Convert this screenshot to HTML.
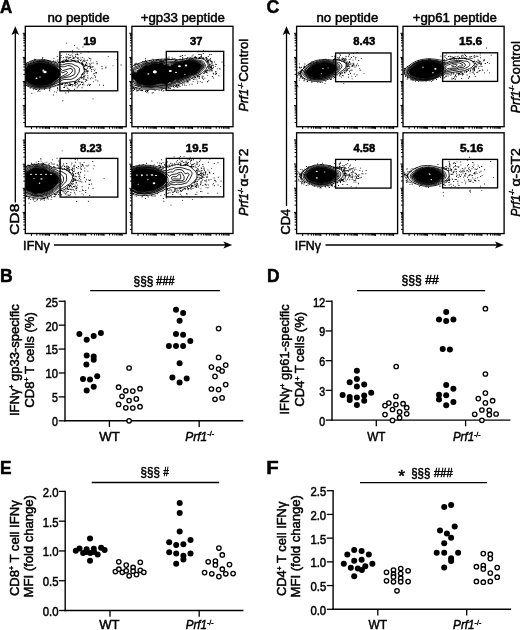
<!DOCTYPE html>
<html><head><meta charset="utf-8"><style>
html,body{margin:0;padding:0;background:#fff;}
svg{display:block;font-family:"Liberation Sans", sans-serif;will-change:transform;}
text{stroke:#000;stroke-width:0.5px;}
</style></head><body>
<svg width="520" height="630" viewBox="0 0 520 630">
<rect width="520" height="630" fill="#fff"/>
<path d="M25.3 33.3h-2.6M25.3 57.4h-2.6M25.3 81.5h-2.6M25.3 105.6h-2.6M25.3 50.2h-2.0M25.3 45.9h-2.0M25.3 42.9h-2.0M25.3 40.6h-2.0M25.3 38.7h-2.0M25.3 37.1h-2.0M25.3 35.7h-2.0M25.3 34.4h-2.0M25.3 74.3h-2.0M25.3 70.0h-2.0M25.3 67.0h-2.0M25.3 64.7h-2.0M25.3 62.8h-2.0M25.3 61.2h-2.0M25.3 59.8h-2.0M25.3 58.5h-2.0M25.3 98.4h-2.0M25.3 94.1h-2.0M25.3 91.1h-2.0M25.3 88.8h-2.0M25.3 86.9h-2.0M25.3 85.3h-2.0M25.3 83.9h-2.0M25.3 82.6h-2.0M25.3 122.5h-2.0M25.3 118.2h-2.0M25.3 115.2h-2.0M25.3 112.9h-2.0M25.3 111.0h-2.0M25.3 109.3h-2.0M25.3 108.0h-2.0M25.3 106.7h-2.0M31.4 126.7v2.4M49.5 126.7v2.4M67.7 126.7v2.4M85.8 126.7v2.4M104.0 126.7v2.4M122.2 126.7v2.4M36.8 126.7v2.0M40.0 126.7v2.0M42.3 126.7v2.0M44.0 126.7v2.0M45.5 126.7v2.0M46.7 126.7v2.0M47.8 126.7v2.0M48.7 126.7v2.0M55.0 126.7v2.0M58.2 126.7v2.0M60.5 126.7v2.0M62.2 126.7v2.0M63.6 126.7v2.0M64.9 126.7v2.0M65.9 126.7v2.0M66.8 126.7v2.0M73.1 126.7v2.0M76.3 126.7v2.0M78.6 126.7v2.0M80.4 126.7v2.0M81.8 126.7v2.0M83.0 126.7v2.0M84.1 126.7v2.0M85.0 126.7v2.0M91.3 126.7v2.0M94.5 126.7v2.0M96.8 126.7v2.0M98.5 126.7v2.0M100.0 126.7v2.0M101.2 126.7v2.0M102.2 126.7v2.0M103.2 126.7v2.0M109.5 126.7v2.0M112.7 126.7v2.0M114.9 126.7v2.0M116.7 126.7v2.0M118.1 126.7v2.0M119.4 126.7v2.0M120.4 126.7v2.0M121.3 126.7v2.0" stroke="#000" stroke-width="1.0" fill="none"/>
<path d="M131.9 33.3h-2.6M131.9 57.4h-2.6M131.9 81.5h-2.6M131.9 105.6h-2.6M131.9 50.2h-2.0M131.9 45.9h-2.0M131.9 42.9h-2.0M131.9 40.6h-2.0M131.9 38.7h-2.0M131.9 37.1h-2.0M131.9 35.7h-2.0M131.9 34.4h-2.0M131.9 74.3h-2.0M131.9 70.0h-2.0M131.9 67.0h-2.0M131.9 64.7h-2.0M131.9 62.8h-2.0M131.9 61.2h-2.0M131.9 59.8h-2.0M131.9 58.5h-2.0M131.9 98.4h-2.0M131.9 94.1h-2.0M131.9 91.1h-2.0M131.9 88.8h-2.0M131.9 86.9h-2.0M131.9 85.3h-2.0M131.9 83.9h-2.0M131.9 82.6h-2.0M131.9 122.5h-2.0M131.9 118.2h-2.0M131.9 115.2h-2.0M131.9 112.9h-2.0M131.9 111.0h-2.0M131.9 109.3h-2.0M131.9 108.0h-2.0M131.9 106.7h-2.0M138.0 126.7v2.4M156.2 126.7v2.4M174.4 126.7v2.4M192.6 126.7v2.4M210.8 126.7v2.4M229.0 126.7v2.4M143.4 126.7v2.0M146.6 126.7v2.0M148.9 126.7v2.0M150.7 126.7v2.0M152.1 126.7v2.0M153.3 126.7v2.0M154.4 126.7v2.0M155.3 126.7v2.0M161.6 126.7v2.0M164.8 126.7v2.0M167.1 126.7v2.0M168.9 126.7v2.0M170.3 126.7v2.0M171.5 126.7v2.0M172.6 126.7v2.0M173.5 126.7v2.0M179.8 126.7v2.0M183.0 126.7v2.0M185.3 126.7v2.0M187.1 126.7v2.0M188.5 126.7v2.0M189.7 126.7v2.0M190.8 126.7v2.0M191.7 126.7v2.0M198.0 126.7v2.0M201.2 126.7v2.0M203.5 126.7v2.0M205.3 126.7v2.0M206.7 126.7v2.0M207.9 126.7v2.0M209.0 126.7v2.0M209.9 126.7v2.0M216.2 126.7v2.0M219.4 126.7v2.0M221.7 126.7v2.0M223.5 126.7v2.0M224.9 126.7v2.0M226.1 126.7v2.0M227.2 126.7v2.0M228.1 126.7v2.0" stroke="#000" stroke-width="1.0" fill="none"/>
<path d="M25.3 140.1h-2.6M25.3 164.2h-2.6M25.3 188.3h-2.6M25.3 212.4h-2.6M25.3 157.0h-2.0M25.3 152.7h-2.0M25.3 149.7h-2.0M25.3 147.4h-2.0M25.3 145.5h-2.0M25.3 143.9h-2.0M25.3 142.5h-2.0M25.3 141.2h-2.0M25.3 181.1h-2.0M25.3 176.8h-2.0M25.3 173.8h-2.0M25.3 171.5h-2.0M25.3 169.6h-2.0M25.3 168.0h-2.0M25.3 166.6h-2.0M25.3 165.3h-2.0M25.3 205.2h-2.0M25.3 200.9h-2.0M25.3 197.9h-2.0M25.3 195.6h-2.0M25.3 193.7h-2.0M25.3 192.1h-2.0M25.3 190.7h-2.0M25.3 189.4h-2.0M25.3 229.3h-2.0M25.3 225.0h-2.0M25.3 222.0h-2.0M25.3 219.7h-2.0M25.3 217.8h-2.0M25.3 216.1h-2.0M25.3 214.8h-2.0M25.3 213.5h-2.0M31.4 233.5v2.4M49.5 233.5v2.4M67.7 233.5v2.4M85.8 233.5v2.4M104.0 233.5v2.4M122.2 233.5v2.4M36.8 233.5v2.0M40.0 233.5v2.0M42.3 233.5v2.0M44.0 233.5v2.0M45.5 233.5v2.0M46.7 233.5v2.0M47.8 233.5v2.0M48.7 233.5v2.0M55.0 233.5v2.0M58.2 233.5v2.0M60.5 233.5v2.0M62.2 233.5v2.0M63.6 233.5v2.0M64.9 233.5v2.0M65.9 233.5v2.0M66.8 233.5v2.0M73.1 233.5v2.0M76.3 233.5v2.0M78.6 233.5v2.0M80.4 233.5v2.0M81.8 233.5v2.0M83.0 233.5v2.0M84.1 233.5v2.0M85.0 233.5v2.0M91.3 233.5v2.0M94.5 233.5v2.0M96.8 233.5v2.0M98.5 233.5v2.0M100.0 233.5v2.0M101.2 233.5v2.0M102.2 233.5v2.0M103.2 233.5v2.0M109.5 233.5v2.0M112.7 233.5v2.0M114.9 233.5v2.0M116.7 233.5v2.0M118.1 233.5v2.0M119.4 233.5v2.0M120.4 233.5v2.0M121.3 233.5v2.0" stroke="#000" stroke-width="1.0" fill="none"/>
<path d="M131.9 140.1h-2.6M131.9 164.2h-2.6M131.9 188.3h-2.6M131.9 212.4h-2.6M131.9 157.0h-2.0M131.9 152.7h-2.0M131.9 149.7h-2.0M131.9 147.4h-2.0M131.9 145.5h-2.0M131.9 143.9h-2.0M131.9 142.5h-2.0M131.9 141.2h-2.0M131.9 181.1h-2.0M131.9 176.8h-2.0M131.9 173.8h-2.0M131.9 171.5h-2.0M131.9 169.6h-2.0M131.9 168.0h-2.0M131.9 166.6h-2.0M131.9 165.3h-2.0M131.9 205.2h-2.0M131.9 200.9h-2.0M131.9 197.9h-2.0M131.9 195.6h-2.0M131.9 193.7h-2.0M131.9 192.1h-2.0M131.9 190.7h-2.0M131.9 189.4h-2.0M131.9 229.3h-2.0M131.9 225.0h-2.0M131.9 222.0h-2.0M131.9 219.7h-2.0M131.9 217.8h-2.0M131.9 216.1h-2.0M131.9 214.8h-2.0M131.9 213.5h-2.0M138.0 233.5v2.4M156.2 233.5v2.4M174.4 233.5v2.4M192.6 233.5v2.4M210.8 233.5v2.4M229.0 233.5v2.4M143.4 233.5v2.0M146.6 233.5v2.0M148.9 233.5v2.0M150.7 233.5v2.0M152.1 233.5v2.0M153.3 233.5v2.0M154.4 233.5v2.0M155.3 233.5v2.0M161.6 233.5v2.0M164.8 233.5v2.0M167.1 233.5v2.0M168.9 233.5v2.0M170.3 233.5v2.0M171.5 233.5v2.0M172.6 233.5v2.0M173.5 233.5v2.0M179.8 233.5v2.0M183.0 233.5v2.0M185.3 233.5v2.0M187.1 233.5v2.0M188.5 233.5v2.0M189.7 233.5v2.0M190.8 233.5v2.0M191.7 233.5v2.0M198.0 233.5v2.0M201.2 233.5v2.0M203.5 233.5v2.0M205.3 233.5v2.0M206.7 233.5v2.0M207.9 233.5v2.0M209.0 233.5v2.0M209.9 233.5v2.0M216.2 233.5v2.0M219.4 233.5v2.0M221.7 233.5v2.0M223.5 233.5v2.0M224.9 233.5v2.0M226.1 233.5v2.0M227.2 233.5v2.0M228.1 233.5v2.0" stroke="#000" stroke-width="1.0" fill="none"/>
<path d="M296.6 33.3h-2.6M296.6 57.4h-2.6M296.6 81.5h-2.6M296.6 105.6h-2.6M296.6 50.2h-2.0M296.6 45.9h-2.0M296.6 42.9h-2.0M296.6 40.6h-2.0M296.6 38.7h-2.0M296.6 37.1h-2.0M296.6 35.7h-2.0M296.6 34.4h-2.0M296.6 74.3h-2.0M296.6 70.0h-2.0M296.6 67.0h-2.0M296.6 64.7h-2.0M296.6 62.8h-2.0M296.6 61.2h-2.0M296.6 59.8h-2.0M296.6 58.5h-2.0M296.6 98.4h-2.0M296.6 94.1h-2.0M296.6 91.1h-2.0M296.6 88.8h-2.0M296.6 86.9h-2.0M296.6 85.3h-2.0M296.6 83.9h-2.0M296.6 82.6h-2.0M296.6 122.5h-2.0M296.6 118.2h-2.0M296.6 115.2h-2.0M296.6 112.9h-2.0M296.6 111.0h-2.0M296.6 109.3h-2.0M296.6 108.0h-2.0M296.6 106.7h-2.0M302.7 126.7v2.4M320.8 126.7v2.4M339.0 126.7v2.4M357.2 126.7v2.4M375.4 126.7v2.4M393.6 126.7v2.4M308.1 126.7v2.0M311.3 126.7v2.0M313.6 126.7v2.0M315.4 126.7v2.0M316.8 126.7v2.0M318.0 126.7v2.0M319.1 126.7v2.0M320.0 126.7v2.0M326.3 126.7v2.0M329.5 126.7v2.0M331.8 126.7v2.0M333.5 126.7v2.0M335.0 126.7v2.0M336.2 126.7v2.0M337.3 126.7v2.0M338.2 126.7v2.0M344.5 126.7v2.0M347.7 126.7v2.0M350.0 126.7v2.0M351.7 126.7v2.0M353.2 126.7v2.0M354.4 126.7v2.0M355.4 126.7v2.0M356.4 126.7v2.0M362.7 126.7v2.0M365.9 126.7v2.0M368.1 126.7v2.0M369.9 126.7v2.0M371.3 126.7v2.0M372.6 126.7v2.0M373.6 126.7v2.0M374.5 126.7v2.0M380.9 126.7v2.0M384.1 126.7v2.0M386.3 126.7v2.0M388.1 126.7v2.0M389.5 126.7v2.0M390.7 126.7v2.0M391.8 126.7v2.0M392.7 126.7v2.0" stroke="#000" stroke-width="1.0" fill="none"/>
<path d="M403.0 33.3h-2.6M403.0 57.4h-2.6M403.0 81.5h-2.6M403.0 105.6h-2.6M403.0 50.2h-2.0M403.0 45.9h-2.0M403.0 42.9h-2.0M403.0 40.6h-2.0M403.0 38.7h-2.0M403.0 37.1h-2.0M403.0 35.7h-2.0M403.0 34.4h-2.0M403.0 74.3h-2.0M403.0 70.0h-2.0M403.0 67.0h-2.0M403.0 64.7h-2.0M403.0 62.8h-2.0M403.0 61.2h-2.0M403.0 59.8h-2.0M403.0 58.5h-2.0M403.0 98.4h-2.0M403.0 94.1h-2.0M403.0 91.1h-2.0M403.0 88.8h-2.0M403.0 86.9h-2.0M403.0 85.3h-2.0M403.0 83.9h-2.0M403.0 82.6h-2.0M403.0 122.5h-2.0M403.0 118.2h-2.0M403.0 115.2h-2.0M403.0 112.9h-2.0M403.0 111.0h-2.0M403.0 109.3h-2.0M403.0 108.0h-2.0M403.0 106.7h-2.0M409.1 126.7v2.4M427.3 126.7v2.4M445.5 126.7v2.4M463.7 126.7v2.4M481.9 126.7v2.4M500.1 126.7v2.4M414.5 126.7v2.0M417.7 126.7v2.0M420.0 126.7v2.0M421.8 126.7v2.0M423.2 126.7v2.0M424.4 126.7v2.0M425.5 126.7v2.0M426.4 126.7v2.0M432.7 126.7v2.0M435.9 126.7v2.0M438.2 126.7v2.0M440.0 126.7v2.0M441.4 126.7v2.0M442.6 126.7v2.0M443.7 126.7v2.0M444.6 126.7v2.0M450.9 126.7v2.0M454.1 126.7v2.0M456.4 126.7v2.0M458.2 126.7v2.0M459.6 126.7v2.0M460.8 126.7v2.0M461.9 126.7v2.0M462.8 126.7v2.0M469.1 126.7v2.0M472.3 126.7v2.0M474.6 126.7v2.0M476.4 126.7v2.0M477.8 126.7v2.0M479.0 126.7v2.0M480.1 126.7v2.0M481.0 126.7v2.0M487.3 126.7v2.0M490.5 126.7v2.0M492.8 126.7v2.0M494.6 126.7v2.0M496.0 126.7v2.0M497.2 126.7v2.0M498.3 126.7v2.0M499.2 126.7v2.0" stroke="#000" stroke-width="1.0" fill="none"/>
<path d="M296.6 139.9h-2.6M296.6 164.0h-2.6M296.6 188.2h-2.6M296.6 212.4h-2.6M296.6 156.8h-2.0M296.6 152.5h-2.0M296.6 149.5h-2.0M296.6 147.1h-2.0M296.6 145.2h-2.0M296.6 143.6h-2.0M296.6 142.2h-2.0M296.6 141.0h-2.0M296.6 181.0h-2.0M296.6 176.7h-2.0M296.6 173.7h-2.0M296.6 171.3h-2.0M296.6 169.4h-2.0M296.6 167.8h-2.0M296.6 166.4h-2.0M296.6 165.2h-2.0M296.6 205.1h-2.0M296.6 200.9h-2.0M296.6 197.9h-2.0M296.6 195.5h-2.0M296.6 193.6h-2.0M296.6 192.0h-2.0M296.6 190.6h-2.0M296.6 189.3h-2.0M296.6 229.3h-2.0M296.6 225.1h-2.0M296.6 222.1h-2.0M296.6 219.7h-2.0M296.6 217.8h-2.0M296.6 216.2h-2.0M296.6 214.8h-2.0M296.6 213.5h-2.0M302.7 233.6v2.4M320.8 233.6v2.4M339.0 233.6v2.4M357.2 233.6v2.4M375.4 233.6v2.4M393.6 233.6v2.4M308.1 233.6v2.0M311.3 233.6v2.0M313.6 233.6v2.0M315.4 233.6v2.0M316.8 233.6v2.0M318.0 233.6v2.0M319.1 233.6v2.0M320.0 233.6v2.0M326.3 233.6v2.0M329.5 233.6v2.0M331.8 233.6v2.0M333.5 233.6v2.0M335.0 233.6v2.0M336.2 233.6v2.0M337.3 233.6v2.0M338.2 233.6v2.0M344.5 233.6v2.0M347.7 233.6v2.0M350.0 233.6v2.0M351.7 233.6v2.0M353.2 233.6v2.0M354.4 233.6v2.0M355.4 233.6v2.0M356.4 233.6v2.0M362.7 233.6v2.0M365.9 233.6v2.0M368.1 233.6v2.0M369.9 233.6v2.0M371.3 233.6v2.0M372.6 233.6v2.0M373.6 233.6v2.0M374.5 233.6v2.0M380.9 233.6v2.0M384.1 233.6v2.0M386.3 233.6v2.0M388.1 233.6v2.0M389.5 233.6v2.0M390.7 233.6v2.0M391.8 233.6v2.0M392.7 233.6v2.0" stroke="#000" stroke-width="1.0" fill="none"/>
<path d="M403.0 139.9h-2.6M403.0 164.0h-2.6M403.0 188.2h-2.6M403.0 212.4h-2.6M403.0 156.8h-2.0M403.0 152.5h-2.0M403.0 149.5h-2.0M403.0 147.1h-2.0M403.0 145.2h-2.0M403.0 143.6h-2.0M403.0 142.2h-2.0M403.0 141.0h-2.0M403.0 181.0h-2.0M403.0 176.7h-2.0M403.0 173.7h-2.0M403.0 171.3h-2.0M403.0 169.4h-2.0M403.0 167.8h-2.0M403.0 166.4h-2.0M403.0 165.2h-2.0M403.0 205.1h-2.0M403.0 200.9h-2.0M403.0 197.9h-2.0M403.0 195.5h-2.0M403.0 193.6h-2.0M403.0 192.0h-2.0M403.0 190.6h-2.0M403.0 189.3h-2.0M403.0 229.3h-2.0M403.0 225.1h-2.0M403.0 222.1h-2.0M403.0 219.7h-2.0M403.0 217.8h-2.0M403.0 216.2h-2.0M403.0 214.8h-2.0M403.0 213.5h-2.0M409.1 233.6v2.4M427.3 233.6v2.4M445.5 233.6v2.4M463.7 233.6v2.4M481.9 233.6v2.4M500.1 233.6v2.4M414.5 233.6v2.0M417.7 233.6v2.0M420.0 233.6v2.0M421.8 233.6v2.0M423.2 233.6v2.0M424.4 233.6v2.0M425.5 233.6v2.0M426.4 233.6v2.0M432.7 233.6v2.0M435.9 233.6v2.0M438.2 233.6v2.0M440.0 233.6v2.0M441.4 233.6v2.0M442.6 233.6v2.0M443.7 233.6v2.0M444.6 233.6v2.0M450.9 233.6v2.0M454.1 233.6v2.0M456.4 233.6v2.0M458.2 233.6v2.0M459.6 233.6v2.0M460.8 233.6v2.0M461.9 233.6v2.0M462.8 233.6v2.0M469.1 233.6v2.0M472.3 233.6v2.0M474.6 233.6v2.0M476.4 233.6v2.0M477.8 233.6v2.0M479.0 233.6v2.0M480.1 233.6v2.0M481.0 233.6v2.0M487.3 233.6v2.0M490.5 233.6v2.0M492.8 233.6v2.0M494.6 233.6v2.0M496.0 233.6v2.0M497.2 233.6v2.0M498.3 233.6v2.0M499.2 233.6v2.0" stroke="#000" stroke-width="1.0" fill="none"/>
<clipPath id="c1"><rect x="25.3" y="26.3" width="100.9" height="100.4"/></clipPath>
<g clip-path="url(#c1)">
<path d="M38.9 59.7h0.9v0.9h-0.9zM57.2 84.9h0.9v0.9h-0.9zM36.1 88.9h0.9v0.9h-0.9zM34.3 59.7h0.9v0.9h-0.9zM58.4 84.4h0.9v0.9h-0.9zM47.9 60.2h0.9v0.9h-0.9zM44.1 59.5h0.9v0.9h-0.9zM37.9 90.0h0.9v0.9h-0.9zM33.8 58.7h0.9v0.9h-0.9zM43.4 59.7h0.9v0.9h-0.9zM35.2 89.2h0.9v0.9h-0.9zM39.0 89.1h0.9v0.9h-0.9zM49.7 88.4h0.9v0.9h-0.9zM55.3 85.7h0.9v0.9h-0.9zM26.7 62.0h0.9v0.9h-0.9zM34.1 59.9h0.9v0.9h-0.9zM30.5 61.0h0.9v0.9h-0.9zM47.0 60.0h0.9v0.9h-0.9zM53.6 86.4h0.9v0.9h-0.9zM33.2 88.9h0.9v0.9h-0.9zM41.9 57.9h0.9v0.9h-0.9zM53.1 60.5h0.9v0.9h-0.9zM35.2 59.3h0.9v0.9h-0.9zM26.7 85.4h0.9v0.9h-0.9zM49.2 88.0h0.9v0.9h-0.9zM44.1 88.8h0.9v0.9h-0.9zM29.7 87.9h0.9v0.9h-0.9zM50.1 60.9h0.9v0.9h-0.9zM31.4 92.8h0.9v0.9h-0.9zM39.5 90.8h0.9v0.9h-0.9zM42.4 57.1h0.9v0.9h-0.9zM37.4 91.2h0.9v0.9h-0.9zM83.3 82.5h0.9v0.9h-0.9zM80.4 57.4h0.9v0.9h-0.9zM79.0 78.9h0.9v0.9h-0.9zM83.6 66.7h0.9v0.9h-0.9zM81.5 62.0h0.9v0.9h-0.9zM83.2 63.7h0.9v0.9h-0.9zM82.2 57.2h0.9v0.9h-0.9zM57.5 59.6h0.9v0.9h-0.9zM53.4 57.9h0.9v0.9h-0.9zM80.5 52.8h0.9v0.9h-0.9zM73.2 57.2h0.9v0.9h-0.9zM48.9 90.3h0.9v0.9h-0.9zM85.8 90.1h0.9v0.9h-0.9zM87.7 70.8h0.9v0.9h-0.9zM66.9 87.5h0.9v0.9h-0.9zM84.1 72.7h0.9v0.9h-0.9zM54.2 91.4h0.9v0.9h-0.9zM89.6 66.6h0.9v0.9h-0.9zM72.3 60.5h0.9v0.9h-0.9zM68.2 57.5h0.9v0.9h-0.9zM69.5 60.5h0.9v0.9h-0.9zM84.0 65.6h0.9v0.9h-0.9zM78.9 62.3h0.9v0.9h-0.9zM64.4 61.2h0.9v0.9h-0.9zM65.7 57.0h0.9v0.9h-0.9zM56.7 60.8h0.9v0.9h-0.9zM89.1 65.8h0.9v0.9h-0.9zM67.0 56.6h0.9v0.9h-0.9zM52.9 94.6h0.9v0.9h-0.9zM78.0 79.9h0.9v0.9h-0.9zM62.4 100.3h0.9v0.9h-0.9zM75.4 82.2h0.9v0.9h-0.9zM60.7 83.8h0.9v0.9h-0.9zM63.3 87.0h0.9v0.9h-0.9zM56.8 56.1h0.9v0.9h-0.9zM89.3 58.0h0.9v0.9h-0.9zM94.3 75.3h0.9v0.9h-0.9zM88.4 57.4h0.9v0.9h-0.9zM81.2 77.6h0.9v0.9h-0.9zM85.3 79.3h0.9v0.9h-0.9zM75.0 61.1h0.9v0.9h-0.9zM58.1 62.2h0.9v0.9h-0.9zM65.5 55.9h0.9v0.9h-0.9zM82.5 61.0h0.9v0.9h-0.9zM83.5 77.6h0.9v0.9h-0.9zM77.8 57.8h0.9v0.9h-0.9zM66.0 59.6h0.9v0.9h-0.9zM86.9 72.6h0.9v0.9h-0.9zM81.7 87.3h0.9v0.9h-0.9zM66.5 60.8h0.9v0.9h-0.9zM83.4 74.4h0.9v0.9h-0.9zM59.5 58.3h0.9v0.9h-0.9zM75.4 54.1h0.9v0.9h-0.9zM70.1 84.6h0.9v0.9h-0.9zM72.7 58.0h0.9v0.9h-0.9zM83.8 75.9h0.9v0.9h-0.9zM63.7 61.7h0.9v0.9h-0.9zM86.4 80.1h0.9v0.9h-0.9zM68.8 88.9h0.9v0.9h-0.9zM81.7 62.3h0.9v0.9h-0.9zM76.9 57.9h0.9v0.9h-0.9zM83.5 76.8h0.9v0.9h-0.9zM64.9 82.9h0.9v0.9h-0.9zM85.4 79.1h0.9v0.9h-0.9zM74.2 57.6h0.9v0.9h-0.9zM62.2 60.6h0.9v0.9h-0.9zM68.1 59.9h0.9v0.9h-0.9zM81.8 63.4h0.9v0.9h-0.9zM75.0 55.8h0.9v0.9h-0.9zM82.0 63.3h0.9v0.9h-0.9zM75.2 82.1h0.9v0.9h-0.9zM75.3 81.3h0.9v0.9h-0.9zM80.9 62.4h0.9v0.9h-0.9zM68.7 85.0h0.9v0.9h-0.9zM70.6 58.9h0.9v0.9h-0.9zM75.5 60.5h0.9v0.9h-0.9zM70.8 84.0h0.9v0.9h-0.9zM57.2 88.2h0.9v0.9h-0.9zM63.0 56.9h0.9v0.9h-0.9zM73.7 60.6h0.9v0.9h-0.9zM69.3 82.3h0.9v0.9h-0.9zM89.6 64.0h0.9v0.9h-0.9zM67.2 61.0h0.9v0.9h-0.9zM62.9 61.8h0.9v0.9h-0.9zM62.1 83.1h0.9v0.9h-0.9zM65.3 60.1h0.9v0.9h-0.9zM83.1 76.3h0.9v0.9h-0.9zM65.4 85.5h0.9v0.9h-0.9zM95.8 72.1h0.9v0.9h-0.9zM75.6 56.8h0.9v0.9h-0.9zM58.1 84.3h0.9v0.9h-0.9zM83.9 65.9h0.9v0.9h-0.9zM72.7 84.3h0.9v0.9h-0.9zM70.8 61.2h0.9v0.9h-0.9zM97.1 63.4h0.9v0.9h-0.9zM61.4 83.5h0.9v0.9h-0.9zM79.9 84.1h0.9v0.9h-0.9zM65.4 92.6h0.9v0.9h-0.9zM68.4 84.6h0.9v0.9h-0.9zM71.9 85.7h0.9v0.9h-0.9zM81.4 76.9h0.9v0.9h-0.9zM75.4 83.8h0.9v0.9h-0.9zM86.8 67.9h0.9v0.9h-0.9zM41.5 59.1h0.9v0.9h-0.9zM67.7 84.5h0.9v0.9h-0.9zM67.1 59.9h0.9v0.9h-0.9zM86.7 60.0h0.9v0.9h-0.9zM81.3 81.4h0.9v0.9h-0.9zM84.3 70.8h0.9v0.9h-0.9zM81.1 62.5h0.9v0.9h-0.9zM60.5 57.1h0.9v0.9h-0.9zM67.7 88.6h0.9v0.9h-0.9zM87.7 77.7h0.9v0.9h-0.9zM78.0 61.3h0.9v0.9h-0.9zM73.6 57.5h0.9v0.9h-0.9zM63.6 59.5h0.9v0.9h-0.9zM96.4 63.3h0.9v0.9h-0.9zM56.4 62.8h0.9v0.9h-0.9zM80.8 59.5h0.9v0.9h-0.9zM64.8 59.5h0.9v0.9h-0.9zM82.1 84.0h0.9v0.9h-0.9zM78.6 84.6h0.9v0.9h-0.9zM53.7 61.7h0.9v0.9h-0.9zM62.0 61.9h0.9v0.9h-0.9zM67.6 84.5h0.9v0.9h-0.9zM60.3 62.1h0.9v0.9h-0.9zM69.4 55.2h0.9v0.9h-0.9zM85.4 71.7h0.9v0.9h-0.9zM87.4 75.3h0.9v0.9h-0.9zM66.4 83.2h0.9v0.9h-0.9zM64.1 87.1h0.9v0.9h-0.9zM74.4 82.7h0.9v0.9h-0.9zM76.8 54.0h0.9v0.9h-0.9zM90.7 66.9h0.9v0.9h-0.9zM74.9 85.4h0.9v0.9h-0.9zM79.4 81.0h0.9v0.9h-0.9zM90.2 67.1h0.9v0.9h-0.9zM75.4 81.7h0.9v0.9h-0.9zM66.8 60.5h0.9v0.9h-0.9zM77.5 57.1h0.9v0.9h-0.9zM69.1 83.4h0.9v0.9h-0.9zM83.4 79.2h0.9v0.9h-0.9zM74.3 85.2h0.9v0.9h-0.9zM61.3 84.2h0.9v0.9h-0.9zM48.9 60.8h0.9v0.9h-0.9zM83.4 65.1h0.9v0.9h-0.9zM84.6 75.3h0.9v0.9h-0.9zM83.3 73.3h0.9v0.9h-0.9zM49.1 88.6h0.9v0.9h-0.9zM58.2 61.6h0.9v0.9h-0.9zM70.1 84.9h0.9v0.9h-0.9zM77.9 60.4h0.9v0.9h-0.9zM61.5 83.4h0.9v0.9h-0.9zM75.5 84.1h0.9v0.9h-0.9zM87.0 77.4h0.9v0.9h-0.9zM88.4 65.9h0.9v0.9h-0.9zM82.0 64.2h0.9v0.9h-0.9zM74.2 82.6h0.9v0.9h-0.9zM88.8 63.2h0.9v0.9h-0.9zM90.7 66.4h0.9v0.9h-0.9zM57.3 89.6h0.9v0.9h-0.9zM83.0 59.9h0.9v0.9h-0.9zM69.2 84.7h0.9v0.9h-0.9zM84.9 68.7h0.9v0.9h-0.9zM62.8 61.0h0.9v0.9h-0.9zM76.6 60.4h0.9v0.9h-0.9zM68.0 91.5h0.9v0.9h-0.9zM71.7 84.3h0.9v0.9h-0.9zM61.9 61.3h0.9v0.9h-0.9zM84.1 68.1h0.9v0.9h-0.9zM84.9 81.0h0.9v0.9h-0.9zM71.4 59.6h0.9v0.9h-0.9zM71.9 84.2h0.9v0.9h-0.9zM59.5 62.3h0.9v0.9h-0.9zM86.7 71.0h0.9v0.9h-0.9zM87.4 69.9h0.9v0.9h-0.9zM74.0 88.8h0.9v0.9h-0.9zM72.5 58.0h0.9v0.9h-0.9zM75.6 81.5h0.9v0.9h-0.9zM59.0 58.9h0.9v0.9h-0.9zM86.1 69.5h0.9v0.9h-0.9zM62.1 84.1h0.9v0.9h-0.9zM70.4 58.9h0.9v0.9h-0.9zM77.6 81.0h0.9v0.9h-0.9zM59.0 57.3h0.9v0.9h-0.9zM65.8 85.1h0.9v0.9h-0.9zM66.0 53.7h0.9v0.9h-0.9zM81.5 63.4h0.9v0.9h-0.9zM78.7 59.2h0.9v0.9h-0.9zM61.3 61.1h0.9v0.9h-0.9zM80.6 77.3h0.9v0.9h-0.9zM92.5 66.1h0.9v0.9h-0.9zM75.3 85.4h0.9v0.9h-0.9zM74.8 81.8h0.9v0.9h-0.9zM74.7 81.6h0.9v0.9h-0.9zM95.4 79.6h0.9v0.9h-0.9zM89.8 60.4h0.9v0.9h-0.9zM68.5 57.4h0.9v0.9h-0.9zM56.0 91.7h0.9v0.9h-0.9zM82.1 63.1h0.9v0.9h-0.9zM80.1 60.0h0.9v0.9h-0.9zM76.8 87.3h0.9v0.9h-0.9zM80.4 77.6h0.9v0.9h-0.9zM68.2 53.9h0.9v0.9h-0.9zM83.4 78.5h0.9v0.9h-0.9zM66.9 82.8h0.9v0.9h-0.9zM74.2 60.1h0.9v0.9h-0.9zM60.7 55.0h0.9v0.9h-0.9zM86.3 65.2h0.9v0.9h-0.9zM69.9 83.5h0.9v0.9h-0.9zM62.6 61.9h0.9v0.9h-0.9zM82.8 64.2h0.9v0.9h-0.9zM57.0 87.3h0.9v0.9h-0.9zM77.5 54.3h0.9v0.9h-0.9zM68.4 58.6h0.9v0.9h-0.9zM64.1 85.5h0.9v0.9h-0.9zM72.0 55.7h0.9v0.9h-0.9zM75.1 60.6h0.9v0.9h-0.9zM89.8 65.5h0.9v0.9h-0.9zM77.5 79.5h0.9v0.9h-0.9zM59.1 60.5h0.9v0.9h-0.9zM70.1 85.0h0.9v0.9h-0.9zM74.3 82.1h0.9v0.9h-0.9zM58.8 61.8h0.9v0.9h-0.9zM54.8 60.8h0.9v0.9h-0.9zM62.7 83.2h0.9v0.9h-0.9zM83.5 65.9h0.9v0.9h-0.9zM74.6 83.2h0.9v0.9h-0.9zM64.3 83.5h0.9v0.9h-0.9zM85.8 65.3h0.9v0.9h-0.9zM94.6 68.7h0.9v0.9h-0.9zM77.7 60.3h0.9v0.9h-0.9zM62.9 60.6h0.9v0.9h-0.9zM66.3 58.6h0.9v0.9h-0.9zM65.3 83.3h0.9v0.9h-0.9zM85.2 64.6h0.9v0.9h-0.9zM68.8 57.0h0.9v0.9h-0.9zM66.3 59.5h0.9v0.9h-0.9zM87.6 66.1h0.9v0.9h-0.9zM64.9 60.0h0.9v0.9h-0.9zM101.6 68.3h0.9v0.9h-0.9zM76.8 52.7h0.9v0.9h-0.9zM84.1 72.6h0.9v0.9h-0.9zM85.8 62.4h0.9v0.9h-0.9zM103.0 84.8h0.9v0.9h-0.9zM84.5 59.9h0.9v0.9h-0.9zM74.0 83.3h0.9v0.9h-0.9zM112.6 65.4h0.9v0.9h-0.9zM65.9 61.1h0.9v0.9h-0.9zM87.7 51.7h0.9v0.9h-0.9zM85.5 69.0h0.9v0.9h-0.9zM58.1 84.7h0.9v0.9h-0.9zM88.5 83.8h0.9v0.9h-0.9zM72.8 59.9h0.9v0.9h-0.9zM101.5 66.0h0.9v0.9h-0.9zM72.7 57.4h0.9v0.9h-0.9zM86.7 72.9h0.9v0.9h-0.9zM92.6 98.4h0.9v0.9h-0.9zM85.0 64.6h0.9v0.9h-0.9zM81.9 81.8h0.9v0.9h-0.9zM86.5 65.0h0.9v0.9h-0.9zM97.4 80.6h0.9v0.9h-0.9zM78.2 84.9h0.9v0.9h-0.9zM90.9 69.1h0.9v0.9h-0.9zM87.2 67.4h0.9v0.9h-0.9zM93.9 72.9h0.9v0.9h-0.9zM79.4 81.3h0.9v0.9h-0.9zM82.5 46.6h0.9v0.9h-0.9zM90.7 62.8h0.9v0.9h-0.9zM120.6 64.5h0.9v0.9h-0.9zM96.4 61.3h0.9v0.9h-0.9zM76.7 47.6h0.9v0.9h-0.9zM86.0 79.6h0.9v0.9h-0.9zM89.0 85.1h0.9v0.9h-0.9zM95.1 76.5h0.9v0.9h-0.9zM92.6 62.6h0.9v0.9h-0.9zM91.1 77.4h0.9v0.9h-0.9zM84.9 65.3h0.9v0.9h-0.9zM85.8 70.7h0.9v0.9h-0.9zM93.1 73.4h0.9v0.9h-0.9zM82.1 74.0h0.9v0.9h-0.9zM86.1 62.0h0.9v0.9h-0.9zM86.9 59.7h0.9v0.9h-0.9zM92.3 66.9h0.9v0.9h-0.9zM99.1 84.5h0.9v0.9h-0.9zM91.2 70.8h0.9v0.9h-0.9zM84.1 69.1h0.9v0.9h-0.9zM95.1 72.4h0.9v0.9h-0.9zM74.0 45.2h0.9v0.9h-0.9zM83.4 75.8h0.9v0.9h-0.9zM78.5 81.4h0.9v0.9h-0.9zM86.5 63.6h0.9v0.9h-0.9zM92.7 69.2h0.9v0.9h-0.9zM105.4 67.6h0.9v0.9h-0.9zM69.7 55.4h0.9v0.9h-0.9zM96.2 72.4h0.9v0.9h-0.9zM107.8 56.2h0.9v0.9h-0.9zM82.0 76.9h0.9v0.9h-0.9zM84.4 60.4h0.9v0.9h-0.9zM82.1 84.3h0.9v0.9h-0.9zM95.9 72.5h0.9v0.9h-0.9zM85.3 69.3h0.9v0.9h-0.9zM78.4 48.7h0.9v0.9h-0.9zM74.0 82.5h0.9v0.9h-0.9zM89.7 68.0h0.9v0.9h-0.9zM72.2 49.9h0.9v0.9h-0.9zM89.9 78.3h0.9v0.9h-0.9zM77.7 85.9h0.9v0.9h-0.9zM94.2 70.3h0.9v0.9h-0.9zM83.4 84.3h0.9v0.9h-0.9zM83.7 58.6h0.9v0.9h-0.9zM82.4 60.8h0.9v0.9h-0.9zM77.0 83.3h0.9v0.9h-0.9zM95.1 76.8h0.9v0.9h-0.9zM93.0 81.4h0.9v0.9h-0.9zM116.6 59.2h0.9v0.9h-0.9zM88.9 44.0h0.9v0.9h-0.9zM87.3 70.8h0.9v0.9h-0.9zM87.0 84.8h0.9v0.9h-0.9zM90.4 58.5h0.9v0.9h-0.9zM84.4 61.1h0.9v0.9h-0.9zM89.8 84.1h0.9v0.9h-0.9zM72.3 55.5h0.9v0.9h-0.9zM77.0 60.5h0.9v0.9h-0.9zM70.7 54.4h0.9v0.9h-0.9zM66.0 42.7h0.9v0.9h-0.9zM70.3 57.1h0.9v0.9h-0.9zM81.4 76.9h0.9v0.9h-0.9zM92.5 77.7h0.9v0.9h-0.9zM81.6 77.5h0.9v0.9h-0.9zM72.3 52.5h0.9v0.9h-0.9zM81.0 82.0h0.9v0.9h-0.9zM84.9 63.8h0.9v0.9h-0.9zM71.6 60.1h0.9v0.9h-0.9zM105.4 66.7h0.9v0.9h-0.9zM76.5 82.2h0.9v0.9h-0.9zM81.7 63.6h0.9v0.9h-0.9zM84.8 75.4h0.9v0.9h-0.9z" fill="#000"/>
<path d="M34.3 60.0l10.7 -0.3l8.5 2.1l4.0 1.4l4.0 -1.0l2.0 -0.0l3.0 -0.9l3.0 0.1l3.5 -0.8l3.0 1.4l2.5 0.2l2.1 0.9l2.6 3.0l1.2 5.0l-0.4 1.2l-2.1 1.8l-0.5 2.5l-6.4 4.8l-9.0 1.2l-4.5 0.6l-11.5 4.5l-8.0 1.3l-5.5 -0.1l-2.5 -0.4l-5.0 -1.6l-3.5 -2.1l-3.0 -2.8l-2.5 -3.7l-0.9 -3.8l0.5 -3.5l3.4 -5.0l1.6 -1.5l5.9 -3.3l3.8 -1.2M34.9 61.0l3.7 -0.4l6.5 0.0l8.0 2.4l3.5 1.4l2.0 0.4l4.0 0.1l4.5 -1.3l4.5 0.2l1.5 0.5l2.0 1.3l2.5 0.7l1.9 2.2l-0.3 3.5l-3.3 5.0l-4.3 2.3l-7.5 0.2l-1.5 0.4l-2.4 1.6l-10.1 5.1l-8.5 1.5l-5.5 -0.3l-2.5 -0.5l-4.5 -1.5l-3.4 -2.2l-2.4 -2.5l-2.4 -4.5l-0.6 -2.5l0.4 -2.5l3.1 -4.5l2.2 -2.2l4.5 -2.4l4.3 -1.4M36.5 61.5l8.6 -0.1l11.5 4.0l5.5 1.5l2.5 -0.2l3.0 -1.1l1.5 -0.1l3.0 1.1l1.7 1.4l0.9 1.0l0.3 1.0l-0.1 3.5l-0.8 1.4l-4.0 1.7l-8.0 1.8l-2.5 2.0l-3.0 1.8l-3.5 2.3l-3.5 1.6l-9.0 1.4l-5.5 -0.5l-4.5 -1.3l-2.5 -1.2l-3.0 -2.4l-1.1 -1.4l-2.3 -5.0l-0.3 -2.5l0.6 -2.0l3.0 -4.0l2.1 -2.1l5.5 -2.5l3.9 -0.9M36.7 62.0l7.8 -0.2l5.0 1.5l9.5 3.8l1.3 0.9l1.4 2.0l0.8 0.6l7.5 -2.0l1.0 -0.1l1.0 0.5l0.5 1.5l-0.4 1.5l-2.8 2.5l-1.9 1.1l-6.0 2.0l-5.9 4.4l-2.9 2.0l-3.6 1.6l-6.5 1.2l-2.5 0.1l-5.0 -0.6l-4.5 -1.4l-2.5 -1.3l-2.6 -2.2l-1.0 -1.5l-2.1 -5.0l-0.2 -2.0l0.6 -2.0l3.0 -4.0l1.8 -1.8l5.5 -2.3l3.7 -0.9M36.8 62.5l7.2 -0.3l2.5 0.6l11.6 4.7l1.1 1.0l1.8 3.2l1.0 0.9l1.0 0.2l2.5 -1.4l1.0 0.1l0.8 0.5l0.2 0.5l-0.5 1.0l-5.9 3.3l-2.9 2.7l-5.6 4.0l-4.4 1.8l-6.0 1.1l-4.0 -0.0l-4.0 -0.8l-4.5 -1.6l-2.0 -1.3l-2.2 -2.1l-2.5 -6.5l0.1 -2.0l1.0 -2.0l4.0 -4.5l5.0 -2.0l3.8 -1.0M38.0 63.0l6.5 -0.1l4.0 1.1l8.0 3.5l1.7 1.5l1.1 2.0l0.9 4.0l-2.3 3.5l-5.5 4.2l-3.5 1.7l-2.5 0.6l-6.0 0.9l-5.5 -0.7l-6.0 -2.3l-2.8 -2.3l-0.9 -1.5l-1.6 -5.5l0.3 -2.0l1.1 -2.0l2.5 -3.0l1.3 -0.9l6.2 -2.1l2.8 -0.5" fill="none" stroke="#000" stroke-width="0.85"/>
<path d="M38.0 63.0l6.5 -0.1l4.0 1.1l8.0 3.5l1.7 1.5l1.1 2.0l0.9 4.0l-2.3 3.5l-5.5 4.2l-3.5 1.7l-2.5 0.6l-6.0 0.9l-5.5 -0.7l-6.0 -2.3l-2.8 -2.3l-0.9 -1.5l-1.6 -5.5l0.3 -2.0l1.1 -2.0l2.5 -3.0l1.3 -0.9l6.2 -2.1l2.8 -0.5Z" fill="#000" fill-rule="evenodd"/>
<ellipse cx="43.3" cy="70.2" rx="1.06" ry="0.75" fill="#fff"/><ellipse cx="36.5" cy="78.3" rx="0.97" ry="0.82" fill="#fff"/><ellipse cx="43.1" cy="71.8" rx="0.71" ry="0.47" fill="#fff"/>
<ellipse cx="45" cy="72" rx="1.7" ry="1.2" transform="rotate(0 45 72)" fill="#fff"/>
<ellipse cx="40" cy="77" rx="0.8" ry="0.6" transform="rotate(0 40 77)" fill="#fff"/>
</g>
<rect x="25.30" y="26.30" width="100.90" height="100.40" fill="none" stroke="#000" stroke-width="1.35"/>
<rect x="59.90" y="51.80" width="57.80" height="39.00" fill="none" stroke="#000" stroke-width="1.35"/>
<clipPath id="c2"><rect x="131.9" y="26.3" width="101.1" height="100.4"/></clipPath>
<g clip-path="url(#c2)">
<path d="M134.9 87.3h0.9v0.9h-0.9zM164.7 58.6h0.9v0.9h-0.9zM155.5 59.7h0.9v0.9h-0.9zM133.2 87.6h0.9v0.9h-0.9zM137.6 63.7h0.9v0.9h-0.9zM169.0 59.2h0.9v0.9h-0.9zM194.2 77.2h0.9v0.9h-0.9zM168.7 57.9h0.9v0.9h-0.9zM150.7 60.3h0.9v0.9h-0.9zM144.9 91.1h0.9v0.9h-0.9zM178.7 85.4h0.9v0.9h-0.9zM187.8 80.8h0.9v0.9h-0.9zM143.6 61.4h0.9v0.9h-0.9zM151.7 92.6h0.9v0.9h-0.9zM181.6 83.4h0.9v0.9h-0.9zM193.4 77.3h0.9v0.9h-0.9zM173.5 88.9h0.9v0.9h-0.9zM171.0 59.2h0.9v0.9h-0.9zM173.2 58.9h0.9v0.9h-0.9zM136.3 90.6h0.9v0.9h-0.9zM165.3 89.6h0.9v0.9h-0.9zM176.2 59.1h0.9v0.9h-0.9zM175.9 60.2h0.9v0.9h-0.9zM173.6 86.9h0.9v0.9h-0.9zM134.5 63.5h0.9v0.9h-0.9zM135.5 63.7h0.9v0.9h-0.9zM179.4 59.4h0.9v0.9h-0.9zM152.4 58.8h0.9v0.9h-0.9zM137.2 90.3h0.9v0.9h-0.9zM184.4 82.4h0.9v0.9h-0.9zM194.4 79.2h0.9v0.9h-0.9zM174.4 58.1h0.9v0.9h-0.9zM146.0 61.1h0.9v0.9h-0.9zM175.7 84.8h0.9v0.9h-0.9zM177.2 86.7h0.9v0.9h-0.9zM187.0 80.9h0.9v0.9h-0.9zM169.5 88.1h0.9v0.9h-0.9zM174.6 59.7h0.9v0.9h-0.9zM173.0 86.1h0.9v0.9h-0.9zM138.6 63.8h0.9v0.9h-0.9zM176.6 85.0h0.9v0.9h-0.9zM140.0 89.8h0.9v0.9h-0.9zM169.8 90.0h0.9v0.9h-0.9zM168.3 88.2h0.9v0.9h-0.9zM136.5 88.9h0.9v0.9h-0.9zM160.8 90.1h0.9v0.9h-0.9zM164.4 58.5h0.9v0.9h-0.9zM136.4 88.0h0.9v0.9h-0.9zM147.1 91.0h0.9v0.9h-0.9zM133.9 88.7h0.9v0.9h-0.9zM157.7 58.9h0.9v0.9h-0.9zM168.5 56.6h0.9v0.9h-0.9zM185.8 85.2h0.9v0.9h-0.9zM147.1 90.3h0.9v0.9h-0.9zM141.0 89.9h0.9v0.9h-0.9zM175.0 85.9h0.9v0.9h-0.9zM132.6 88.3h0.9v0.9h-0.9zM182.1 84.6h0.9v0.9h-0.9zM135.4 88.7h0.9v0.9h-0.9zM189.5 80.2h0.9v0.9h-0.9zM132.7 87.2h0.9v0.9h-0.9zM136.3 90.2h0.9v0.9h-0.9zM166.5 88.4h0.9v0.9h-0.9zM183.4 82.6h0.9v0.9h-0.9zM167.5 59.2h0.9v0.9h-0.9zM145.9 60.9h0.9v0.9h-0.9zM145.4 89.8h0.9v0.9h-0.9zM171.8 59.1h0.9v0.9h-0.9zM134.7 64.8h0.9v0.9h-0.9zM133.9 64.7h0.9v0.9h-0.9zM158.7 89.8h0.9v0.9h-0.9zM163.4 89.9h0.9v0.9h-0.9zM167.8 58.6h0.9v0.9h-0.9zM178.6 84.8h0.9v0.9h-0.9zM189.2 84.4h0.9v0.9h-0.9zM164.8 59.0h0.9v0.9h-0.9zM146.6 90.1h0.9v0.9h-0.9zM135.7 62.7h0.9v0.9h-0.9zM156.4 59.7h0.9v0.9h-0.9zM145.2 60.1h0.9v0.9h-0.9zM198.9 75.7h0.9v0.9h-0.9zM142.0 89.9h0.9v0.9h-0.9zM132.9 90.0h0.9v0.9h-0.9zM175.9 86.3h0.9v0.9h-0.9zM185.9 81.6h0.9v0.9h-0.9zM172.6 57.9h0.9v0.9h-0.9zM162.7 90.7h0.9v0.9h-0.9zM136.9 90.3h0.9v0.9h-0.9zM161.3 89.2h0.9v0.9h-0.9zM147.6 92.4h0.9v0.9h-0.9zM157.3 58.9h0.9v0.9h-0.9zM191.6 83.8h0.9v0.9h-0.9zM175.7 85.2h0.9v0.9h-0.9zM141.9 90.0h0.9v0.9h-0.9zM149.1 60.3h0.9v0.9h-0.9zM170.5 59.0h0.9v0.9h-0.9zM174.6 59.1h0.9v0.9h-0.9zM132.0 87.5h0.9v0.9h-0.9zM179.6 86.2h0.9v0.9h-0.9zM177.4 87.2h0.9v0.9h-0.9zM176.5 86.2h0.9v0.9h-0.9zM187.2 81.0h0.9v0.9h-0.9zM167.0 57.7h0.9v0.9h-0.9zM153.0 60.2h0.9v0.9h-0.9zM138.4 90.0h0.9v0.9h-0.9zM152.8 92.2h0.9v0.9h-0.9zM134.1 89.0h0.9v0.9h-0.9zM146.4 89.9h0.9v0.9h-0.9zM145.9 91.8h0.9v0.9h-0.9zM156.0 59.8h0.9v0.9h-0.9zM137.0 63.9h0.9v0.9h-0.9zM138.7 88.9h0.9v0.9h-0.9zM171.6 57.6h0.9v0.9h-0.9zM147.8 90.2h0.9v0.9h-0.9zM160.7 59.1h0.9v0.9h-0.9zM132.8 86.9h0.9v0.9h-0.9zM192.0 77.9h0.9v0.9h-0.9zM169.9 87.8h0.9v0.9h-0.9zM134.2 87.9h0.9v0.9h-0.9zM178.1 84.7h0.9v0.9h-0.9zM154.6 90.0h0.9v0.9h-0.9zM182.3 58.4h0.9v0.9h-0.9zM184.0 84.5h0.9v0.9h-0.9zM141.5 90.3h0.9v0.9h-0.9zM157.7 59.2h0.9v0.9h-0.9zM138.5 89.3h0.9v0.9h-0.9zM187.0 81.3h0.9v0.9h-0.9zM141.3 89.6h0.9v0.9h-0.9zM135.5 63.4h0.9v0.9h-0.9zM147.7 90.1h0.9v0.9h-0.9zM178.3 84.6h0.9v0.9h-0.9zM183.7 82.5h0.9v0.9h-0.9zM158.1 59.0h0.9v0.9h-0.9zM177.8 85.4h0.9v0.9h-0.9zM187.7 80.5h0.9v0.9h-0.9zM139.1 88.4h0.9v0.9h-0.9zM144.9 58.3h0.9v0.9h-0.9zM161.6 89.0h0.9v0.9h-0.9zM142.5 61.1h0.9v0.9h-0.9zM206.9 81.4h0.9v0.9h-0.9zM208.7 64.5h0.9v0.9h-0.9zM189.2 58.2h0.9v0.9h-0.9zM194.3 57.0h0.9v0.9h-0.9zM208.8 67.5h0.9v0.9h-0.9zM204.4 77.7h0.9v0.9h-0.9zM200.8 55.9h0.9v0.9h-0.9zM198.9 76.1h0.9v0.9h-0.9zM201.1 56.5h0.9v0.9h-0.9zM179.4 59.1h0.9v0.9h-0.9zM210.5 61.0h0.9v0.9h-0.9zM203.9 72.8h0.9v0.9h-0.9zM195.0 56.6h0.9v0.9h-0.9zM198.4 76.3h0.9v0.9h-0.9zM208.1 65.9h0.9v0.9h-0.9zM201.2 56.9h0.9v0.9h-0.9zM186.2 58.6h0.9v0.9h-0.9zM205.8 70.3h0.9v0.9h-0.9zM214.0 61.5h0.9v0.9h-0.9zM212.9 65.3h0.9v0.9h-0.9zM199.3 58.0h0.9v0.9h-0.9zM211.4 60.7h0.9v0.9h-0.9zM208.5 68.5h0.9v0.9h-0.9zM203.2 50.1h0.9v0.9h-0.9zM187.3 56.9h0.9v0.9h-0.9zM194.9 57.4h0.9v0.9h-0.9zM205.1 70.5h0.9v0.9h-0.9zM196.9 75.8h0.9v0.9h-0.9zM207.4 70.2h0.9v0.9h-0.9zM209.8 66.0h0.9v0.9h-0.9zM211.5 64.9h0.9v0.9h-0.9zM207.6 67.0h0.9v0.9h-0.9zM209.5 65.7h0.9v0.9h-0.9zM202.3 58.0h0.9v0.9h-0.9zM206.4 61.1h0.9v0.9h-0.9zM195.7 57.1h0.9v0.9h-0.9zM199.7 57.5h0.9v0.9h-0.9zM203.5 58.0h0.9v0.9h-0.9zM198.0 57.7h0.9v0.9h-0.9zM197.7 75.5h0.9v0.9h-0.9zM208.6 70.6h0.9v0.9h-0.9zM211.1 66.8h0.9v0.9h-0.9zM207.8 56.1h0.9v0.9h-0.9zM207.3 59.8h0.9v0.9h-0.9zM191.6 55.7h0.9v0.9h-0.9zM208.4 60.3h0.9v0.9h-0.9zM199.5 74.3h0.9v0.9h-0.9zM202.8 57.4h0.9v0.9h-0.9zM221.6 61.5h0.9v0.9h-0.9zM179.6 56.0h0.9v0.9h-0.9zM210.4 60.7h0.9v0.9h-0.9zM189.8 57.3h0.9v0.9h-0.9zM206.6 60.5h0.9v0.9h-0.9zM182.0 55.0h0.9v0.9h-0.9zM207.3 61.7h0.9v0.9h-0.9zM209.8 59.9h0.9v0.9h-0.9zM192.6 54.6h0.9v0.9h-0.9zM195.1 77.1h0.9v0.9h-0.9zM197.4 51.3h0.9v0.9h-0.9zM182.1 57.3h0.9v0.9h-0.9zM198.7 78.0h0.9v0.9h-0.9zM209.3 69.5h0.9v0.9h-0.9zM206.5 60.2h0.9v0.9h-0.9zM199.6 54.1h0.9v0.9h-0.9zM198.4 54.0h0.9v0.9h-0.9zM204.9 71.5h0.9v0.9h-0.9zM203.1 78.8h0.9v0.9h-0.9zM210.7 54.1h0.9v0.9h-0.9zM205.7 58.1h0.9v0.9h-0.9zM208.6 65.1h0.9v0.9h-0.9zM205.0 70.8h0.9v0.9h-0.9zM199.3 58.2h0.9v0.9h-0.9zM176.9 59.7h0.9v0.9h-0.9zM184.6 54.9h0.9v0.9h-0.9zM210.0 67.4h0.9v0.9h-0.9zM198.6 58.2h0.9v0.9h-0.9zM206.8 72.4h0.9v0.9h-0.9zM212.4 67.9h0.9v0.9h-0.9zM199.1 57.1h0.9v0.9h-0.9zM209.2 63.8h0.9v0.9h-0.9zM199.0 57.1h0.9v0.9h-0.9zM180.6 55.5h0.9v0.9h-0.9zM205.8 59.0h0.9v0.9h-0.9zM182.0 59.6h0.9v0.9h-0.9zM211.2 65.8h0.9v0.9h-0.9zM206.3 69.8h0.9v0.9h-0.9zM193.7 77.7h0.9v0.9h-0.9zM199.9 56.4h0.9v0.9h-0.9zM207.6 61.0h0.9v0.9h-0.9zM196.0 57.8h0.9v0.9h-0.9zM202.8 53.1h0.9v0.9h-0.9zM211.1 69.7h0.9v0.9h-0.9zM204.0 71.5h0.9v0.9h-0.9zM197.9 50.8h0.9v0.9h-0.9zM208.3 62.3h0.9v0.9h-0.9zM200.1 57.7h0.9v0.9h-0.9zM210.9 68.6h0.9v0.9h-0.9zM210.4 66.9h0.9v0.9h-0.9zM192.4 58.2h0.9v0.9h-0.9zM192.9 79.0h0.9v0.9h-0.9zM184.4 58.4h0.9v0.9h-0.9zM206.1 57.1h0.9v0.9h-0.9zM174.9 60.1h0.9v0.9h-0.9zM210.9 68.6h0.9v0.9h-0.9zM210.5 64.4h0.9v0.9h-0.9zM194.8 56.3h0.9v0.9h-0.9zM208.2 67.9h0.9v0.9h-0.9zM207.1 69.5h0.9v0.9h-0.9zM200.9 53.9h0.9v0.9h-0.9zM192.6 80.9h0.9v0.9h-0.9zM199.0 76.7h0.9v0.9h-0.9zM186.2 58.8h0.9v0.9h-0.9zM215.4 74.2h0.9v0.9h-0.9zM208.5 63.7h0.9v0.9h-0.9zM206.9 58.4h0.9v0.9h-0.9zM211.3 61.7h0.9v0.9h-0.9zM207.3 62.1h0.9v0.9h-0.9zM209.4 66.6h0.9v0.9h-0.9zM211.8 67.7h0.9v0.9h-0.9zM211.9 70.3h0.9v0.9h-0.9zM201.0 55.2h0.9v0.9h-0.9zM212.1 62.6h0.9v0.9h-0.9zM192.3 58.0h0.9v0.9h-0.9zM209.8 58.2h0.9v0.9h-0.9zM202.2 57.5h0.9v0.9h-0.9zM209.4 59.0h0.9v0.9h-0.9zM209.8 59.4h0.9v0.9h-0.9zM201.7 75.7h0.9v0.9h-0.9zM209.1 65.9h0.9v0.9h-0.9zM208.2 62.6h0.9v0.9h-0.9zM195.2 56.4h0.9v0.9h-0.9zM204.5 71.5h0.9v0.9h-0.9zM209.9 58.2h0.9v0.9h-0.9zM179.6 58.8h0.9v0.9h-0.9zM210.2 60.7h0.9v0.9h-0.9zM193.7 56.7h0.9v0.9h-0.9zM182.8 57.7h0.9v0.9h-0.9zM181.7 59.2h0.9v0.9h-0.9zM208.9 54.3h0.9v0.9h-0.9zM191.2 57.8h0.9v0.9h-0.9zM213.1 77.5h0.9v0.9h-0.9zM208.1 65.9h0.9v0.9h-0.9zM201.6 82.0h0.9v0.9h-0.9zM215.0 73.4h0.9v0.9h-0.9zM210.1 58.2h0.9v0.9h-0.9zM208.1 60.5h0.9v0.9h-0.9zM216.8 68.4h0.9v0.9h-0.9zM209.6 63.9h0.9v0.9h-0.9zM212.8 72.8h0.9v0.9h-0.9zM219.0 68.4h0.9v0.9h-0.9zM196.5 79.4h0.9v0.9h-0.9zM202.9 57.2h0.9v0.9h-0.9zM206.7 58.6h0.9v0.9h-0.9zM206.4 71.2h0.9v0.9h-0.9zM205.3 57.1h0.9v0.9h-0.9zM212.3 64.5h0.9v0.9h-0.9zM210.8 67.6h0.9v0.9h-0.9zM215.1 66.2h0.9v0.9h-0.9zM213.0 66.9h0.9v0.9h-0.9zM209.8 59.4h0.9v0.9h-0.9zM202.1 77.9h0.9v0.9h-0.9zM201.7 77.1h0.9v0.9h-0.9zM206.1 72.3h0.9v0.9h-0.9zM207.9 59.6h0.9v0.9h-0.9zM219.5 68.5h0.9v0.9h-0.9zM206.2 71.8h0.9v0.9h-0.9zM205.9 57.1h0.9v0.9h-0.9zM197.3 76.6h0.9v0.9h-0.9zM205.4 71.7h0.9v0.9h-0.9zM203.3 73.0h0.9v0.9h-0.9zM211.5 61.0h0.9v0.9h-0.9zM187.6 82.4h0.9v0.9h-0.9zM223.5 65.0h0.9v0.9h-0.9zM199.8 81.2h0.9v0.9h-0.9zM202.9 58.8h0.9v0.9h-0.9zM208.3 80.3h0.9v0.9h-0.9zM215.5 71.6h0.9v0.9h-0.9zM210.5 70.5h0.9v0.9h-0.9zM199.8 74.4h0.9v0.9h-0.9zM210.8 62.8h0.9v0.9h-0.9zM209.6 65.8h0.9v0.9h-0.9zM216.1 63.9h0.9v0.9h-0.9zM207.2 74.9h0.9v0.9h-0.9zM197.4 81.3h0.9v0.9h-0.9zM219.4 68.2h0.9v0.9h-0.9zM210.1 66.5h0.9v0.9h-0.9zM209.4 69.5h0.9v0.9h-0.9zM218.4 75.3h0.9v0.9h-0.9zM195.6 77.7h0.9v0.9h-0.9zM207.0 80.9h0.9v0.9h-0.9zM197.2 82.8h0.9v0.9h-0.9zM202.7 75.8h0.9v0.9h-0.9zM211.6 68.7h0.9v0.9h-0.9zM210.2 68.9h0.9v0.9h-0.9zM211.9 76.0h0.9v0.9h-0.9zM216.1 73.0h0.9v0.9h-0.9zM215.4 71.0h0.9v0.9h-0.9zM213.2 73.6h0.9v0.9h-0.9zM215.2 71.5h0.9v0.9h-0.9zM214.9 63.8h0.9v0.9h-0.9zM204.8 71.4h0.9v0.9h-0.9z" fill="#000"/>
<path d="M186.5 58.5l2.1 -0.3l10.5 0.0l4.0 0.7l1.9 1.1l2.6 3.5l0.6 2.0l-2.6 4.2l-3.0 3.0l-4.5 2.5l-4.8 1.8l-3.2 2.4l-5.5 2.0l-3.5 2.1l-4.0 0.9l-10.5 3.8l-11.0 1.2l-10.5 -0.3l-3.5 -0.1l-8.5 -2.3l-4.0 -2.1l-3.0 -0.8l-1.4 -2.9l-0.3 -3.0l0.7 -5.0l1.0 -2.0l1.0 -1.0l2.0 -1.0l4.5 -3.4l1.5 -0.8l9.0 -3.0l8.5 -1.7l9.5 -0.9l14.5 0.9l3.5 -0.7l3.5 0.2l2.9 -1.1M188.1 59.5l4.1 -0.1l8.0 0.9l2.5 0.8l1.3 1.4l1.4 2.5l-0.0 1.5l-0.4 1.0l-3.6 4.0l-3.7 2.5l-5.0 1.8l-3.0 2.5l-4.5 1.5l-5.0 2.6l-3.5 0.4l-4.0 1.9l-6.5 2.4l-14.0 1.1l-10.0 -0.5l-10.0 -3.3l-3.0 -1.8l-2.5 -0.5l-1.1 -1.6l-0.2 -2.5l0.9 -4.4l0.5 -0.6l2.0 -0.9l6.0 -5.2l4.5 -1.6l5.0 -2.4l6.0 -0.9l3.5 -0.9l8.5 -0.7l11.0 1.1l3.0 -0.0l4.0 -0.7l4.0 -0.1l3.9 -1.1M186.7 60.5l4.9 -0.4l6.8 0.9l2.7 0.7l2.0 1.6l1.1 2.2l-0.3 1.5l-3.3 3.8l-3.5 2.5l-5.5 2.1l-2.5 2.1l-4.0 1.1l-5.5 2.8l-3.0 0.3l-4.0 2.0l-6.5 2.3l-7.0 0.4l-7.5 1.0l-9.0 -0.7l-5.5 -1.5l-3.5 -2.4l-2.0 -0.5l-2.5 -1.4l-2.0 0.2l-1.0 -0.9l-0.2 -2.2l0.7 -3.2l2.5 -1.2l1.8 -2.1l3.7 -3.2l5.5 -2.0l4.5 -2.7l5.5 -0.7l3.5 -1.0l4.5 -0.0l4.0 -0.7l3.5 0.8l7.5 0.6l10.5 -1.2l3.1 -0.8M186.6 61.0l4.6 -0.4l2.5 0.2l6.0 1.3l2.0 0.9l1.0 0.9l0.9 1.7l-0.4 1.3l-3.0 3.7l-3.4 2.5l-5.1 2.0l-3.0 2.1l-3.5 0.9l-6.0 2.9l-3.0 0.3l-3.0 1.6l-6.5 2.4l-7.5 0.3l-7.5 1.4l-9.5 -1.0l-5.0 -1.3l-3.0 -2.8l-5.0 -3.0l-1.0 0.0l-1.0 0.8l-0.5 -0.5l0.0 -1.3l0.6 -1.9l2.3 -1.5l2.1 -2.6l3.0 -2.3l5.6 -2.1l2.9 -2.4l1.5 -0.8l5.5 -0.8l3.5 -1.0l4.5 0.1l2.5 -0.9l1.5 -0.1l3.5 1.4l6.5 0.4l14.4 -2.4M190.9 61.0l3.7 0.4l6.0 1.8l1.8 1.3l0.4 1.5l-2.6 3.7l-2.5 2.1l-2.0 1.2l-4.9 1.9l-2.1 1.5l-4.0 1.2l-5.5 2.6l-3.5 0.4l-2.5 1.6l-3.0 0.6l-2.0 1.3l-1.5 0.5l-8.0 0.2l-7.0 1.7l-5.7 -0.5l-5.8 -1.4l-2.0 -0.2l-1.0 -0.4l-2.5 -3.0l-4.6 -3.0l-0.8 -1.5l2.3 -3.5l1.1 -1.1l1.5 -0.7l2.5 -0.2l4.5 -2.9l2.0 -2.1l1.5 -1.0l5.0 -0.8l4.5 -1.3l4.0 0.3l3.5 -1.2l1.7 0.4l1.8 1.7l5.0 0.8l4.0 -1.3l6.5 -1.4l7.0 -1.2l3.3 -0.2M188.1 61.5l4.0 -0.2l2.5 0.4l6.0 2.3l1.2 1.0l0.1 1.0l-2.2 3.5l-2.3 2.0l-2.4 1.5l-4.4 1.7l-2.5 1.4l-4.0 1.2l-5.0 2.2l-4.0 0.2l-2.5 2.1l-3.5 0.1l-1.4 1.6l-1.1 0.4l-5.0 -0.5l-5.0 0.9l-5.5 1.7l-4.5 -0.4l-4.2 -1.1l-4.8 -0.9l-2.4 -3.6l-3.6 -2.0l-1.0 -1.5l1.0 -2.5l1.0 -1.2l1.0 -0.5l2.0 0.3l1.0 -0.2l2.6 -2.4l2.4 -1.4l3.0 -2.8l4.0 -0.6l5.0 -1.7l5.0 0.3l3.0 -1.2l1.2 0.3l1.6 2.0l2.7 0.4l3.0 0.9l4.5 -2.2l6.5 -1.5l7.0 -1.1" fill="none" stroke="#000" stroke-width="0.85"/>
<path d="M188.1 61.5l4.0 -0.2l2.5 0.4l6.0 2.3l1.2 1.0l0.1 1.0l-2.2 3.5l-2.3 2.0l-2.4 1.5l-4.4 1.7l-2.5 1.4l-4.0 1.2l-5.0 2.2l-4.0 0.2l-2.5 2.1l-3.5 0.1l-1.4 1.6l-1.1 0.4l-5.0 -0.5l-5.0 0.9l-5.5 1.7l-4.5 -0.4l-4.2 -1.1l-4.8 -0.9l-2.4 -3.6l-3.6 -2.0l-1.0 -1.5l1.0 -2.5l1.0 -1.2l1.0 -0.5l2.0 0.3l1.0 -0.2l2.6 -2.4l2.4 -1.4l3.0 -2.8l4.0 -0.6l5.0 -1.7l5.0 0.3l3.0 -1.2l1.2 0.3l1.6 2.0l2.7 0.4l3.0 0.9l4.5 -2.2l6.5 -1.5l7.0 -1.1Z" fill="#000" fill-rule="evenodd"/>
<ellipse cx="184.8" cy="74.6" rx="1.00" ry="0.47" fill="#fff"/><ellipse cx="176.0" cy="72.3" rx="1.08" ry="0.64" fill="#fff"/><ellipse cx="148.3" cy="73.9" rx="1.09" ry="0.64" fill="#fff"/>
<ellipse cx="154.8" cy="71.8" rx="2.0" ry="1.6" transform="rotate(0 154.8 71.8)" fill="#fff"/>
<ellipse cx="179.4" cy="66.3" rx="1.4" ry="1.0" transform="rotate(0 179.4 66.3)" fill="#fff"/>
<ellipse cx="186" cy="65.5" rx="1.2" ry="0.9" transform="rotate(0 186 65.5)" fill="#fff"/>
<ellipse cx="170.3" cy="70.9" rx="1.6" ry="1.0" transform="rotate(0 170.3 70.9)" fill="#fff"/>
</g>
<rect x="131.90" y="26.30" width="101.10" height="100.40" fill="none" stroke="#000" stroke-width="1.35"/>
<rect x="166.30" y="51.40" width="57.40" height="39.00" fill="none" stroke="#000" stroke-width="1.35"/>
<clipPath id="c3"><rect x="25.3" y="133.1" width="100.9" height="100.4"/></clipPath>
<g clip-path="url(#c3)">
<path d="M25.5 195.2h0.9v0.9h-0.9zM40.6 158.7h0.9v0.9h-0.9zM40.2 199.7h0.9v0.9h-0.9zM49.4 165.4h0.9v0.9h-0.9zM35.8 199.7h0.9v0.9h-0.9zM54.7 194.0h0.9v0.9h-0.9zM31.2 162.8h0.9v0.9h-0.9zM33.7 163.7h0.9v0.9h-0.9zM28.7 202.7h0.9v0.9h-0.9zM53.5 163.8h0.9v0.9h-0.9zM37.1 163.7h0.9v0.9h-0.9zM44.0 197.7h0.9v0.9h-0.9zM32.8 197.7h0.9v0.9h-0.9zM46.6 198.3h0.9v0.9h-0.9zM34.4 198.3h0.9v0.9h-0.9zM40.6 160.7h0.9v0.9h-0.9zM42.3 198.6h0.9v0.9h-0.9zM54.1 193.8h0.9v0.9h-0.9zM29.0 197.5h0.9v0.9h-0.9zM33.2 199.4h0.9v0.9h-0.9zM31.6 164.0h0.9v0.9h-0.9zM26.9 195.9h0.9v0.9h-0.9zM44.5 162.6h0.9v0.9h-0.9zM43.1 163.1h0.9v0.9h-0.9zM45.8 164.8h0.9v0.9h-0.9zM42.0 163.6h0.9v0.9h-0.9zM56.9 192.3h0.9v0.9h-0.9zM28.7 196.8h0.9v0.9h-0.9zM51.3 196.9h0.9v0.9h-0.9zM32.5 198.5h0.9v0.9h-0.9zM53.9 196.0h0.9v0.9h-0.9zM60.6 189.9h0.9v0.9h-0.9zM34.2 163.7h0.9v0.9h-0.9zM25.3 166.9h0.9v0.9h-0.9zM56.6 164.6h0.9v0.9h-0.9zM25.5 166.0h0.9v0.9h-0.9zM37.3 198.4h0.9v0.9h-0.9zM30.3 199.1h0.9v0.9h-0.9zM43.0 198.0h0.9v0.9h-0.9zM26.2 166.3h0.9v0.9h-0.9zM28.6 165.0h0.9v0.9h-0.9zM31.2 163.7h0.9v0.9h-0.9zM54.6 167.3h0.9v0.9h-0.9zM36.9 199.3h0.9v0.9h-0.9zM38.3 161.0h0.9v0.9h-0.9zM40.3 158.3h0.9v0.9h-0.9zM28.0 165.4h0.9v0.9h-0.9zM34.5 200.9h0.9v0.9h-0.9zM28.5 197.8h0.9v0.9h-0.9zM42.2 164.0h0.9v0.9h-0.9zM29.3 165.5h0.9v0.9h-0.9zM45.7 164.9h0.9v0.9h-0.9zM55.5 194.0h0.9v0.9h-0.9zM53.4 195.9h0.9v0.9h-0.9zM26.9 164.9h0.9v0.9h-0.9zM49.3 196.2h0.9v0.9h-0.9zM26.7 196.1h0.9v0.9h-0.9zM38.2 163.0h0.9v0.9h-0.9zM35.8 164.0h0.9v0.9h-0.9zM50.7 199.2h0.9v0.9h-0.9zM49.7 166.0h0.9v0.9h-0.9zM27.7 164.4h0.9v0.9h-0.9zM42.4 162.4h0.9v0.9h-0.9zM53.8 166.6h0.9v0.9h-0.9zM40.7 163.6h0.9v0.9h-0.9zM47.9 163.8h0.9v0.9h-0.9zM56.2 193.6h0.9v0.9h-0.9zM28.1 165.0h0.9v0.9h-0.9zM46.4 161.7h0.9v0.9h-0.9zM26.1 196.1h0.9v0.9h-0.9zM47.5 197.3h0.9v0.9h-0.9zM35.7 161.7h0.9v0.9h-0.9zM42.2 198.3h0.9v0.9h-0.9zM42.8 163.6h0.9v0.9h-0.9zM47.9 198.7h0.9v0.9h-0.9zM40.8 198.3h0.9v0.9h-0.9zM48.8 165.5h0.9v0.9h-0.9zM44.6 197.9h0.9v0.9h-0.9zM53.3 165.9h0.9v0.9h-0.9zM44.6 164.4h0.9v0.9h-0.9zM58.9 192.4h0.9v0.9h-0.9zM43.8 198.5h0.9v0.9h-0.9zM43.8 199.9h0.9v0.9h-0.9zM40.7 198.9h0.9v0.9h-0.9zM40.6 199.1h0.9v0.9h-0.9zM51.4 166.9h0.9v0.9h-0.9zM57.8 191.3h0.9v0.9h-0.9zM49.0 163.3h0.9v0.9h-0.9zM46.9 197.0h0.9v0.9h-0.9zM27.9 198.4h0.9v0.9h-0.9zM71.2 164.4h0.9v0.9h-0.9zM59.3 192.5h0.9v0.9h-0.9zM71.1 183.1h0.9v0.9h-0.9zM59.9 165.7h0.9v0.9h-0.9zM66.1 192.3h0.9v0.9h-0.9zM71.4 162.6h0.9v0.9h-0.9zM65.0 168.9h0.9v0.9h-0.9zM73.1 180.2h0.9v0.9h-0.9zM70.0 188.9h0.9v0.9h-0.9zM74.2 192.3h0.9v0.9h-0.9zM72.2 174.7h0.9v0.9h-0.9zM67.2 191.3h0.9v0.9h-0.9zM78.0 172.5h0.9v0.9h-0.9zM63.8 192.6h0.9v0.9h-0.9zM61.2 190.0h0.9v0.9h-0.9zM74.6 178.4h0.9v0.9h-0.9zM64.2 166.0h0.9v0.9h-0.9zM60.0 192.2h0.9v0.9h-0.9zM66.5 166.2h0.9v0.9h-0.9zM67.8 166.9h0.9v0.9h-0.9zM59.2 164.3h0.9v0.9h-0.9zM70.2 184.5h0.9v0.9h-0.9zM70.2 194.3h0.9v0.9h-0.9zM71.3 173.2h0.9v0.9h-0.9zM55.0 195.6h0.9v0.9h-0.9zM65.3 187.7h0.9v0.9h-0.9zM58.5 160.6h0.9v0.9h-0.9zM58.9 190.2h0.9v0.9h-0.9zM67.7 191.1h0.9v0.9h-0.9zM63.9 165.9h0.9v0.9h-0.9zM67.5 167.4h0.9v0.9h-0.9zM73.5 180.0h0.9v0.9h-0.9zM74.2 170.4h0.9v0.9h-0.9zM57.8 166.5h0.9v0.9h-0.9zM59.5 167.9h0.9v0.9h-0.9zM68.2 168.6h0.9v0.9h-0.9zM73.3 175.3h0.9v0.9h-0.9zM70.8 184.4h0.9v0.9h-0.9zM72.1 168.3h0.9v0.9h-0.9zM60.0 167.9h0.9v0.9h-0.9zM67.1 185.8h0.9v0.9h-0.9zM65.4 190.7h0.9v0.9h-0.9zM63.9 168.0h0.9v0.9h-0.9zM68.8 186.7h0.9v0.9h-0.9zM68.9 194.8h0.9v0.9h-0.9zM66.2 188.7h0.9v0.9h-0.9zM72.8 183.3h0.9v0.9h-0.9zM60.4 166.9h0.9v0.9h-0.9zM78.4 176.3h0.9v0.9h-0.9zM67.4 188.6h0.9v0.9h-0.9zM61.6 166.1h0.9v0.9h-0.9zM65.4 193.6h0.9v0.9h-0.9zM60.8 167.7h0.9v0.9h-0.9zM61.1 194.5h0.9v0.9h-0.9zM62.7 190.5h0.9v0.9h-0.9zM76.7 172.7h0.9v0.9h-0.9zM66.4 168.2h0.9v0.9h-0.9zM69.6 158.0h0.9v0.9h-0.9zM67.6 194.6h0.9v0.9h-0.9zM66.2 163.1h0.9v0.9h-0.9zM73.4 179.5h0.9v0.9h-0.9zM62.5 191.0h0.9v0.9h-0.9zM62.3 168.7h0.9v0.9h-0.9zM57.4 164.9h0.9v0.9h-0.9zM61.2 194.2h0.9v0.9h-0.9zM58.3 160.7h0.9v0.9h-0.9zM72.3 174.9h0.9v0.9h-0.9zM71.6 181.6h0.9v0.9h-0.9zM76.1 189.8h0.9v0.9h-0.9zM69.1 166.9h0.9v0.9h-0.9zM72.4 183.4h0.9v0.9h-0.9zM70.4 192.0h0.9v0.9h-0.9zM71.7 187.0h0.9v0.9h-0.9zM68.4 171.0h0.9v0.9h-0.9zM59.4 166.7h0.9v0.9h-0.9zM72.4 180.3h0.9v0.9h-0.9zM75.9 182.1h0.9v0.9h-0.9zM73.6 190.3h0.9v0.9h-0.9zM50.8 162.3h0.9v0.9h-0.9zM66.8 167.9h0.9v0.9h-0.9zM66.7 188.2h0.9v0.9h-0.9zM72.0 172.4h0.9v0.9h-0.9zM62.0 168.8h0.9v0.9h-0.9zM67.2 168.7h0.9v0.9h-0.9zM65.7 195.8h0.9v0.9h-0.9zM53.8 163.4h0.9v0.9h-0.9zM57.1 164.5h0.9v0.9h-0.9zM72.4 180.6h0.9v0.9h-0.9zM66.5 165.5h0.9v0.9h-0.9zM74.7 184.8h0.9v0.9h-0.9zM73.0 174.0h0.9v0.9h-0.9zM73.0 178.1h0.9v0.9h-0.9zM68.9 171.2h0.9v0.9h-0.9zM74.2 179.7h0.9v0.9h-0.9zM64.6 169.1h0.9v0.9h-0.9zM59.5 162.5h0.9v0.9h-0.9zM66.7 187.0h0.9v0.9h-0.9zM69.5 185.3h0.9v0.9h-0.9zM68.3 171.2h0.9v0.9h-0.9zM60.0 190.1h0.9v0.9h-0.9zM70.1 172.0h0.9v0.9h-0.9zM72.1 170.3h0.9v0.9h-0.9zM72.7 189.1h0.9v0.9h-0.9zM69.5 169.3h0.9v0.9h-0.9zM64.7 188.4h0.9v0.9h-0.9zM72.1 169.5h0.9v0.9h-0.9zM62.8 189.2h0.9v0.9h-0.9zM68.3 189.1h0.9v0.9h-0.9zM53.5 166.0h0.9v0.9h-0.9zM68.6 185.2h0.9v0.9h-0.9zM62.5 165.2h0.9v0.9h-0.9zM73.7 168.7h0.9v0.9h-0.9zM66.3 169.1h0.9v0.9h-0.9zM69.1 185.8h0.9v0.9h-0.9zM60.6 189.5h0.9v0.9h-0.9zM74.3 179.4h0.9v0.9h-0.9zM69.3 188.4h0.9v0.9h-0.9zM59.9 193.8h0.9v0.9h-0.9zM58.8 167.6h0.9v0.9h-0.9zM64.5 190.5h0.9v0.9h-0.9zM60.4 189.8h0.9v0.9h-0.9zM57.7 164.7h0.9v0.9h-0.9zM60.0 163.1h0.9v0.9h-0.9zM80.2 179.3h0.9v0.9h-0.9zM62.3 190.2h0.9v0.9h-0.9zM74.2 185.9h0.9v0.9h-0.9zM57.6 164.8h0.9v0.9h-0.9zM59.6 161.8h0.9v0.9h-0.9zM68.8 168.8h0.9v0.9h-0.9zM73.0 185.9h0.9v0.9h-0.9zM65.6 166.8h0.9v0.9h-0.9zM64.9 193.6h0.9v0.9h-0.9zM68.9 170.1h0.9v0.9h-0.9zM72.2 181.3h0.9v0.9h-0.9zM66.4 170.1h0.9v0.9h-0.9zM79.5 176.3h0.9v0.9h-0.9zM79.2 174.5h0.9v0.9h-0.9zM68.9 171.6h0.9v0.9h-0.9zM72.8 172.9h0.9v0.9h-0.9zM72.8 170.9h0.9v0.9h-0.9zM73.6 175.9h0.9v0.9h-0.9zM60.5 167.5h0.9v0.9h-0.9zM68.3 185.0h0.9v0.9h-0.9zM72.0 172.3h0.9v0.9h-0.9zM51.7 163.6h0.9v0.9h-0.9zM64.2 165.8h0.9v0.9h-0.9zM58.3 194.0h0.9v0.9h-0.9zM74.9 161.8h0.9v0.9h-0.9zM72.6 175.7h0.9v0.9h-0.9zM67.6 170.1h0.9v0.9h-0.9zM79.9 167.6h0.9v0.9h-0.9zM81.6 193.4h0.9v0.9h-0.9zM66.7 165.8h0.9v0.9h-0.9zM71.8 167.4h0.9v0.9h-0.9zM74.8 193.7h0.9v0.9h-0.9zM73.7 167.8h0.9v0.9h-0.9zM83.1 165.6h0.9v0.9h-0.9zM73.9 166.2h0.9v0.9h-0.9zM93.6 165.3h0.9v0.9h-0.9zM73.1 165.5h0.9v0.9h-0.9zM76.9 180.2h0.9v0.9h-0.9zM72.7 178.5h0.9v0.9h-0.9zM84.3 174.7h0.9v0.9h-0.9zM77.6 167.8h0.9v0.9h-0.9zM79.8 171.7h0.9v0.9h-0.9zM66.2 166.4h0.9v0.9h-0.9zM75.8 182.5h0.9v0.9h-0.9zM75.5 197.2h0.9v0.9h-0.9zM76.1 179.7h0.9v0.9h-0.9zM89.3 195.1h0.9v0.9h-0.9zM79.5 162.7h0.9v0.9h-0.9zM87.4 170.7h0.9v0.9h-0.9zM70.2 185.4h0.9v0.9h-0.9zM85.7 165.3h0.9v0.9h-0.9zM79.5 190.9h0.9v0.9h-0.9zM82.6 190.0h0.9v0.9h-0.9zM90.0 179.6h0.9v0.9h-0.9zM82.0 189.6h0.9v0.9h-0.9zM88.4 179.5h0.9v0.9h-0.9zM82.1 164.9h0.9v0.9h-0.9zM89.1 184.2h0.9v0.9h-0.9zM83.2 194.4h0.9v0.9h-0.9zM68.0 184.8h0.9v0.9h-0.9zM75.1 188.4h0.9v0.9h-0.9zM74.5 186.5h0.9v0.9h-0.9zM70.8 189.4h0.9v0.9h-0.9zM81.3 181.6h0.9v0.9h-0.9zM84.3 170.5h0.9v0.9h-0.9zM62.6 191.3h0.9v0.9h-0.9zM75.6 176.4h0.9v0.9h-0.9zM73.0 174.6h0.9v0.9h-0.9zM75.3 175.8h0.9v0.9h-0.9zM68.1 166.3h0.9v0.9h-0.9zM76.1 167.0h0.9v0.9h-0.9zM87.3 165.5h0.9v0.9h-0.9zM80.3 172.3h0.9v0.9h-0.9zM79.8 180.9h0.9v0.9h-0.9zM79.1 178.1h0.9v0.9h-0.9zM71.0 185.9h0.9v0.9h-0.9zM88.5 183.7h0.9v0.9h-0.9zM76.1 188.1h0.9v0.9h-0.9zM52.0 159.4h0.9v0.9h-0.9zM77.8 179.7h0.9v0.9h-0.9zM83.6 161.9h0.9v0.9h-0.9zM85.1 181.3h0.9v0.9h-0.9zM73.4 171.2h0.9v0.9h-0.9zM64.0 166.0h0.9v0.9h-0.9zM71.0 169.3h0.9v0.9h-0.9zM68.8 185.8h0.9v0.9h-0.9zM81.1 168.7h0.9v0.9h-0.9zM56.6 157.8h0.9v0.9h-0.9zM76.2 201.1h0.9v0.9h-0.9zM77.3 172.7h0.9v0.9h-0.9zM92.6 188.1h0.9v0.9h-0.9zM74.3 164.8h0.9v0.9h-0.9zM89.2 180.1h0.9v0.9h-0.9zM103.6 178.2h0.9v0.9h-0.9zM73.3 178.7h0.9v0.9h-0.9zM75.9 176.2h0.9v0.9h-0.9zM81.8 164.3h0.9v0.9h-0.9zM63.0 163.6h0.9v0.9h-0.9zM88.3 164.7h0.9v0.9h-0.9zM73.6 177.7h0.9v0.9h-0.9zM92.3 161.1h0.9v0.9h-0.9zM91.2 183.5h0.9v0.9h-0.9zM67.0 187.7h0.9v0.9h-0.9zM73.1 180.8h0.9v0.9h-0.9zM87.9 200.8h0.9v0.9h-0.9zM74.8 159.1h0.9v0.9h-0.9zM67.6 168.3h0.9v0.9h-0.9zM75.0 179.3h0.9v0.9h-0.9zM81.7 186.3h0.9v0.9h-0.9zM50.8 195.8h0.9v0.9h-0.9zM77.2 184.7h0.9v0.9h-0.9zM82.3 163.9h0.9v0.9h-0.9zM61.7 150.4h0.9v0.9h-0.9zM88.0 187.5h0.9v0.9h-0.9zM78.7 180.7h0.9v0.9h-0.9zM74.9 173.0h0.9v0.9h-0.9zM79.8 162.6h0.9v0.9h-0.9zM60.8 167.4h0.9v0.9h-0.9zM84.1 177.0h0.9v0.9h-0.9zM75.9 186.3h0.9v0.9h-0.9zM77.0 187.4h0.9v0.9h-0.9zM58.5 191.7h0.9v0.9h-0.9zM75.1 180.2h0.9v0.9h-0.9zM80.6 168.8h0.9v0.9h-0.9zM70.4 158.4h0.9v0.9h-0.9zM92.8 168.4h0.9v0.9h-0.9zM78.2 166.0h0.9v0.9h-0.9zM76.0 186.7h0.9v0.9h-0.9zM72.5 172.9h0.9v0.9h-0.9zM80.7 166.1h0.9v0.9h-0.9zM73.1 186.2h0.9v0.9h-0.9zM64.3 189.0h0.9v0.9h-0.9zM68.3 194.8h0.9v0.9h-0.9zM77.1 159.4h0.9v0.9h-0.9zM72.5 173.4h0.9v0.9h-0.9zM80.4 164.6h0.9v0.9h-0.9zM71.5 188.7h0.9v0.9h-0.9zM75.5 181.7h0.9v0.9h-0.9zM72.1 183.8h0.9v0.9h-0.9zM74.5 179.6h0.9v0.9h-0.9zM78.0 174.2h0.9v0.9h-0.9zM85.3 192.0h0.9v0.9h-0.9zM84.3 167.7h0.9v0.9h-0.9zM78.0 171.9h0.9v0.9h-0.9zM86.0 179.3h0.9v0.9h-0.9zM66.6 188.7h0.9v0.9h-0.9zM85.3 190.1h0.9v0.9h-0.9z" fill="#000"/>
<path d="M33.6 164.3l8.4 -0.2l6.5 1.4l4.0 2.0l12.5 1.8l2.7 1.6l4.3 4.2l0.5 1.3l-0.0 2.0l-2.5 5.3l-3.3 1.7l-2.7 2.2l-4.0 1.9l-4.5 3.5l-3.0 1.4l-2.5 1.3l-5.5 2.0l-4.5 0.5l-5.0 -0.3l-6.0 -1.3l-2.5 -1.1l-6.5 -4.3l-1.2 -1.4l-1.1 -3.5l-0.4 -5.0l0.6 -7.0l1.1 -3.5l1.1 -1.1l6.5 -3.3l7.1 -2.1M34.5 165.3l6.1 -0.2l7.0 1.5l4.5 2.2l3.5 0.7l3.0 1.8l3.5 0.5l4.1 2.5l0.3 1.0l0.1 4.5l-0.6 2.0l-2.3 2.0l-1.6 2.2l-3.0 1.8l-4.5 3.8l-5.8 3.2l-5.7 1.6l-3.5 0.2l-6.0 -0.4l-5.0 -1.5l-2.5 -1.1l-6.0 -4.3l-1.0 -1.4l-0.9 -3.2l-0.2 -4.0l0.6 -5.5l1.0 -3.3l1.0 -0.9l7.0 -3.6l6.9 -2.2M33.3 166.3l3.2 -0.4l3.5 0.1l4.0 0.7l4.0 1.1l3.5 2.0l3.0 0.8l2.5 1.7l3.5 1.7l2.9 2.8l0.1 4.0l-2.5 4.0l-7.4 6.0l-4.1 2.7l-2.0 0.7l-5.0 1.3l-8.5 0.1l-8.0 -3.1l-5.5 -4.0l-1.0 -1.2l-0.9 -2.5l-0.2 -4.0l0.5 -4.5l1.1 -3.2l8.0 -4.8l5.3 -2.0M33.9 166.8l3.2 -0.3l5.0 0.5l5.5 1.4l3.5 2.1l3.5 1.2l4.0 2.6l1.6 2.0l1.2 4.5l-0.3 1.5l-1.1 1.9l-5.0 4.4l-5.0 3.7l-1.5 0.8l-3.1 0.8l-3.4 1.0l-3.5 -0.1l-3.0 0.5l-1.9 -0.3l-7.6 -3.2l-3.0 -2.5l-2.5 -1.6l-1.0 -1.3l-0.6 -2.3l-0.1 -4.0l0.6 -3.5l1.0 -2.0l4.6 -3.4l3.9 -2.1l4.9 -2.0M34.5 167.3l2.1 -0.2l6.1 0.7l4.9 1.5l3.0 2.0l3.0 0.9l3.5 2.1l1.2 1.0l0.8 1.5l0.5 5.0l-0.7 2.0l-4.1 4.0l-4.6 3.5l-1.5 0.8l-5.4 1.7l-4.6 0.0l-3.0 0.7l-2.0 -0.3l-3.0 -1.6l-4.3 -1.7l-2.7 -2.4l-3.0 -2.0l-1.0 -1.5l-0.4 -2.5l0.1 -2.5l0.4 -2.0l0.9 -1.7l4.5 -4.3l9.4 -4.5M34.7 167.8l1.8 -0.1l3.0 0.6l3.5 0.2l3.9 1.3l3.1 2.2l3.5 0.9l3.0 1.8l1.2 1.1l0.7 1.5l0.3 2.5l-0.4 3.0l-3.2 3.7l-5.5 4.3l-7.5 2.5l-3.5 -0.2l-3.0 0.9l-2.0 -0.4l-2.5 -1.5l-4.5 -1.8l-2.5 -2.4l-3.5 -2.5l-0.8 -1.6l-0.2 -3.0l0.6 -2.6l0.5 -0.7l2.0 -0.9l2.0 -3.5l10.2 -5.3" fill="none" stroke="#000" stroke-width="0.85"/>
<path d="M34.7 167.8l1.8 -0.1l3.0 0.6l3.5 0.2l3.9 1.3l3.1 2.2l3.5 0.9l3.0 1.8l1.2 1.1l0.7 1.5l0.3 2.5l-0.4 3.0l-3.2 3.7l-5.5 4.3l-7.5 2.5l-3.5 -0.2l-3.0 0.9l-2.0 -0.4l-2.5 -1.5l-4.5 -1.8l-2.5 -2.4l-3.5 -2.5l-0.8 -1.6l-0.2 -3.0l0.6 -2.6l0.5 -0.7l2.0 -0.9l2.0 -3.5l10.2 -5.3Z" fill="#000" fill-rule="evenodd"/>
<ellipse cx="34.0" cy="178.5" rx="0.73" ry="0.41" fill="#fff"/><ellipse cx="39.5" cy="183.2" rx="0.77" ry="0.60" fill="#fff"/><ellipse cx="41.4" cy="178.9" rx="1.14" ry="0.53" fill="#fff"/>
<ellipse cx="31" cy="174.3" rx="1.2" ry="0.5" transform="rotate(0 31 174.3)" fill="#fff"/>
<ellipse cx="36" cy="174.3" rx="1.2" ry="0.5" transform="rotate(0 36 174.3)" fill="#fff"/>
<ellipse cx="41" cy="174.3" rx="1.2" ry="0.5" transform="rotate(0 41 174.3)" fill="#fff"/>
<ellipse cx="46" cy="174.3" rx="1.2" ry="0.5" transform="rotate(0 46 174.3)" fill="#fff"/>
<ellipse cx="51" cy="174.3" rx="1.0" ry="0.5" transform="rotate(0 51 174.3)" fill="#fff"/>
</g>
<rect x="25.30" y="133.10" width="100.90" height="100.40" fill="none" stroke="#000" stroke-width="1.35"/>
<rect x="60.10" y="158.40" width="57.70" height="38.70" fill="none" stroke="#000" stroke-width="1.35"/>
<clipPath id="c4"><rect x="131.9" y="133.1" width="101.1" height="100.4"/></clipPath>
<g clip-path="url(#c4)">
<path d="M137.6 195.2h0.9v0.9h-0.9zM157.1 193.3h0.9v0.9h-0.9zM154.8 195.5h0.9v0.9h-0.9zM147.2 195.4h0.9v0.9h-0.9zM146.1 162.8h0.9v0.9h-0.9zM160.1 166.3h0.9v0.9h-0.9zM141.5 196.6h0.9v0.9h-0.9zM142.4 164.5h0.9v0.9h-0.9zM147.8 196.5h0.9v0.9h-0.9zM145.4 165.0h0.9v0.9h-0.9zM133.5 166.1h0.9v0.9h-0.9zM167.0 188.7h0.9v0.9h-0.9zM143.0 164.2h0.9v0.9h-0.9zM132.2 194.0h0.9v0.9h-0.9zM138.9 164.5h0.9v0.9h-0.9zM150.9 194.9h0.9v0.9h-0.9zM152.9 165.5h0.9v0.9h-0.9zM153.7 163.9h0.9v0.9h-0.9zM135.9 195.6h0.9v0.9h-0.9zM160.4 194.9h0.9v0.9h-0.9zM144.9 198.1h0.9v0.9h-0.9zM134.6 195.4h0.9v0.9h-0.9zM153.5 195.5h0.9v0.9h-0.9zM133.2 194.2h0.9v0.9h-0.9zM162.4 190.6h0.9v0.9h-0.9zM132.8 193.1h0.9v0.9h-0.9zM142.1 195.6h0.9v0.9h-0.9zM149.7 164.7h0.9v0.9h-0.9zM151.6 195.5h0.9v0.9h-0.9zM177.7 162.8h0.9v0.9h-0.9zM179.7 187.8h0.9v0.9h-0.9zM182.1 199.9h0.9v0.9h-0.9zM204.7 183.8h0.9v0.9h-0.9zM202.5 175.8h0.9v0.9h-0.9zM192.6 182.7h0.9v0.9h-0.9zM162.4 165.7h0.9v0.9h-0.9zM174.5 195.9h0.9v0.9h-0.9zM190.5 185.4h0.9v0.9h-0.9zM182.1 189.9h0.9v0.9h-0.9zM197.8 169.8h0.9v0.9h-0.9zM185.2 188.0h0.9v0.9h-0.9zM198.7 176.7h0.9v0.9h-0.9zM188.8 186.1h0.9v0.9h-0.9zM188.7 188.2h0.9v0.9h-0.9zM190.3 158.0h0.9v0.9h-0.9zM194.7 186.5h0.9v0.9h-0.9zM164.6 164.3h0.9v0.9h-0.9zM192.4 165.8h0.9v0.9h-0.9zM206.6 176.7h0.9v0.9h-0.9zM168.6 165.1h0.9v0.9h-0.9zM197.1 173.7h0.9v0.9h-0.9zM187.4 189.3h0.9v0.9h-0.9zM170.6 189.5h0.9v0.9h-0.9zM196.0 179.4h0.9v0.9h-0.9zM170.5 204.7h0.9v0.9h-0.9zM171.7 163.6h0.9v0.9h-0.9zM176.1 192.2h0.9v0.9h-0.9zM159.5 165.7h0.9v0.9h-0.9zM166.1 197.5h0.9v0.9h-0.9zM199.9 173.0h0.9v0.9h-0.9zM187.1 163.0h0.9v0.9h-0.9zM164.1 194.3h0.9v0.9h-0.9zM184.9 188.9h0.9v0.9h-0.9zM181.2 187.7h0.9v0.9h-0.9zM163.4 200.8h0.9v0.9h-0.9zM192.8 166.1h0.9v0.9h-0.9zM190.1 160.8h0.9v0.9h-0.9zM192.3 164.1h0.9v0.9h-0.9zM200.5 170.6h0.9v0.9h-0.9zM165.5 166.6h0.9v0.9h-0.9zM179.3 158.6h0.9v0.9h-0.9zM174.3 191.2h0.9v0.9h-0.9zM182.5 196.7h0.9v0.9h-0.9zM166.8 189.0h0.9v0.9h-0.9zM168.8 164.6h0.9v0.9h-0.9zM174.8 190.4h0.9v0.9h-0.9zM187.3 187.8h0.9v0.9h-0.9zM191.3 185.2h0.9v0.9h-0.9zM173.7 156.4h0.9v0.9h-0.9zM193.2 185.5h0.9v0.9h-0.9zM191.4 185.7h0.9v0.9h-0.9zM195.0 181.0h0.9v0.9h-0.9zM183.6 156.2h0.9v0.9h-0.9zM190.3 187.3h0.9v0.9h-0.9zM190.5 159.5h0.9v0.9h-0.9zM166.7 164.7h0.9v0.9h-0.9zM196.1 184.9h0.9v0.9h-0.9zM182.1 160.5h0.9v0.9h-0.9zM159.4 167.5h0.9v0.9h-0.9zM186.0 193.3h0.9v0.9h-0.9zM159.2 164.8h0.9v0.9h-0.9zM200.9 173.0h0.9v0.9h-0.9zM173.5 190.9h0.9v0.9h-0.9zM174.0 189.7h0.9v0.9h-0.9zM180.1 155.9h0.9v0.9h-0.9zM187.4 159.4h0.9v0.9h-0.9zM196.9 172.3h0.9v0.9h-0.9zM185.1 164.9h0.9v0.9h-0.9zM160.3 165.6h0.9v0.9h-0.9zM201.2 168.2h0.9v0.9h-0.9zM188.8 185.9h0.9v0.9h-0.9zM183.9 163.9h0.9v0.9h-0.9zM188.1 188.7h0.9v0.9h-0.9zM196.3 161.5h0.9v0.9h-0.9zM186.9 165.0h0.9v0.9h-0.9zM187.4 164.5h0.9v0.9h-0.9zM205.9 179.6h0.9v0.9h-0.9zM196.9 168.3h0.9v0.9h-0.9zM181.4 161.2h0.9v0.9h-0.9zM196.2 185.3h0.9v0.9h-0.9zM180.1 190.1h0.9v0.9h-0.9zM198.6 158.0h0.9v0.9h-0.9zM171.6 163.8h0.9v0.9h-0.9zM213.7 177.5h0.9v0.9h-0.9zM196.8 178.7h0.9v0.9h-0.9zM165.2 164.8h0.9v0.9h-0.9zM167.2 165.9h0.9v0.9h-0.9zM185.0 163.7h0.9v0.9h-0.9zM180.4 163.0h0.9v0.9h-0.9zM181.3 195.5h0.9v0.9h-0.9zM196.2 187.0h0.9v0.9h-0.9zM156.9 162.4h0.9v0.9h-0.9zM203.5 177.0h0.9v0.9h-0.9zM191.0 186.7h0.9v0.9h-0.9zM200.5 181.8h0.9v0.9h-0.9zM194.7 180.9h0.9v0.9h-0.9zM196.2 183.3h0.9v0.9h-0.9zM180.6 189.9h0.9v0.9h-0.9zM195.6 167.1h0.9v0.9h-0.9zM207.4 169.4h0.9v0.9h-0.9zM180.1 164.8h0.9v0.9h-0.9zM203.5 168.1h0.9v0.9h-0.9zM179.4 162.1h0.9v0.9h-0.9zM183.9 188.0h0.9v0.9h-0.9zM186.7 193.6h0.9v0.9h-0.9zM205.0 173.5h0.9v0.9h-0.9zM165.1 166.2h0.9v0.9h-0.9zM198.1 174.3h0.9v0.9h-0.9zM188.0 188.0h0.9v0.9h-0.9zM201.7 179.9h0.9v0.9h-0.9zM193.5 166.4h0.9v0.9h-0.9zM190.9 160.0h0.9v0.9h-0.9zM179.7 187.9h0.9v0.9h-0.9zM166.3 165.1h0.9v0.9h-0.9zM164.2 164.6h0.9v0.9h-0.9zM180.6 164.5h0.9v0.9h-0.9zM175.9 161.5h0.9v0.9h-0.9zM169.3 166.2h0.9v0.9h-0.9zM200.0 177.8h0.9v0.9h-0.9zM172.4 191.9h0.9v0.9h-0.9zM177.6 192.3h0.9v0.9h-0.9zM182.9 162.1h0.9v0.9h-0.9zM167.9 192.4h0.9v0.9h-0.9zM208.7 170.7h0.9v0.9h-0.9zM191.2 184.6h0.9v0.9h-0.9zM180.9 191.0h0.9v0.9h-0.9zM192.5 188.1h0.9v0.9h-0.9zM185.7 160.8h0.9v0.9h-0.9zM196.2 170.2h0.9v0.9h-0.9zM170.2 162.8h0.9v0.9h-0.9zM161.1 159.3h0.9v0.9h-0.9zM182.3 189.3h0.9v0.9h-0.9zM208.5 180.2h0.9v0.9h-0.9zM167.5 190.2h0.9v0.9h-0.9zM200.9 174.2h0.9v0.9h-0.9zM205.9 184.6h0.9v0.9h-0.9zM179.7 190.9h0.9v0.9h-0.9zM205.3 171.3h0.9v0.9h-0.9zM194.8 181.4h0.9v0.9h-0.9zM172.7 192.0h0.9v0.9h-0.9zM186.2 163.8h0.9v0.9h-0.9zM151.4 160.5h0.9v0.9h-0.9zM191.1 166.1h0.9v0.9h-0.9zM191.3 159.6h0.9v0.9h-0.9zM179.3 188.3h0.9v0.9h-0.9zM172.3 194.0h0.9v0.9h-0.9zM193.7 163.0h0.9v0.9h-0.9zM179.8 193.8h0.9v0.9h-0.9zM199.4 174.6h0.9v0.9h-0.9zM174.3 162.9h0.9v0.9h-0.9zM177.5 190.4h0.9v0.9h-0.9zM187.2 162.9h0.9v0.9h-0.9zM185.1 164.2h0.9v0.9h-0.9zM177.9 190.2h0.9v0.9h-0.9zM169.5 189.4h0.9v0.9h-0.9zM190.8 188.6h0.9v0.9h-0.9zM166.0 188.9h0.9v0.9h-0.9zM204.4 174.5h0.9v0.9h-0.9zM209.3 172.1h0.9v0.9h-0.9zM176.7 189.4h0.9v0.9h-0.9zM165.2 162.4h0.9v0.9h-0.9zM213.0 182.9h0.9v0.9h-0.9zM169.5 192.3h0.9v0.9h-0.9zM174.9 188.8h0.9v0.9h-0.9zM186.3 164.1h0.9v0.9h-0.9zM162.9 198.0h0.9v0.9h-0.9zM161.8 166.7h0.9v0.9h-0.9zM160.9 163.1h0.9v0.9h-0.9zM174.4 189.6h0.9v0.9h-0.9zM199.8 159.5h0.9v0.9h-0.9zM198.0 174.5h0.9v0.9h-0.9zM187.0 187.1h0.9v0.9h-0.9zM197.9 174.1h0.9v0.9h-0.9zM179.9 187.9h0.9v0.9h-0.9zM174.4 164.6h0.9v0.9h-0.9zM171.2 189.7h0.9v0.9h-0.9zM192.0 185.0h0.9v0.9h-0.9zM198.2 179.4h0.9v0.9h-0.9zM201.9 175.8h0.9v0.9h-0.9zM190.1 188.4h0.9v0.9h-0.9zM201.6 176.2h0.9v0.9h-0.9zM190.0 162.7h0.9v0.9h-0.9zM168.9 166.0h0.9v0.9h-0.9zM197.1 173.9h0.9v0.9h-0.9zM196.6 163.6h0.9v0.9h-0.9zM205.0 172.3h0.9v0.9h-0.9zM200.3 175.1h0.9v0.9h-0.9zM196.4 193.9h0.9v0.9h-0.9zM188.0 162.1h0.9v0.9h-0.9zM204.8 184.1h0.9v0.9h-0.9zM191.9 199.2h0.9v0.9h-0.9zM162.6 168.0h0.9v0.9h-0.9zM189.7 156.7h0.9v0.9h-0.9zM191.0 164.9h0.9v0.9h-0.9zM180.2 162.9h0.9v0.9h-0.9zM189.7 165.9h0.9v0.9h-0.9zM204.8 180.5h0.9v0.9h-0.9zM195.8 170.5h0.9v0.9h-0.9zM200.5 188.4h0.9v0.9h-0.9zM193.9 182.0h0.9v0.9h-0.9zM180.0 163.9h0.9v0.9h-0.9zM160.9 163.5h0.9v0.9h-0.9zM198.8 178.8h0.9v0.9h-0.9zM194.4 183.5h0.9v0.9h-0.9zM195.9 181.4h0.9v0.9h-0.9zM191.2 185.9h0.9v0.9h-0.9zM190.4 166.0h0.9v0.9h-0.9zM201.5 191.2h0.9v0.9h-0.9zM196.7 184.2h0.9v0.9h-0.9zM162.7 166.0h0.9v0.9h-0.9zM194.5 184.4h0.9v0.9h-0.9zM164.4 163.9h0.9v0.9h-0.9zM200.7 167.7h0.9v0.9h-0.9zM171.8 165.5h0.9v0.9h-0.9zM201.2 176.6h0.9v0.9h-0.9zM188.8 159.0h0.9v0.9h-0.9zM186.0 162.4h0.9v0.9h-0.9zM180.6 160.5h0.9v0.9h-0.9zM165.3 162.9h0.9v0.9h-0.9zM159.4 162.6h0.9v0.9h-0.9zM197.1 180.8h0.9v0.9h-0.9zM195.2 180.6h0.9v0.9h-0.9zM208.4 178.9h0.9v0.9h-0.9zM197.2 184.6h0.9v0.9h-0.9zM191.7 185.1h0.9v0.9h-0.9zM186.4 163.9h0.9v0.9h-0.9zM197.2 177.1h0.9v0.9h-0.9zM191.5 166.7h0.9v0.9h-0.9zM197.4 169.9h0.9v0.9h-0.9zM191.5 167.3h0.9v0.9h-0.9zM178.7 157.2h0.9v0.9h-0.9zM171.6 191.4h0.9v0.9h-0.9zM200.0 184.4h0.9v0.9h-0.9zM167.4 193.0h0.9v0.9h-0.9zM174.4 188.4h0.9v0.9h-0.9zM162.6 162.3h0.9v0.9h-0.9zM199.0 174.0h0.9v0.9h-0.9zM197.5 171.1h0.9v0.9h-0.9zM194.6 183.9h0.9v0.9h-0.9zM196.8 163.8h0.9v0.9h-0.9zM207.9 161.8h0.9v0.9h-0.9zM196.3 185.9h0.9v0.9h-0.9zM168.6 189.9h0.9v0.9h-0.9zM179.9 188.2h0.9v0.9h-0.9zM209.2 172.5h0.9v0.9h-0.9zM217.8 176.8h0.9v0.9h-0.9zM202.3 164.1h0.9v0.9h-0.9zM207.5 192.8h0.9v0.9h-0.9zM213.8 163.0h0.9v0.9h-0.9zM215.5 181.3h0.9v0.9h-0.9zM201.8 177.1h0.9v0.9h-0.9zM202.4 185.1h0.9v0.9h-0.9zM200.2 191.1h0.9v0.9h-0.9zM197.2 183.2h0.9v0.9h-0.9zM191.7 186.1h0.9v0.9h-0.9zM200.2 183.8h0.9v0.9h-0.9zM207.5 187.3h0.9v0.9h-0.9zM204.6 171.5h0.9v0.9h-0.9zM214.2 179.8h0.9v0.9h-0.9zM199.3 177.7h0.9v0.9h-0.9zM213.9 185.3h0.9v0.9h-0.9zM200.7 167.4h0.9v0.9h-0.9zM209.4 158.5h0.9v0.9h-0.9zM201.7 196.7h0.9v0.9h-0.9zM197.0 168.5h0.9v0.9h-0.9zM193.1 166.4h0.9v0.9h-0.9zM196.4 144.3h0.9v0.9h-0.9zM203.0 174.1h0.9v0.9h-0.9zM197.4 162.3h0.9v0.9h-0.9zM212.9 173.0h0.9v0.9h-0.9zM198.3 185.4h0.9v0.9h-0.9zM210.6 179.2h0.9v0.9h-0.9zM194.8 165.5h0.9v0.9h-0.9zM217.0 192.7h0.9v0.9h-0.9zM217.6 162.3h0.9v0.9h-0.9zM197.1 168.7h0.9v0.9h-0.9zM196.5 191.7h0.9v0.9h-0.9zM202.1 173.3h0.9v0.9h-0.9zM196.0 169.7h0.9v0.9h-0.9zM208.9 172.3h0.9v0.9h-0.9zM200.9 196.3h0.9v0.9h-0.9zM205.9 176.6h0.9v0.9h-0.9zM202.7 165.8h0.9v0.9h-0.9zM197.9 168.7h0.9v0.9h-0.9zM186.6 162.3h0.9v0.9h-0.9zM207.8 184.5h0.9v0.9h-0.9zM200.9 174.9h0.9v0.9h-0.9zM197.3 176.7h0.9v0.9h-0.9zM204.4 179.9h0.9v0.9h-0.9zM195.8 163.7h0.9v0.9h-0.9zM199.9 172.5h0.9v0.9h-0.9zM202.2 178.7h0.9v0.9h-0.9zM185.4 160.9h0.9v0.9h-0.9zM195.2 186.0h0.9v0.9h-0.9zM205.9 181.4h0.9v0.9h-0.9zM204.9 184.3h0.9v0.9h-0.9zM183.5 165.1h0.9v0.9h-0.9zM203.5 168.7h0.9v0.9h-0.9zM177.0 159.9h0.9v0.9h-0.9zM206.8 174.0h0.9v0.9h-0.9zM203.6 167.5h0.9v0.9h-0.9zM191.3 164.3h0.9v0.9h-0.9zM203.0 172.6h0.9v0.9h-0.9zM158.4 165.1h0.9v0.9h-0.9zM192.7 164.0h0.9v0.9h-0.9zM212.4 184.4h0.9v0.9h-0.9zM167.1 161.5h0.9v0.9h-0.9zM217.6 184.6h0.9v0.9h-0.9zM194.8 194.0h0.9v0.9h-0.9zM211.0 167.9h0.9v0.9h-0.9zM202.9 174.6h0.9v0.9h-0.9zM220.3 186.2h0.9v0.9h-0.9zM199.1 164.8h0.9v0.9h-0.9zM199.2 170.8h0.9v0.9h-0.9zM207.2 175.7h0.9v0.9h-0.9zM194.6 184.6h0.9v0.9h-0.9zM205.3 171.6h0.9v0.9h-0.9zM197.7 165.8h0.9v0.9h-0.9zM196.2 169.8h0.9v0.9h-0.9zM206.8 176.9h0.9v0.9h-0.9zM200.6 182.7h0.9v0.9h-0.9zM197.9 186.7h0.9v0.9h-0.9zM183.3 188.8h0.9v0.9h-0.9zM201.5 170.0h0.9v0.9h-0.9zM214.8 180.1h0.9v0.9h-0.9zM204.1 169.8h0.9v0.9h-0.9zM193.0 159.3h0.9v0.9h-0.9zM205.6 186.9h0.9v0.9h-0.9zM201.0 178.0h0.9v0.9h-0.9zM201.4 171.8h0.9v0.9h-0.9zM176.2 190.7h0.9v0.9h-0.9zM194.5 181.7h0.9v0.9h-0.9zM184.6 162.3h0.9v0.9h-0.9zM198.9 161.1h0.9v0.9h-0.9zM188.8 196.5h0.9v0.9h-0.9zM200.6 180.9h0.9v0.9h-0.9zM177.6 164.1h0.9v0.9h-0.9zM220.6 180.6h0.9v0.9h-0.9zM199.8 177.3h0.9v0.9h-0.9z" fill="#000"/>
<path d="M176.8 164.4l1.4 -0.0l3.5 1.2l4.0 -0.6l2.0 0.3l3.5 2.1l2.5 2.4l1.7 1.1l1.5 3.0l0.2 2.0l-0.7 2.5l-2.4 3.5l-2.3 1.5l-1.6 1.7l-3.5 1.5l-10.5 1.9l-3.0 -1.1l-1.5 -0.0l-3.0 1.1l-3.0 0.4l-3.0 1.8l-9.0 3.8l-8.0 1.1l-3.0 -0.1l-4.5 -0.4l-6.5 -2.1l-5.0 -2.2l-1.3 -1.3l-1.0 -2.0l-0.8 -3.0l-0.3 -6.0l0.7 -5.0l0.9 -2.0l1.3 -1.6l5.0 -2.6l6.5 -1.8l5.0 -0.5l6.5 0.3l6.0 0.9l7.5 1.9l3.0 -1.1l3.0 0.1l3.5 -1.8l4.6 -0.8M138.4 166.3l4.3 -0.3l10.0 0.8l3.5 0.8l8.0 2.9l3.5 0.0l2.5 -1.2l2.5 -0.2l2.5 -1.4l4.0 -0.3l3.0 0.4l7.8 2.4l1.1 1.0l0.9 1.5l-0.1 2.0l-2.2 4.5l-2.6 3.5l-6.2 1.8l-3.0 -0.3l-3.0 0.6l-3.5 -0.2l-1.0 0.2l-2.5 1.5l-2.5 0.8l-3.0 2.2l-7.0 3.1l-2.0 0.6l-8.0 1.2l-7.5 -0.6l-10.5 -4.3l-2.0 -2.1l-1.2 -3.5l-0.2 -6.5l1.1 -4.5l0.8 -1.3l1.5 -1.1l5.0 -2.4l6.2 -1.7M140.4 166.8l2.2 -0.1l11.5 1.1l5.5 2.0l4.0 2.0l4.0 1.1l3.0 -1.0l2.5 0.2l2.5 -2.2l4.5 -0.5l2.7 1.1l2.3 3.2l1.0 0.0l1.5 -0.6l1.0 0.3l0.5 0.6l-0.0 1.0l-1.2 1.5l-1.8 3.8l-1.3 1.2l-3.2 0.8l-6.0 -0.3l-5.0 1.3l-2.1 1.2l-1.3 1.0l-2.6 1.2l-3.0 2.3l-6.0 2.7l-3.0 1.0l-7.5 1.2l-7.5 -0.6l-10.5 -4.5l-2.0 -2.2l-0.9 -3.1l-0.1 -6.0l0.4 -2.5l0.8 -2.0l1.3 -1.3l3.1 -1.2l2.9 -1.6l4.5 -1.6l3.3 -0.3M140.5 167.3l2.2 -0.1l8.5 0.6l4.0 0.8l4.4 1.8l5.9 3.0l4.2 2.8l2.0 -1.5l4.5 -0.8l4.0 -1.7l1.3 0.2l2.6 4.0l-0.0 2.5l-0.8 1.5l-1.6 0.4l-6.5 -0.4l-2.5 0.4l-2.5 0.9l-3.0 2.6l-2.5 1.5l-3.5 2.6l-7.5 3.3l-9.0 1.5l-7.0 -0.5l-11.0 -5.0l-1.7 -2.3l-0.7 -4.0l0.2 -5.0l1.2 -3.3l1.5 -1.2l2.9 -1.0l3.1 -1.7l4.0 -1.5l3.3 -0.4M139.8 167.8l2.8 -0.2l8.0 0.6l4.5 0.9l4.0 1.6l5.7 3.2l1.2 1.0l1.4 2.0l0.5 1.5l0.3 3.0l-1.2 2.0l-5.9 4.5l-9.0 3.8l-7.5 1.1l-6.5 -0.3l-11.0 -4.9l-1.6 -1.7l-0.8 -2.5l-0.3 -4.5l0.5 -3.5l0.9 -2.0l1.3 -1.1l3.0 -0.9l3.0 -1.6l4.0 -1.5l2.7 -0.3M179.1 174.3l1.0 -0.0l0.5 0.5l0.2 4.0l-1.7 0.4l-4.0 -0.4l-1.5 0.2l-1.5 0.3l-0.8 -0.5l0.1 -1.0l0.7 -0.8l1.0 -0.4l3.0 0.2l3.0 -2.4M141.6 168.3l9.6 0.6l5.5 1.4l2.5 1.2l5.3 3.3l0.8 1.0l1.1 2.5l0.1 2.0l-0.7 2.0l-2.1 2.5l-2.0 1.7l-8.5 4.1l-4.3 0.7l-4.2 0.7l-6.5 -0.3l-6.0 -3.2l-5.0 -1.8l-1.0 -0.8l-0.9 -1.7l-0.5 -6.0l0.5 -2.7l1.0 -2.0l1.0 -0.7l3.0 -0.9l6.5 -3.1l4.9 -0.7" fill="none" stroke="#000" stroke-width="0.85"/>
<path d="M141.6 168.3l9.6 0.6l5.5 1.4l2.5 1.2l5.3 3.3l0.8 1.0l1.1 2.5l0.1 2.0l-0.7 2.0l-2.1 2.5l-2.0 1.7l-8.5 4.1l-4.3 0.7l-4.2 0.7l-6.5 -0.3l-6.0 -3.2l-5.0 -1.8l-1.0 -0.8l-0.9 -1.7l-0.5 -6.0l0.5 -2.7l1.0 -2.0l1.0 -0.7l3.0 -0.9l6.5 -3.1l4.9 -0.7Z" fill="#000" fill-rule="evenodd"/>
<ellipse cx="147.9" cy="179.8" rx="0.98" ry="0.48" fill="#fff"/><ellipse cx="138.2" cy="184.2" rx="0.86" ry="0.41" fill="#fff"/><ellipse cx="141.8" cy="175.3" rx="0.73" ry="0.89" fill="#fff"/>
<ellipse cx="137" cy="175" rx="1.1" ry="0.5" transform="rotate(0 137 175)" fill="#fff"/>
<ellipse cx="142" cy="175" rx="1.1" ry="0.5" transform="rotate(0 142 175)" fill="#fff"/>
<ellipse cx="147" cy="175" rx="1.1" ry="0.5" transform="rotate(0 147 175)" fill="#fff"/>
<ellipse cx="152" cy="175" rx="1.4" ry="0.7" transform="rotate(0 152 175)" fill="#fff"/>
<ellipse cx="156" cy="175.5" rx="1.2" ry="0.6" transform="rotate(0 156 175.5)" fill="#fff"/>
<ellipse cx="154" cy="183.3" rx="1.3" ry="1.0" transform="rotate(0 154 183.3)" fill="#fff"/>
</g>
<rect x="131.90" y="133.10" width="101.10" height="100.40" fill="none" stroke="#000" stroke-width="1.35"/>
<rect x="166.30" y="158.40" width="57.40" height="38.50" fill="none" stroke="#000" stroke-width="1.35"/>
<clipPath id="c5"><rect x="296.6" y="26.3" width="101.0" height="100.4"/></clipPath>
<g clip-path="url(#c5)">
<path d="M335.3 59.0h0.9v0.9h-0.9zM333.1 77.7h0.9v0.9h-0.9zM301.8 69.3h0.9v0.9h-0.9zM334.2 77.0h0.9v0.9h-0.9zM333.1 59.8h0.9v0.9h-0.9zM307.1 80.6h0.9v0.9h-0.9zM316.3 60.7h0.9v0.9h-0.9zM334.7 60.0h0.9v0.9h-0.9zM325.3 80.6h0.9v0.9h-0.9zM304.2 66.6h0.9v0.9h-0.9zM319.7 82.1h0.9v0.9h-0.9zM324.6 82.9h0.9v0.9h-0.9zM329.7 78.9h0.9v0.9h-0.9zM324.6 59.2h0.9v0.9h-0.9zM334.1 76.8h0.9v0.9h-0.9zM325.3 80.4h0.9v0.9h-0.9zM331.0 78.5h0.9v0.9h-0.9zM302.4 70.2h0.9v0.9h-0.9zM331.1 78.4h0.9v0.9h-0.9zM340.6 73.3h0.9v0.9h-0.9zM302.4 77.2h0.9v0.9h-0.9zM312.6 61.7h0.9v0.9h-0.9zM317.4 81.8h0.9v0.9h-0.9zM333.9 76.8h0.9v0.9h-0.9zM320.5 81.4h0.9v0.9h-0.9zM311.4 61.6h0.9v0.9h-0.9zM321.8 82.2h0.9v0.9h-0.9zM334.2 58.3h0.9v0.9h-0.9zM310.5 63.2h0.9v0.9h-0.9zM307.0 81.2h0.9v0.9h-0.9zM319.3 59.5h0.9v0.9h-0.9zM325.4 58.7h0.9v0.9h-0.9zM306.7 81.4h0.9v0.9h-0.9zM311.6 81.6h0.9v0.9h-0.9zM311.0 81.6h0.9v0.9h-0.9zM335.3 76.7h0.9v0.9h-0.9zM336.6 75.2h0.9v0.9h-0.9zM328.2 59.6h0.9v0.9h-0.9zM346.8 69.9h0.9v0.9h-0.9zM334.3 55.8h0.9v0.9h-0.9zM342.2 59.5h0.9v0.9h-0.9zM346.5 64.0h0.9v0.9h-0.9zM343.0 75.4h0.9v0.9h-0.9zM343.9 61.6h0.9v0.9h-0.9zM343.2 60.9h0.9v0.9h-0.9zM343.8 58.8h0.9v0.9h-0.9zM339.7 60.1h0.9v0.9h-0.9zM338.5 57.6h0.9v0.9h-0.9zM334.7 56.8h0.9v0.9h-0.9zM340.3 72.5h0.9v0.9h-0.9zM338.7 59.4h0.9v0.9h-0.9zM338.5 59.6h0.9v0.9h-0.9zM341.4 58.5h0.9v0.9h-0.9zM339.5 72.9h0.9v0.9h-0.9zM346.7 62.2h0.9v0.9h-0.9zM343.5 70.8h0.9v0.9h-0.9zM335.0 56.0h0.9v0.9h-0.9zM344.5 61.9h0.9v0.9h-0.9zM346.8 69.1h0.9v0.9h-0.9zM344.2 72.7h0.9v0.9h-0.9zM347.5 65.6h0.9v0.9h-0.9zM337.3 57.3h0.9v0.9h-0.9zM346.6 61.2h0.9v0.9h-0.9zM350.1 72.7h0.9v0.9h-0.9zM345.5 70.0h0.9v0.9h-0.9zM345.1 58.4h0.9v0.9h-0.9zM346.2 63.5h0.9v0.9h-0.9zM341.0 60.7h0.9v0.9h-0.9zM355.2 58.6h0.9v0.9h-0.9zM345.7 62.0h0.9v0.9h-0.9zM346.4 65.2h0.9v0.9h-0.9zM339.4 60.2h0.9v0.9h-0.9zM348.5 62.2h0.9v0.9h-0.9zM341.8 58.9h0.9v0.9h-0.9zM349.4 66.4h0.9v0.9h-0.9zM348.9 61.1h0.9v0.9h-0.9zM346.3 68.5h0.9v0.9h-0.9zM345.8 67.4h0.9v0.9h-0.9zM343.9 58.4h0.9v0.9h-0.9zM345.4 57.7h0.9v0.9h-0.9zM334.1 59.3h0.9v0.9h-0.9zM346.9 63.8h0.9v0.9h-0.9zM343.9 70.0h0.9v0.9h-0.9zM348.7 65.5h0.9v0.9h-0.9zM345.3 68.5h0.9v0.9h-0.9zM344.9 59.6h0.9v0.9h-0.9zM346.6 69.8h0.9v0.9h-0.9zM351.4 65.9h0.9v0.9h-0.9zM347.8 66.2h0.9v0.9h-0.9zM348.2 63.5h0.9v0.9h-0.9zM350.0 63.5h0.9v0.9h-0.9zM345.6 56.1h0.9v0.9h-0.9zM340.1 73.8h0.9v0.9h-0.9zM332.9 59.0h0.9v0.9h-0.9zM354.6 66.8h0.9v0.9h-0.9zM351.0 69.7h0.9v0.9h-0.9zM339.5 75.6h0.9v0.9h-0.9zM331.6 56.0h0.9v0.9h-0.9zM346.5 63.4h0.9v0.9h-0.9zM346.3 66.1h0.9v0.9h-0.9zM344.0 72.0h0.9v0.9h-0.9zM349.4 62.0h0.9v0.9h-0.9zM343.1 58.0h0.9v0.9h-0.9zM346.0 62.9h0.9v0.9h-0.9zM341.6 59.0h0.9v0.9h-0.9zM341.9 57.5h0.9v0.9h-0.9zM332.6 60.0h0.9v0.9h-0.9zM351.9 65.8h0.9v0.9h-0.9zM342.4 60.9h0.9v0.9h-0.9zM336.3 59.6h0.9v0.9h-0.9zM346.9 66.1h0.9v0.9h-0.9zM347.1 66.4h0.9v0.9h-0.9zM338.9 74.6h0.9v0.9h-0.9zM347.9 64.7h0.9v0.9h-0.9zM346.1 59.4h0.9v0.9h-0.9zM352.8 65.4h0.9v0.9h-0.9zM349.0 61.4h0.9v0.9h-0.9zM343.9 58.8h0.9v0.9h-0.9zM344.0 58.8h0.9v0.9h-0.9zM330.4 79.0h0.9v0.9h-0.9zM344.2 71.9h0.9v0.9h-0.9zM346.7 69.9h0.9v0.9h-0.9zM337.3 59.1h0.9v0.9h-0.9zM343.3 60.2h0.9v0.9h-0.9zM334.2 58.5h0.9v0.9h-0.9zM352.5 64.7h0.9v0.9h-0.9zM300.7 71.3h0.9v0.9h-0.9zM299.5 78.2h0.9v0.9h-0.9zM304.0 78.3h0.9v0.9h-0.9zM299.1 72.7h0.9v0.9h-0.9zM301.2 76.3h0.9v0.9h-0.9zM299.0 67.3h0.9v0.9h-0.9zM300.0 76.6h0.9v0.9h-0.9zM309.9 63.1h0.9v0.9h-0.9zM298.4 74.2h0.9v0.9h-0.9zM297.4 86.3h0.9v0.9h-0.9zM300.5 70.7h0.9v0.9h-0.9zM303.6 80.3h0.9v0.9h-0.9zM300.4 76.8h0.9v0.9h-0.9zM299.5 70.8h0.9v0.9h-0.9zM297.2 75.3h0.9v0.9h-0.9zM303.8 79.5h0.9v0.9h-0.9zM298.9 74.6h0.9v0.9h-0.9zM301.1 66.8h0.9v0.9h-0.9zM304.0 65.8h0.9v0.9h-0.9zM303.6 79.8h0.9v0.9h-0.9zM303.0 67.7h0.9v0.9h-0.9zM301.6 70.4h0.9v0.9h-0.9zM301.9 78.2h0.9v0.9h-0.9zM308.0 64.0h0.9v0.9h-0.9zM298.4 74.3h0.9v0.9h-0.9zM304.6 67.3h0.9v0.9h-0.9zM297.1 85.0h0.9v0.9h-0.9zM300.3 67.5h0.9v0.9h-0.9zM300.9 69.6h0.9v0.9h-0.9zM298.9 63.4h0.9v0.9h-0.9zM297.2 75.2h0.9v0.9h-0.9zM298.8 73.1h0.9v0.9h-0.9zM300.3 73.0h0.9v0.9h-0.9zM299.8 71.5h0.9v0.9h-0.9zM300.5 75.2h0.9v0.9h-0.9zM300.4 74.9h0.9v0.9h-0.9zM298.9 79.7h0.9v0.9h-0.9zM298.4 71.7h0.9v0.9h-0.9zM299.8 73.4h0.9v0.9h-0.9zM300.7 70.4h0.9v0.9h-0.9zM303.3 66.6h0.9v0.9h-0.9zM300.9 72.3h0.9v0.9h-0.9zM298.4 73.5h0.9v0.9h-0.9zM297.5 72.7h0.9v0.9h-0.9zM302.6 77.9h0.9v0.9h-0.9zM304.4 63.6h0.9v0.9h-0.9zM296.6 76.9h0.9v0.9h-0.9zM299.2 66.5h0.9v0.9h-0.9zM297.9 71.9h0.9v0.9h-0.9zM296.6 66.8h0.9v0.9h-0.9zM300.4 75.9h0.9v0.9h-0.9zM300.6 74.6h0.9v0.9h-0.9zM346.6 64.4h0.9v0.9h-0.9zM341.2 76.7h0.9v0.9h-0.9zM352.6 62.8h0.9v0.9h-0.9zM341.5 71.8h0.9v0.9h-0.9zM351.0 57.0h0.9v0.9h-0.9zM347.6 68.1h0.9v0.9h-0.9zM345.4 71.6h0.9v0.9h-0.9zM348.7 58.9h0.9v0.9h-0.9zM359.2 68.2h0.9v0.9h-0.9zM355.9 65.3h0.9v0.9h-0.9zM355.9 64.8h0.9v0.9h-0.9zM353.2 64.2h0.9v0.9h-0.9zM342.5 59.0h0.9v0.9h-0.9zM355.5 57.0h0.9v0.9h-0.9zM352.5 59.7h0.9v0.9h-0.9zM341.9 75.0h0.9v0.9h-0.9zM347.4 69.7h0.9v0.9h-0.9zM360.3 69.7h0.9v0.9h-0.9zM339.5 59.2h0.9v0.9h-0.9zM340.1 54.8h0.9v0.9h-0.9zM348.8 67.8h0.9v0.9h-0.9zM338.5 58.4h0.9v0.9h-0.9zM351.7 64.8h0.9v0.9h-0.9zM355.2 75.9h0.9v0.9h-0.9zM360.8 58.2h0.9v0.9h-0.9zM348.3 63.3h0.9v0.9h-0.9zM349.7 69.8h0.9v0.9h-0.9zM351.7 69.7h0.9v0.9h-0.9zM344.2 60.1h0.9v0.9h-0.9zM345.7 62.7h0.9v0.9h-0.9zM347.6 62.9h0.9v0.9h-0.9zM346.3 66.4h0.9v0.9h-0.9zM353.8 73.5h0.9v0.9h-0.9zM353.0 53.0h0.9v0.9h-0.9zM348.2 74.0h0.9v0.9h-0.9zM356.6 52.1h0.9v0.9h-0.9zM356.6 74.3h0.9v0.9h-0.9zM363.6 72.9h0.9v0.9h-0.9zM351.7 78.4h0.9v0.9h-0.9zM349.4 63.9h0.9v0.9h-0.9zM348.7 53.7h0.9v0.9h-0.9zM350.6 63.4h0.9v0.9h-0.9zM335.5 59.4h0.9v0.9h-0.9zM357.9 65.3h0.9v0.9h-0.9zM344.8 60.7h0.9v0.9h-0.9zM348.8 54.3h0.9v0.9h-0.9zM341.8 72.6h0.9v0.9h-0.9zM339.0 56.6h0.9v0.9h-0.9zM343.3 83.2h0.9v0.9h-0.9zM353.4 63.6h0.9v0.9h-0.9zM342.3 72.4h0.9v0.9h-0.9zM354.0 65.4h0.9v0.9h-0.9zM359.5 69.7h0.9v0.9h-0.9zM348.1 55.9h0.9v0.9h-0.9zM356.9 63.4h0.9v0.9h-0.9zM350.1 73.2h0.9v0.9h-0.9zM350.0 58.7h0.9v0.9h-0.9zM354.6 66.9h0.9v0.9h-0.9zM353.3 56.0h0.9v0.9h-0.9zM351.3 75.7h0.9v0.9h-0.9zM349.0 71.3h0.9v0.9h-0.9zM345.9 70.6h0.9v0.9h-0.9zM348.1 76.8h0.9v0.9h-0.9zM348.4 55.7h0.9v0.9h-0.9zM358.3 60.0h0.9v0.9h-0.9zM339.4 53.5h0.9v0.9h-0.9z" fill="#000"/>
<path d="M325.3 59.5l7.5 0.6l5.0 -0.2l2.0 0.4l2.5 0.8l3.0 1.6l0.8 1.3l0.0 2.0l-0.5 1.5l-1.1 1.5l-7.3 5.3l-6.5 3.9l-5.0 2.0l-3.9 0.8l-4.1 0.4l-5.0 -0.2l-6.0 -1.5l-2.5 -1.3l-2.0 -1.5l-1.3 -2.0l-0.4 -2.0l0.6 -1.5l4.2 -5.0l5.4 -3.8l5.0 -2.0l5.0 -0.9l4.5 -0.3M325.7 60.5l3.6 0.2l9.5 1.7l1.5 0.8l1.1 1.3l0.6 1.5l-0.1 1.0l-4.3 5.5l-6.3 4.2l-6.0 2.5l-6.0 1.0l-7.0 -0.1l-5.0 -1.6l-3.8 -3.1l-0.7 -1.5l0.1 -1.5l1.3 -2.5l1.9 -2.5l2.3 -2.0l3.0 -1.9l5.0 -2.0l5.0 -0.9l4.4 -0.3M321.3 61.5l7.1 -0.2l7.0 1.5l3.0 1.2l1.0 1.0l0.4 1.0l-0.2 1.5l-0.9 2.0l-1.3 2.0l-1.4 1.4l-6.0 3.8l-4.0 1.7l-3.5 0.8l-5.5 0.5l-5.5 -0.5l-4.5 -2.0l-2.1 -2.2l-0.7 -1.5l0.2 -1.5l1.3 -2.5l1.8 -2.1l2.4 -1.9l5.6 -2.9l5.9 -1.1M321.5 62.0l6.8 -0.2l6.5 1.6l2.7 1.5l0.7 1.0l0.1 1.0l-0.3 1.5l-1.0 2.0l-2.4 2.5l-4.3 2.7l-3.5 1.6l-5.5 1.3l-5.0 0.4l-3.5 -0.2l-1.9 -0.5l-3.8 -2.0l-1.8 -2.0l-0.6 -1.5l0.3 -1.5l1.2 -2.0l1.8 -2.0l2.2 -1.7l5.5 -2.7l5.7 -1.0M321.3 62.5l3.1 -0.3l4.0 0.2l6.0 1.6l2.3 1.6l0.7 2.0l-1.1 3.0l-2.5 2.5l-7.2 4.0l-4.7 1.2l-5.5 0.5l-5.0 -0.5l-3.5 -1.8l-1.7 -1.9l-0.7 -1.5l0.2 -1.5l0.9 -1.5l3.8 -3.6l5.5 -2.9l5.4 -1.0M321.0 63.0l3.8 -0.4l4.6 0.4l5.4 1.8l1.2 1.2l0.5 1.5l-0.2 1.5l-0.7 1.5l-2.3 2.3l-7.0 3.8l-5.0 1.2l-5.0 0.4l-5.0 -0.6l-3.5 -2.0l-1.4 -1.6l-0.5 -1.5l0.3 -1.2l1.0 -1.5l3.8 -3.4l4.7 -2.5l5.2 -1.0" fill="none" stroke="#000" stroke-width="0.85"/>
<path d="M321.0 63.0l3.8 -0.4l4.6 0.4l5.4 1.8l1.2 1.2l0.5 1.5l-0.2 1.5l-0.7 1.5l-2.3 2.3l-7.0 3.8l-5.0 1.2l-5.0 0.4l-5.0 -0.6l-3.5 -2.0l-1.4 -1.6l-0.5 -1.5l0.3 -1.2l1.0 -1.5l3.8 -3.4l4.7 -2.5l5.2 -1.0Z" fill="#000" fill-rule="evenodd"/>
<ellipse cx="328.1" cy="67.9" rx="0.64" ry="0.45" fill="#fff"/><ellipse cx="321.3" cy="73.8" rx="0.75" ry="0.47" fill="#fff"/><ellipse cx="323.0" cy="68.6" rx="0.71" ry="0.67" fill="#fff"/>
</g>
<rect x="296.60" y="26.30" width="101.00" height="100.40" fill="none" stroke="#000" stroke-width="1.35"/>
<rect x="335.60" y="53.00" width="55.40" height="28.70" fill="none" stroke="#000" stroke-width="1.35"/>
<clipPath id="c6"><rect x="403.0" y="26.3" width="101.10000000000002" height="100.4"/></clipPath>
<g clip-path="url(#c6)">
<path d="M405.2 67.7h0.9v0.9h-0.9zM415.1 80.8h0.9v0.9h-0.9zM443.7 77.0h0.9v0.9h-0.9zM421.8 59.8h0.9v0.9h-0.9zM403.5 71.1h0.9v0.9h-0.9zM431.1 80.9h0.9v0.9h-0.9zM418.0 60.3h0.9v0.9h-0.9zM435.9 79.1h0.9v0.9h-0.9zM428.0 58.7h0.9v0.9h-0.9zM425.6 80.9h0.9v0.9h-0.9zM405.2 76.0h0.9v0.9h-0.9zM409.2 65.4h0.9v0.9h-0.9zM432.3 80.1h0.9v0.9h-0.9zM405.3 68.6h0.9v0.9h-0.9zM433.5 79.4h0.9v0.9h-0.9zM428.6 58.8h0.9v0.9h-0.9zM412.1 79.6h0.9v0.9h-0.9zM407.5 77.9h0.9v0.9h-0.9zM429.5 80.6h0.9v0.9h-0.9zM430.1 58.7h0.9v0.9h-0.9zM440.2 77.0h0.9v0.9h-0.9zM403.7 69.9h0.9v0.9h-0.9zM411.4 79.3h0.9v0.9h-0.9zM407.3 66.0h0.9v0.9h-0.9zM418.0 81.2h0.9v0.9h-0.9zM404.0 73.6h0.9v0.9h-0.9zM417.7 60.5h0.9v0.9h-0.9zM413.3 79.9h0.9v0.9h-0.9zM458.5 57.8h0.9v0.9h-0.9zM444.9 76.3h0.9v0.9h-0.9zM458.9 57.6h0.9v0.9h-0.9zM454.6 58.0h0.9v0.9h-0.9zM456.0 76.4h0.9v0.9h-0.9zM470.2 70.3h0.9v0.9h-0.9zM456.8 56.3h0.9v0.9h-0.9zM458.3 74.7h0.9v0.9h-0.9zM466.6 74.5h0.9v0.9h-0.9zM451.6 77.8h0.9v0.9h-0.9zM453.8 58.8h0.9v0.9h-0.9zM449.2 58.8h0.9v0.9h-0.9zM453.4 73.3h0.9v0.9h-0.9zM464.4 53.8h0.9v0.9h-0.9zM464.5 58.1h0.9v0.9h-0.9zM466.2 71.2h0.9v0.9h-0.9zM451.6 78.9h0.9v0.9h-0.9zM462.3 57.4h0.9v0.9h-0.9zM477.4 56.2h0.9v0.9h-0.9zM474.3 61.4h0.9v0.9h-0.9zM443.8 58.9h0.9v0.9h-0.9zM471.2 56.0h0.9v0.9h-0.9zM453.0 72.4h0.9v0.9h-0.9zM480.0 52.6h0.9v0.9h-0.9zM445.5 60.7h0.9v0.9h-0.9zM464.0 71.5h0.9v0.9h-0.9zM467.0 71.2h0.9v0.9h-0.9zM453.1 57.4h0.9v0.9h-0.9zM443.7 55.5h0.9v0.9h-0.9zM448.6 74.1h0.9v0.9h-0.9zM458.1 74.3h0.9v0.9h-0.9zM443.4 60.0h0.9v0.9h-0.9zM453.1 78.1h0.9v0.9h-0.9zM472.1 60.9h0.9v0.9h-0.9zM446.6 73.8h0.9v0.9h-0.9zM461.9 71.7h0.9v0.9h-0.9zM446.0 53.4h0.9v0.9h-0.9zM440.3 55.7h0.9v0.9h-0.9zM459.9 71.5h0.9v0.9h-0.9zM450.5 74.8h0.9v0.9h-0.9zM464.1 57.6h0.9v0.9h-0.9zM461.6 74.0h0.9v0.9h-0.9zM447.7 75.6h0.9v0.9h-0.9zM457.7 55.7h0.9v0.9h-0.9zM461.8 54.7h0.9v0.9h-0.9zM458.3 73.7h0.9v0.9h-0.9zM460.7 72.3h0.9v0.9h-0.9zM461.0 56.6h0.9v0.9h-0.9zM451.5 73.4h0.9v0.9h-0.9zM454.1 57.8h0.9v0.9h-0.9zM444.2 60.5h0.9v0.9h-0.9zM448.2 56.1h0.9v0.9h-0.9zM450.1 59.0h0.9v0.9h-0.9zM454.7 56.3h0.9v0.9h-0.9zM474.3 62.9h0.9v0.9h-0.9zM473.1 72.5h0.9v0.9h-0.9zM458.1 58.3h0.9v0.9h-0.9zM456.4 72.9h0.9v0.9h-0.9zM445.7 74.9h0.9v0.9h-0.9zM465.8 72.0h0.9v0.9h-0.9zM469.6 72.7h0.9v0.9h-0.9zM473.2 68.1h0.9v0.9h-0.9zM455.0 75.1h0.9v0.9h-0.9zM444.7 56.8h0.9v0.9h-0.9zM458.2 72.4h0.9v0.9h-0.9zM457.7 73.0h0.9v0.9h-0.9zM455.9 58.6h0.9v0.9h-0.9zM446.3 58.3h0.9v0.9h-0.9zM451.5 56.3h0.9v0.9h-0.9zM443.6 77.5h0.9v0.9h-0.9zM450.5 57.7h0.9v0.9h-0.9zM451.9 57.9h0.9v0.9h-0.9zM453.1 73.7h0.9v0.9h-0.9zM459.1 72.7h0.9v0.9h-0.9zM467.6 69.4h0.9v0.9h-0.9zM460.0 71.4h0.9v0.9h-0.9zM449.8 56.1h0.9v0.9h-0.9zM472.5 61.1h0.9v0.9h-0.9zM458.6 72.8h0.9v0.9h-0.9zM465.5 70.8h0.9v0.9h-0.9zM453.7 58.3h0.9v0.9h-0.9zM456.1 51.8h0.9v0.9h-0.9zM468.0 70.1h0.9v0.9h-0.9zM443.1 75.3h0.9v0.9h-0.9zM442.6 75.7h0.9v0.9h-0.9zM469.0 56.5h0.9v0.9h-0.9zM462.8 55.5h0.9v0.9h-0.9zM452.6 58.7h0.9v0.9h-0.9zM450.8 58.9h0.9v0.9h-0.9zM452.5 57.1h0.9v0.9h-0.9zM465.9 58.8h0.9v0.9h-0.9zM456.3 72.6h0.9v0.9h-0.9zM462.2 74.5h0.9v0.9h-0.9zM446.0 76.2h0.9v0.9h-0.9zM460.8 71.4h0.9v0.9h-0.9zM459.2 57.1h0.9v0.9h-0.9zM471.4 58.0h0.9v0.9h-0.9zM461.8 73.0h0.9v0.9h-0.9zM445.4 54.9h0.9v0.9h-0.9zM455.5 76.0h0.9v0.9h-0.9zM461.3 55.4h0.9v0.9h-0.9zM465.0 57.4h0.9v0.9h-0.9zM470.9 60.2h0.9v0.9h-0.9zM450.7 73.7h0.9v0.9h-0.9zM465.7 70.9h0.9v0.9h-0.9zM453.5 57.0h0.9v0.9h-0.9zM478.5 62.1h0.9v0.9h-0.9zM465.9 58.3h0.9v0.9h-0.9zM473.5 56.6h0.9v0.9h-0.9zM477.2 63.7h0.9v0.9h-0.9zM463.5 57.6h0.9v0.9h-0.9zM471.7 57.9h0.9v0.9h-0.9zM471.7 68.4h0.9v0.9h-0.9zM474.7 66.5h0.9v0.9h-0.9zM469.6 58.0h0.9v0.9h-0.9zM473.9 69.0h0.9v0.9h-0.9zM480.4 64.1h0.9v0.9h-0.9zM483.7 59.3h0.9v0.9h-0.9zM478.5 63.3h0.9v0.9h-0.9zM478.0 67.9h0.9v0.9h-0.9zM470.0 69.4h0.9v0.9h-0.9zM465.8 70.5h0.9v0.9h-0.9zM477.6 60.8h0.9v0.9h-0.9zM469.1 76.1h0.9v0.9h-0.9zM474.8 76.1h0.9v0.9h-0.9zM467.8 58.6h0.9v0.9h-0.9zM473.7 70.4h0.9v0.9h-0.9zM465.0 55.0h0.9v0.9h-0.9zM474.1 70.0h0.9v0.9h-0.9zM474.2 69.8h0.9v0.9h-0.9zM480.5 63.4h0.9v0.9h-0.9zM456.5 72.3h0.9v0.9h-0.9zM477.9 67.7h0.9v0.9h-0.9zM465.4 58.3h0.9v0.9h-0.9zM474.1 68.2h0.9v0.9h-0.9zM479.2 61.3h0.9v0.9h-0.9zM471.6 67.7h0.9v0.9h-0.9zM474.7 65.6h0.9v0.9h-0.9zM470.1 56.5h0.9v0.9h-0.9zM484.2 59.5h0.9v0.9h-0.9zM479.6 61.0h0.9v0.9h-0.9zM475.6 55.8h0.9v0.9h-0.9zM473.9 60.6h0.9v0.9h-0.9zM481.2 62.5h0.9v0.9h-0.9zM475.3 61.7h0.9v0.9h-0.9zM479.8 54.7h0.9v0.9h-0.9zM466.2 56.0h0.9v0.9h-0.9zM472.6 69.0h0.9v0.9h-0.9zM475.3 63.3h0.9v0.9h-0.9zM472.5 61.5h0.9v0.9h-0.9zM472.8 60.9h0.9v0.9h-0.9zM455.4 73.9h0.9v0.9h-0.9zM474.3 56.8h0.9v0.9h-0.9zM477.9 59.7h0.9v0.9h-0.9zM476.2 61.2h0.9v0.9h-0.9zM484.0 59.5h0.9v0.9h-0.9zM475.8 66.3h0.9v0.9h-0.9zM483.2 60.3h0.9v0.9h-0.9zM403.4 72.7h0.9v0.9h-0.9zM407.3 77.3h0.9v0.9h-0.9zM406.6 78.8h0.9v0.9h-0.9zM404.4 72.2h0.9v0.9h-0.9zM405.3 74.8h0.9v0.9h-0.9zM403.7 68.5h0.9v0.9h-0.9zM410.4 79.3h0.9v0.9h-0.9zM404.7 69.7h0.9v0.9h-0.9zM404.1 68.0h0.9v0.9h-0.9zM407.1 77.0h0.9v0.9h-0.9zM406.8 66.5h0.9v0.9h-0.9zM403.5 73.7h0.9v0.9h-0.9zM471.8 71.9h0.9v0.9h-0.9zM488.8 62.9h0.9v0.9h-0.9zM475.9 66.5h0.9v0.9h-0.9zM469.7 70.8h0.9v0.9h-0.9zM474.2 65.6h0.9v0.9h-0.9zM469.6 58.4h0.9v0.9h-0.9zM485.2 63.2h0.9v0.9h-0.9zM461.2 78.0h0.9v0.9h-0.9zM468.1 77.9h0.9v0.9h-0.9zM459.8 74.2h0.9v0.9h-0.9zM454.9 78.8h0.9v0.9h-0.9zM478.4 62.4h0.9v0.9h-0.9zM480.5 65.6h0.9v0.9h-0.9zM490.7 54.8h0.9v0.9h-0.9zM474.1 73.8h0.9v0.9h-0.9zM464.2 71.6h0.9v0.9h-0.9zM477.3 71.6h0.9v0.9h-0.9zM474.9 66.4h0.9v0.9h-0.9zM479.6 62.9h0.9v0.9h-0.9zM480.0 57.3h0.9v0.9h-0.9zM476.1 63.9h0.9v0.9h-0.9zM472.6 70.5h0.9v0.9h-0.9zM454.6 78.6h0.9v0.9h-0.9zM479.7 61.3h0.9v0.9h-0.9zM479.3 60.5h0.9v0.9h-0.9zM486.1 47.6h0.9v0.9h-0.9zM453.9 76.5h0.9v0.9h-0.9zM487.0 62.0h0.9v0.9h-0.9zM482.4 69.8h0.9v0.9h-0.9zM482.1 69.5h0.9v0.9h-0.9zM449.7 55.7h0.9v0.9h-0.9zM484.7 63.0h0.9v0.9h-0.9zM475.4 63.0h0.9v0.9h-0.9zM451.2 73.3h0.9v0.9h-0.9zM473.6 66.9h0.9v0.9h-0.9zM481.6 66.2h0.9v0.9h-0.9zM476.3 71.9h0.9v0.9h-0.9zM463.0 73.7h0.9v0.9h-0.9zM478.9 70.3h0.9v0.9h-0.9zM481.1 63.7h0.9v0.9h-0.9zM473.7 67.3h0.9v0.9h-0.9zM476.8 71.9h0.9v0.9h-0.9zM477.9 67.7h0.9v0.9h-0.9zM456.6 80.9h0.9v0.9h-0.9zM473.8 55.0h0.9v0.9h-0.9zM476.5 65.3h0.9v0.9h-0.9zM478.7 70.6h0.9v0.9h-0.9zM479.7 69.9h0.9v0.9h-0.9zM473.2 66.9h0.9v0.9h-0.9zM459.4 73.3h0.9v0.9h-0.9zM476.7 55.7h0.9v0.9h-0.9zM478.7 66.2h0.9v0.9h-0.9zM468.6 76.9h0.9v0.9h-0.9zM489.2 72.4h0.9v0.9h-0.9zM477.2 61.9h0.9v0.9h-0.9zM487.2 69.7h0.9v0.9h-0.9zM479.2 62.9h0.9v0.9h-0.9zM473.0 61.2h0.9v0.9h-0.9zM477.5 59.4h0.9v0.9h-0.9zM484.1 72.4h0.9v0.9h-0.9zM479.7 62.8h0.9v0.9h-0.9zM483.4 60.4h0.9v0.9h-0.9zM462.5 73.1h0.9v0.9h-0.9z" fill="#000"/>
<path d="M463.4 58.5l1.9 -0.1l4.0 1.2l3.4 1.8l1.2 1.0l0.5 1.5l-0.2 1.0l-2.6 2.5l-1.8 1.2l-5.5 2.0l-18.0 2.8l-10.0 4.8l-6.0 1.9l-7.5 0.9l-4.5 -0.3l-4.0 -0.8l-3.5 -1.3l-4.5 -2.7l-1.5 -2.0l-0.5 -2.5l0.6 -2.0l1.8 -2.0l5.5 -4.1l4.0 -2.1l5.0 -1.6l6.5 -0.9l7.0 0.4l10.0 1.7l1.0 -0.1l2.5 -1.2l3.0 -0.7l12.1 -0.4M425.6 60.0l3.2 -0.3l6.5 0.6l10.0 2.4l1.5 -0.1l3.5 -1.4l8.0 -0.9l8.5 1.0l1.5 0.4l1.4 1.9l0.1 1.0l-0.3 1.0l-1.0 1.0l-4.0 2.0l-1.7 0.5l-3.0 0.1l-3.0 1.0l-3.9 0.4l-6.1 1.3l-1.5 0.6l-8.0 4.6l-4.5 1.7l-5.0 1.1l-4.5 0.5l-5.5 -0.5l-4.0 -0.9l-4.0 -1.9l-2.7 -2.0l-1.1 -2.0l0.1 -2.5l1.3 -2.0l4.9 -4.1l3.0 -1.7l5.0 -1.9l5.3 -0.8M425.3 60.5l3.5 -0.4l7.0 0.7l3.5 0.8l7.0 2.3l4.5 -1.4l7.5 -1.1l2.5 0.3l2.9 1.3l1.3 1.0l0.4 1.0l-0.4 1.0l-1.1 1.1l-1.0 0.4l-3.5 0.2l-3.0 1.3l-3.5 0.2l-5.0 1.0l-4.7 2.8l-4.8 3.1l-4.0 1.7l-4.5 1.3l-5.0 0.7l-3.0 0.0l-6.0 -0.9l-3.5 -1.2l-2.5 -1.4l-2.1 -1.8l-0.9 -2.0l0.2 -2.0l1.3 -2.0l4.4 -3.8l2.5 -1.5l5.0 -1.9l5.0 -0.8M427.5 60.5l7.7 0.6l2.5 0.5l9.0 3.6l1.5 -0.2l3.0 -1.2l5.5 -1.1l2.9 0.3l2.9 1.5l0.3 1.0l-0.5 0.4l-3.0 0.2l-3.5 2.0l-6.5 0.2l-1.5 0.3l-4.8 4.0l-2.7 1.8l-2.5 1.7l-5.5 2.1l-4.5 1.0l-4.5 0.4l-5.0 -0.5l-3.5 -0.8l-3.5 -1.5l-2.8 -2.2l-1.0 -2.0l0.5 -2.5l1.6 -2.0l3.7 -3.2l2.5 -1.4l4.0 -1.6l7.8 -1.3M426.1 61.0l3.7 -0.2l8.5 1.3l5.3 2.4l1.9 1.5l0.6 1.0l-0.6 2.0l-1.6 2.0l-5.7 4.3l-5.5 2.2l-5.0 1.2l-5.5 0.4l-7.0 -1.2l-5.0 -2.3l-1.6 -1.6l-0.6 -1.5l0.1 -1.5l1.1 -2.0l5.1 -4.5l6.0 -2.6l5.8 -1.0M454.3 64.5l2.0 -0.4l0.7 0.4l0.1 0.5l-1.3 1.5l-1.5 0.3l-2.0 -0.2l-0.7 -0.5l0.1 -0.5l0.6 -0.3l2.0 -0.7M425.9 61.5l3.9 -0.2l8.0 1.2l4.9 2.4l1.1 1.0l0.5 1.5l-0.2 1.5l-1.1 2.0l-4.6 3.7l-6.0 2.5l-5.5 1.3l-4.5 0.2l-7.0 -1.3l-4.8 -2.3l-1.3 -1.5l-0.4 -1.5l0.3 -1.5l0.9 -1.5l4.5 -4.0l5.7 -2.5l5.6 -1.0" fill="none" stroke="#000" stroke-width="0.85"/>
<path d="M425.9 61.5l3.9 -0.2l8.0 1.2l4.9 2.4l1.1 1.0l0.5 1.5l-0.2 1.5l-1.1 2.0l-4.6 3.7l-6.0 2.5l-5.5 1.3l-4.5 0.2l-7.0 -1.3l-4.8 -2.3l-1.3 -1.5l-0.4 -1.5l0.3 -1.5l0.9 -1.5l4.5 -4.0l5.7 -2.5l5.6 -1.0Z" fill="#000" fill-rule="evenodd"/>
<ellipse cx="435.4" cy="68.8" rx="1.15" ry="0.87" fill="#fff"/><ellipse cx="423.0" cy="67.3" rx="0.56" ry="0.81" fill="#fff"/><ellipse cx="432.9" cy="72.7" rx="0.66" ry="0.72" fill="#fff"/>
</g>
<rect x="403.00" y="26.30" width="101.10" height="100.40" fill="none" stroke="#000" stroke-width="1.35"/>
<rect x="442.60" y="52.80" width="55.00" height="28.60" fill="none" stroke="#000" stroke-width="1.35"/>
<clipPath id="c7"><rect x="296.6" y="132.8" width="101.0" height="100.79999999999998"/></clipPath>
<g clip-path="url(#c7)">
<path d="M324.7 186.0h0.9v0.9h-0.9zM308.0 166.6h0.9v0.9h-0.9zM337.2 182.0h0.9v0.9h-0.9zM320.3 187.1h0.9v0.9h-0.9zM306.4 168.6h0.9v0.9h-0.9zM331.5 166.2h0.9v0.9h-0.9zM331.5 185.1h0.9v0.9h-0.9zM335.5 167.6h0.9v0.9h-0.9zM333.0 166.6h0.9v0.9h-0.9zM340.5 179.5h0.9v0.9h-0.9zM335.5 166.7h0.9v0.9h-0.9zM311.8 184.9h0.9v0.9h-0.9zM336.5 182.3h0.9v0.9h-0.9zM327.7 186.2h0.9v0.9h-0.9zM313.5 185.7h0.9v0.9h-0.9zM336.8 167.6h0.9v0.9h-0.9zM321.5 164.4h0.9v0.9h-0.9zM320.6 187.6h0.9v0.9h-0.9zM334.3 167.4h0.9v0.9h-0.9zM317.3 186.5h0.9v0.9h-0.9zM333.6 167.1h0.9v0.9h-0.9zM329.2 165.3h0.9v0.9h-0.9zM303.9 168.7h0.9v0.9h-0.9zM307.5 167.9h0.9v0.9h-0.9zM322.9 164.3h0.9v0.9h-0.9zM331.4 184.6h0.9v0.9h-0.9zM329.2 186.7h0.9v0.9h-0.9zM330.7 185.3h0.9v0.9h-0.9zM317.0 163.9h0.9v0.9h-0.9zM322.0 162.7h0.9v0.9h-0.9zM300.7 176.6h0.9v0.9h-0.9zM317.0 163.6h0.9v0.9h-0.9zM309.4 166.4h0.9v0.9h-0.9zM330.2 164.9h0.9v0.9h-0.9zM320.8 164.1h0.9v0.9h-0.9zM305.5 169.6h0.9v0.9h-0.9zM335.1 185.9h0.9v0.9h-0.9zM325.3 186.6h0.9v0.9h-0.9zM331.0 165.9h0.9v0.9h-0.9zM300.8 179.4h0.9v0.9h-0.9zM328.7 187.0h0.9v0.9h-0.9zM312.4 165.7h0.9v0.9h-0.9zM303.4 170.3h0.9v0.9h-0.9zM302.0 172.5h0.9v0.9h-0.9zM314.4 185.9h0.9v0.9h-0.9zM341.5 180.2h0.9v0.9h-0.9zM310.5 166.2h0.9v0.9h-0.9zM338.4 181.2h0.9v0.9h-0.9zM332.3 184.4h0.9v0.9h-0.9zM306.9 167.6h0.9v0.9h-0.9zM331.9 185.6h0.9v0.9h-0.9zM307.6 184.5h0.9v0.9h-0.9zM309.2 184.2h0.9v0.9h-0.9zM308.4 167.5h0.9v0.9h-0.9zM303.0 171.0h0.9v0.9h-0.9zM301.2 183.3h0.9v0.9h-0.9zM319.3 187.4h0.9v0.9h-0.9zM320.1 163.9h0.9v0.9h-0.9zM342.3 166.9h0.9v0.9h-0.9zM349.2 174.6h0.9v0.9h-0.9zM341.3 169.7h0.9v0.9h-0.9zM339.8 180.4h0.9v0.9h-0.9zM344.8 176.8h0.9v0.9h-0.9zM341.4 169.2h0.9v0.9h-0.9zM339.2 167.3h0.9v0.9h-0.9zM344.3 170.0h0.9v0.9h-0.9zM339.6 166.6h0.9v0.9h-0.9zM339.2 179.9h0.9v0.9h-0.9zM340.3 167.7h0.9v0.9h-0.9zM340.0 182.0h0.9v0.9h-0.9zM345.3 164.2h0.9v0.9h-0.9zM338.8 163.5h0.9v0.9h-0.9zM344.2 166.7h0.9v0.9h-0.9zM340.8 179.1h0.9v0.9h-0.9zM343.0 170.0h0.9v0.9h-0.9zM343.9 174.7h0.9v0.9h-0.9zM341.9 179.3h0.9v0.9h-0.9zM341.4 179.3h0.9v0.9h-0.9zM343.2 169.5h0.9v0.9h-0.9zM343.6 178.3h0.9v0.9h-0.9zM343.6 175.1h0.9v0.9h-0.9zM339.5 180.7h0.9v0.9h-0.9zM345.5 172.9h0.9v0.9h-0.9zM339.3 166.1h0.9v0.9h-0.9zM339.9 161.8h0.9v0.9h-0.9zM342.7 179.0h0.9v0.9h-0.9zM341.2 178.6h0.9v0.9h-0.9zM341.2 167.9h0.9v0.9h-0.9zM340.1 181.0h0.9v0.9h-0.9zM338.5 167.2h0.9v0.9h-0.9zM342.3 184.1h0.9v0.9h-0.9zM339.1 168.6h0.9v0.9h-0.9zM343.5 168.9h0.9v0.9h-0.9zM343.6 181.0h0.9v0.9h-0.9zM335.7 167.7h0.9v0.9h-0.9zM343.5 176.7h0.9v0.9h-0.9zM338.8 165.8h0.9v0.9h-0.9zM345.1 175.0h0.9v0.9h-0.9zM344.6 171.8h0.9v0.9h-0.9zM339.3 164.4h0.9v0.9h-0.9zM344.1 169.9h0.9v0.9h-0.9zM342.3 171.0h0.9v0.9h-0.9zM337.0 167.5h0.9v0.9h-0.9zM343.8 171.1h0.9v0.9h-0.9zM337.5 168.0h0.9v0.9h-0.9zM342.3 180.1h0.9v0.9h-0.9zM344.0 173.3h0.9v0.9h-0.9zM341.0 168.7h0.9v0.9h-0.9zM336.8 166.4h0.9v0.9h-0.9zM336.9 182.1h0.9v0.9h-0.9zM338.0 185.0h0.9v0.9h-0.9zM344.9 178.5h0.9v0.9h-0.9zM341.9 165.2h0.9v0.9h-0.9zM344.7 173.8h0.9v0.9h-0.9zM342.2 179.0h0.9v0.9h-0.9zM346.1 173.7h0.9v0.9h-0.9zM342.7 179.7h0.9v0.9h-0.9zM334.8 165.9h0.9v0.9h-0.9zM340.8 179.7h0.9v0.9h-0.9zM343.9 172.8h0.9v0.9h-0.9zM343.5 171.3h0.9v0.9h-0.9zM346.3 170.2h0.9v0.9h-0.9zM342.9 178.8h0.9v0.9h-0.9zM336.1 167.3h0.9v0.9h-0.9zM343.2 165.7h0.9v0.9h-0.9zM345.7 168.2h0.9v0.9h-0.9zM340.3 180.6h0.9v0.9h-0.9zM299.8 181.2h0.9v0.9h-0.9zM300.6 175.0h0.9v0.9h-0.9zM299.4 174.0h0.9v0.9h-0.9zM301.4 172.3h0.9v0.9h-0.9zM299.1 174.3h0.9v0.9h-0.9zM300.2 173.2h0.9v0.9h-0.9zM302.5 181.8h0.9v0.9h-0.9zM301.1 174.7h0.9v0.9h-0.9zM303.4 183.5h0.9v0.9h-0.9zM301.4 180.8h0.9v0.9h-0.9zM302.6 179.7h0.9v0.9h-0.9zM300.9 175.7h0.9v0.9h-0.9zM301.4 174.5h0.9v0.9h-0.9zM301.6 178.4h0.9v0.9h-0.9zM300.9 178.2h0.9v0.9h-0.9zM305.9 166.2h0.9v0.9h-0.9zM299.4 176.2h0.9v0.9h-0.9zM299.4 174.5h0.9v0.9h-0.9zM298.6 175.9h0.9v0.9h-0.9zM300.9 173.0h0.9v0.9h-0.9zM298.7 173.2h0.9v0.9h-0.9zM298.4 171.8h0.9v0.9h-0.9zM300.2 168.9h0.9v0.9h-0.9zM300.8 176.7h0.9v0.9h-0.9zM301.3 173.9h0.9v0.9h-0.9zM298.4 180.3h0.9v0.9h-0.9zM296.7 170.9h0.9v0.9h-0.9zM300.2 177.7h0.9v0.9h-0.9zM301.9 180.8h0.9v0.9h-0.9zM300.6 173.8h0.9v0.9h-0.9zM300.6 178.7h0.9v0.9h-0.9zM303.6 181.2h0.9v0.9h-0.9zM296.9 173.6h0.9v0.9h-0.9zM305.8 185.0h0.9v0.9h-0.9zM300.7 177.9h0.9v0.9h-0.9zM299.5 173.9h0.9v0.9h-0.9zM301.7 183.2h0.9v0.9h-0.9zM298.2 178.8h0.9v0.9h-0.9zM301.7 172.3h0.9v0.9h-0.9zM300.7 177.8h0.9v0.9h-0.9zM304.4 182.3h0.9v0.9h-0.9zM304.0 181.8h0.9v0.9h-0.9zM301.8 169.2h0.9v0.9h-0.9zM300.6 175.6h0.9v0.9h-0.9zM302.2 170.6h0.9v0.9h-0.9zM300.0 174.8h0.9v0.9h-0.9zM302.4 170.9h0.9v0.9h-0.9zM304.3 182.2h0.9v0.9h-0.9zM303.8 181.4h0.9v0.9h-0.9zM299.8 177.1h0.9v0.9h-0.9zM301.1 181.9h0.9v0.9h-0.9zM306.1 165.9h0.9v0.9h-0.9zM365.7 170.0h0.9v0.9h-0.9zM351.9 177.5h0.9v0.9h-0.9zM346.7 184.1h0.9v0.9h-0.9zM350.5 168.6h0.9v0.9h-0.9zM352.3 174.7h0.9v0.9h-0.9zM345.8 164.3h0.9v0.9h-0.9zM350.0 176.7h0.9v0.9h-0.9zM348.6 174.2h0.9v0.9h-0.9zM351.3 176.9h0.9v0.9h-0.9zM360.1 167.7h0.9v0.9h-0.9zM344.4 173.8h0.9v0.9h-0.9zM348.0 170.8h0.9v0.9h-0.9zM351.6 179.2h0.9v0.9h-0.9zM354.6 172.7h0.9v0.9h-0.9zM352.7 170.9h0.9v0.9h-0.9zM356.8 178.1h0.9v0.9h-0.9zM357.1 174.9h0.9v0.9h-0.9zM350.8 185.9h0.9v0.9h-0.9zM358.0 176.1h0.9v0.9h-0.9zM356.6 178.2h0.9v0.9h-0.9zM361.5 173.3h0.9v0.9h-0.9zM349.7 174.9h0.9v0.9h-0.9zM355.4 181.5h0.9v0.9h-0.9zM348.5 168.7h0.9v0.9h-0.9zM355.8 186.7h0.9v0.9h-0.9zM352.5 168.3h0.9v0.9h-0.9zM343.5 168.6h0.9v0.9h-0.9zM347.2 162.9h0.9v0.9h-0.9zM334.0 186.3h0.9v0.9h-0.9zM345.7 180.5h0.9v0.9h-0.9zM345.0 167.4h0.9v0.9h-0.9zM339.8 163.1h0.9v0.9h-0.9zM353.0 167.4h0.9v0.9h-0.9zM350.0 164.5h0.9v0.9h-0.9zM365.4 173.3h0.9v0.9h-0.9zM351.5 174.3h0.9v0.9h-0.9zM346.6 170.7h0.9v0.9h-0.9zM340.7 179.4h0.9v0.9h-0.9zM353.6 176.4h0.9v0.9h-0.9zM341.4 167.1h0.9v0.9h-0.9zM345.3 176.2h0.9v0.9h-0.9zM351.3 176.4h0.9v0.9h-0.9zM357.8 182.7h0.9v0.9h-0.9zM342.6 180.6h0.9v0.9h-0.9zM336.6 167.1h0.9v0.9h-0.9zM355.3 175.6h0.9v0.9h-0.9zM334.3 167.6h0.9v0.9h-0.9zM347.3 174.9h0.9v0.9h-0.9zM348.0 177.3h0.9v0.9h-0.9zM348.0 160.1h0.9v0.9h-0.9zM350.8 171.9h0.9v0.9h-0.9zM344.0 169.5h0.9v0.9h-0.9zM343.8 165.2h0.9v0.9h-0.9zM353.5 181.7h0.9v0.9h-0.9zM339.6 166.8h0.9v0.9h-0.9zM356.0 174.0h0.9v0.9h-0.9zM351.4 168.3h0.9v0.9h-0.9zM344.8 172.7h0.9v0.9h-0.9zM337.8 166.9h0.9v0.9h-0.9zM354.7 167.4h0.9v0.9h-0.9zM359.4 170.0h0.9v0.9h-0.9zM352.0 176.3h0.9v0.9h-0.9zM342.8 166.9h0.9v0.9h-0.9zM334.2 162.9h0.9v0.9h-0.9zM356.0 176.9h0.9v0.9h-0.9zM349.3 169.6h0.9v0.9h-0.9zM359.5 177.6h0.9v0.9h-0.9zM349.0 165.5h0.9v0.9h-0.9zM359.3 174.4h0.9v0.9h-0.9zM349.3 173.4h0.9v0.9h-0.9zM352.0 170.5h0.9v0.9h-0.9zM354.2 169.6h0.9v0.9h-0.9zM348.1 166.9h0.9v0.9h-0.9zM345.2 173.4h0.9v0.9h-0.9zM349.7 168.4h0.9v0.9h-0.9zM355.5 173.0h0.9v0.9h-0.9zM358.2 183.4h0.9v0.9h-0.9zM358.2 178.1h0.9v0.9h-0.9zM349.5 175.6h0.9v0.9h-0.9zM340.6 167.3h0.9v0.9h-0.9zM358.1 174.5h0.9v0.9h-0.9zM360.8 176.8h0.9v0.9h-0.9zM347.0 169.9h0.9v0.9h-0.9zM349.5 169.6h0.9v0.9h-0.9zM362.1 170.7h0.9v0.9h-0.9zM344.4 167.0h0.9v0.9h-0.9zM349.2 179.3h0.9v0.9h-0.9zM353.4 179.8h0.9v0.9h-0.9zM345.2 170.4h0.9v0.9h-0.9zM355.6 177.8h0.9v0.9h-0.9zM355.1 179.6h0.9v0.9h-0.9zM347.5 173.8h0.9v0.9h-0.9zM352.6 172.2h0.9v0.9h-0.9zM358.3 174.4h0.9v0.9h-0.9zM346.9 178.8h0.9v0.9h-0.9zM356.4 176.0h0.9v0.9h-0.9zM337.8 168.1h0.9v0.9h-0.9zM354.4 180.0h0.9v0.9h-0.9zM351.6 172.6h0.9v0.9h-0.9zM344.3 168.1h0.9v0.9h-0.9zM348.0 170.2h0.9v0.9h-0.9zM348.0 175.4h0.9v0.9h-0.9zM348.6 175.5h0.9v0.9h-0.9zM344.9 175.4h0.9v0.9h-0.9zM355.7 168.9h0.9v0.9h-0.9zM345.7 175.1h0.9v0.9h-0.9zM346.5 170.0h0.9v0.9h-0.9zM344.4 169.6h0.9v0.9h-0.9zM362.5 173.4h0.9v0.9h-0.9zM341.6 169.7h0.9v0.9h-0.9zM355.0 159.9h0.9v0.9h-0.9z" fill="#000"/>
<path d="M315.3 165.1l5.5 -0.4l6.5 0.5l7.0 2.4l6.0 1.5l1.7 1.4l1.1 2.5l0.2 1.5l-0.3 1.5l-1.2 1.9l-5.0 3.8l-4.0 2.2l-4.0 1.5l-8.5 1.0l-5.0 -0.7l-7.5 -2.6l-3.5 -2.0l-2.0 -2.2l-1.0 -2.0l-0.1 -1.5l0.8 -2.5l1.0 -1.5l5.3 -4.0l7.0 -2.5M315.4 166.0l6.0 -0.3l6.5 0.6l9.5 3.9l2.7 1.8l0.7 1.5l-0.0 1.5l-1.0 2.0l-1.7 2.0l-5.2 3.6l-5.0 1.9l-8.0 0.9l-4.0 -0.6l-7.0 -2.4l-3.2 -2.0l-1.5 -1.5l-0.9 -2.0l-0.1 -1.5l0.6 -2.0l0.9 -1.5l4.8 -3.8l6.0 -2.2M316.8 166.6l8.0 0.1l3.5 0.7l8.2 3.7l1.5 1.0l0.8 1.0l0.3 1.5l-0.3 1.5l-1.8 2.7l-4.5 3.3l-6.0 2.0l-7.0 0.6l-4.5 -0.9l-6.5 -2.5l-2.5 -1.8l-1.1 -1.5l-0.5 -1.5l0.0 -1.5l0.5 -1.5l1.1 -1.5l4.0 -3.1l5.0 -1.9l2.0 -0.4M317.2 167.1l7.1 0.2l3.5 0.6l7.5 3.3l2.2 1.9l0.3 1.0l-0.0 1.5l-0.6 1.5l-1.0 1.2l-4.5 3.5l-6.0 2.0l-6.5 0.6l-4.5 -0.9l-6.0 -2.3l-2.0 -1.5l-1.3 -1.5l-0.6 -1.5l-0.0 -1.5l0.5 -1.5l1.2 -1.5l3.7 -2.8l5.0 -1.9l1.9 -0.3M316.6 167.6l7.2 0.1l3.5 0.6l7.5 3.3l1.8 1.6l0.4 2.5l-0.3 1.0l-1.0 1.2l-4.0 3.3l-6.0 2.0l-6.0 0.6l-2.5 -0.3l-8.0 -2.7l-1.8 -1.2l-1.4 -1.5l-0.6 -1.5l-0.0 -1.5l1.4 -2.5l3.4 -2.7l6.3 -2.3M316.3 168.1l7.1 0.0l3.3 0.5l7.2 3.0l2.0 1.5l0.4 1.0l0.0 1.5l-1.2 2.0l-3.3 3.0l-5.5 2.0l-6.0 0.7l-2.5 -0.2l-8.0 -2.6l-1.5 -1.0l-1.4 -1.5l-0.8 -2.5l0.4 -1.5l0.9 -1.2l3.0 -2.5l5.9 -2.3" fill="none" stroke="#000" stroke-width="0.85"/>
<path d="M316.3 168.1l7.1 0.0l3.3 0.5l7.2 3.0l2.0 1.5l0.4 1.0l0.0 1.5l-1.2 2.0l-3.3 3.0l-5.5 2.0l-6.0 0.7l-2.5 -0.2l-8.0 -2.6l-1.5 -1.0l-1.4 -1.5l-0.8 -2.5l0.4 -1.5l0.9 -1.2l3.0 -2.5l5.9 -2.3Z" fill="#000" fill-rule="evenodd"/>
<ellipse cx="324.6" cy="172.0" rx="0.88" ry="0.45" fill="#fff"/><ellipse cx="316.8" cy="177.9" rx="1.06" ry="0.57" fill="#fff"/><ellipse cx="316.8" cy="171.3" rx="1.15" ry="0.62" fill="#fff"/>
</g>
<rect x="296.60" y="132.80" width="101.00" height="100.80" fill="none" stroke="#000" stroke-width="1.35"/>
<rect x="335.60" y="159.40" width="55.40" height="28.70" fill="none" stroke="#000" stroke-width="1.35"/>
<clipPath id="c8"><rect x="403.0" y="132.8" width="101.10000000000002" height="100.79999999999998"/></clipPath>
<g clip-path="url(#c8)">
<path d="M443.4 167.7h0.9v0.9h-0.9zM415.0 183.4h0.9v0.9h-0.9zM439.6 184.7h0.9v0.9h-0.9zM405.6 173.4h0.9v0.9h-0.9zM419.1 185.9h0.9v0.9h-0.9zM413.6 168.2h0.9v0.9h-0.9zM425.7 186.6h0.9v0.9h-0.9zM410.6 181.8h0.9v0.9h-0.9zM407.1 179.5h0.9v0.9h-0.9zM442.9 184.2h0.9v0.9h-0.9zM416.4 167.3h0.9v0.9h-0.9zM427.9 187.1h0.9v0.9h-0.9zM415.1 168.3h0.9v0.9h-0.9zM413.9 182.9h0.9v0.9h-0.9zM408.6 180.7h0.9v0.9h-0.9zM449.1 163.5h0.9v0.9h-0.9zM449.4 179.3h0.9v0.9h-0.9zM448.3 169.6h0.9v0.9h-0.9zM443.9 183.5h0.9v0.9h-0.9zM453.1 172.1h0.9v0.9h-0.9zM445.6 181.1h0.9v0.9h-0.9zM451.3 168.8h0.9v0.9h-0.9zM444.1 168.7h0.9v0.9h-0.9zM448.2 180.1h0.9v0.9h-0.9zM437.5 164.0h0.9v0.9h-0.9zM443.7 167.0h0.9v0.9h-0.9zM449.4 166.3h0.9v0.9h-0.9zM449.1 175.8h0.9v0.9h-0.9zM449.1 179.4h0.9v0.9h-0.9zM444.9 168.6h0.9v0.9h-0.9zM448.5 178.8h0.9v0.9h-0.9zM444.2 181.9h0.9v0.9h-0.9zM445.0 168.7h0.9v0.9h-0.9zM446.7 180.2h0.9v0.9h-0.9zM444.6 185.1h0.9v0.9h-0.9zM447.0 179.9h0.9v0.9h-0.9zM451.1 169.1h0.9v0.9h-0.9zM450.4 169.2h0.9v0.9h-0.9zM446.2 167.7h0.9v0.9h-0.9zM447.9 168.0h0.9v0.9h-0.9zM447.5 167.5h0.9v0.9h-0.9zM442.2 168.0h0.9v0.9h-0.9zM448.4 178.4h0.9v0.9h-0.9zM447.0 180.7h0.9v0.9h-0.9zM446.0 180.6h0.9v0.9h-0.9zM445.0 166.2h0.9v0.9h-0.9zM442.0 167.7h0.9v0.9h-0.9zM450.5 173.8h0.9v0.9h-0.9zM448.4 181.9h0.9v0.9h-0.9zM445.6 168.1h0.9v0.9h-0.9zM452.5 173.5h0.9v0.9h-0.9zM448.6 161.0h0.9v0.9h-0.9zM447.8 170.2h0.9v0.9h-0.9zM443.6 167.0h0.9v0.9h-0.9zM445.7 158.7h0.9v0.9h-0.9zM441.5 166.8h0.9v0.9h-0.9zM449.8 167.8h0.9v0.9h-0.9zM445.9 169.3h0.9v0.9h-0.9zM448.3 179.1h0.9v0.9h-0.9zM443.0 184.0h0.9v0.9h-0.9zM450.7 169.9h0.9v0.9h-0.9zM448.9 177.5h0.9v0.9h-0.9zM442.2 168.3h0.9v0.9h-0.9zM448.8 165.5h0.9v0.9h-0.9zM442.1 167.6h0.9v0.9h-0.9zM441.7 168.3h0.9v0.9h-0.9zM450.9 170.7h0.9v0.9h-0.9zM407.6 173.8h0.9v0.9h-0.9zM407.5 181.8h0.9v0.9h-0.9zM406.6 176.4h0.9v0.9h-0.9zM411.7 183.5h0.9v0.9h-0.9zM405.5 175.0h0.9v0.9h-0.9zM407.5 176.8h0.9v0.9h-0.9zM406.5 179.4h0.9v0.9h-0.9zM409.5 181.9h0.9v0.9h-0.9zM406.5 176.8h0.9v0.9h-0.9zM406.5 175.3h0.9v0.9h-0.9zM405.8 180.1h0.9v0.9h-0.9zM406.2 168.7h0.9v0.9h-0.9zM406.6 175.0h0.9v0.9h-0.9zM411.7 183.8h0.9v0.9h-0.9zM404.6 174.2h0.9v0.9h-0.9zM406.9 174.2h0.9v0.9h-0.9zM410.4 169.7h0.9v0.9h-0.9zM406.1 181.9h0.9v0.9h-0.9zM405.2 176.8h0.9v0.9h-0.9zM404.2 173.9h0.9v0.9h-0.9zM404.0 173.8h0.9v0.9h-0.9zM403.5 171.7h0.9v0.9h-0.9zM403.7 172.6h0.9v0.9h-0.9zM408.8 172.4h0.9v0.9h-0.9zM409.5 184.2h0.9v0.9h-0.9zM411.0 170.9h0.9v0.9h-0.9zM407.1 171.4h0.9v0.9h-0.9zM403.9 175.5h0.9v0.9h-0.9zM407.4 175.7h0.9v0.9h-0.9zM406.5 181.0h0.9v0.9h-0.9zM409.8 171.7h0.9v0.9h-0.9zM405.0 173.7h0.9v0.9h-0.9zM405.7 178.2h0.9v0.9h-0.9zM407.2 168.4h0.9v0.9h-0.9zM408.7 171.0h0.9v0.9h-0.9zM403.9 174.4h0.9v0.9h-0.9zM405.9 173.4h0.9v0.9h-0.9zM407.3 176.0h0.9v0.9h-0.9zM411.6 168.3h0.9v0.9h-0.9zM456.6 174.8h0.9v0.9h-0.9zM458.5 166.3h0.9v0.9h-0.9zM463.2 170.4h0.9v0.9h-0.9zM460.3 171.5h0.9v0.9h-0.9zM472.8 162.4h0.9v0.9h-0.9zM456.5 158.8h0.9v0.9h-0.9zM468.9 156.8h0.9v0.9h-0.9zM467.9 171.3h0.9v0.9h-0.9zM484.2 169.3h0.9v0.9h-0.9zM469.1 190.5h0.9v0.9h-0.9zM479.3 171.8h0.9v0.9h-0.9zM472.0 161.9h0.9v0.9h-0.9zM459.9 175.9h0.9v0.9h-0.9zM481.4 189.9h0.9v0.9h-0.9zM459.5 176.4h0.9v0.9h-0.9zM464.5 176.2h0.9v0.9h-0.9zM456.6 161.4h0.9v0.9h-0.9zM477.0 168.4h0.9v0.9h-0.9zM470.3 181.1h0.9v0.9h-0.9zM465.5 173.3h0.9v0.9h-0.9zM474.4 172.8h0.9v0.9h-0.9zM461.0 174.4h0.9v0.9h-0.9zM481.7 174.9h0.9v0.9h-0.9zM448.7 184.5h0.9v0.9h-0.9zM454.7 179.0h0.9v0.9h-0.9zM453.6 170.8h0.9v0.9h-0.9zM458.7 174.6h0.9v0.9h-0.9zM455.7 169.1h0.9v0.9h-0.9zM452.8 162.9h0.9v0.9h-0.9zM472.9 167.2h0.9v0.9h-0.9zM479.0 167.0h0.9v0.9h-0.9zM455.8 179.0h0.9v0.9h-0.9zM461.8 170.5h0.9v0.9h-0.9zM448.0 181.9h0.9v0.9h-0.9zM467.9 179.0h0.9v0.9h-0.9zM469.5 179.6h0.9v0.9h-0.9zM448.9 182.2h0.9v0.9h-0.9zM454.8 186.3h0.9v0.9h-0.9zM471.5 174.8h0.9v0.9h-0.9zM474.6 173.5h0.9v0.9h-0.9zM472.0 175.2h0.9v0.9h-0.9zM461.0 171.4h0.9v0.9h-0.9zM455.0 163.1h0.9v0.9h-0.9zM465.4 181.5h0.9v0.9h-0.9zM456.6 165.9h0.9v0.9h-0.9zM490.3 161.0h0.9v0.9h-0.9zM476.6 173.2h0.9v0.9h-0.9zM457.1 180.7h0.9v0.9h-0.9zM467.2 176.8h0.9v0.9h-0.9zM477.3 177.3h0.9v0.9h-0.9zM445.6 182.0h0.9v0.9h-0.9zM474.1 180.0h0.9v0.9h-0.9zM460.5 164.4h0.9v0.9h-0.9zM475.8 169.0h0.9v0.9h-0.9zM449.5 164.3h0.9v0.9h-0.9zM451.1 186.6h0.9v0.9h-0.9zM463.6 168.7h0.9v0.9h-0.9zM472.7 182.0h0.9v0.9h-0.9zM469.7 174.3h0.9v0.9h-0.9zM468.8 174.9h0.9v0.9h-0.9zM480.6 170.8h0.9v0.9h-0.9zM477.7 165.5h0.9v0.9h-0.9zM469.2 169.3h0.9v0.9h-0.9zM456.1 173.4h0.9v0.9h-0.9zM493.0 177.2h0.9v0.9h-0.9zM468.3 175.3h0.9v0.9h-0.9zM465.0 183.4h0.9v0.9h-0.9zM472.1 177.4h0.9v0.9h-0.9zM450.5 183.8h0.9v0.9h-0.9zM469.2 173.9h0.9v0.9h-0.9zM453.1 166.8h0.9v0.9h-0.9zM462.5 172.6h0.9v0.9h-0.9zM464.2 170.8h0.9v0.9h-0.9zM454.6 166.2h0.9v0.9h-0.9zM458.5 185.1h0.9v0.9h-0.9zM452.9 184.8h0.9v0.9h-0.9zM475.6 171.6h0.9v0.9h-0.9zM442.6 167.3h0.9v0.9h-0.9zM449.1 162.6h0.9v0.9h-0.9zM468.2 180.4h0.9v0.9h-0.9zM454.5 165.9h0.9v0.9h-0.9zM470.0 191.6h0.9v0.9h-0.9zM471.5 168.3h0.9v0.9h-0.9zM451.5 174.1h0.9v0.9h-0.9zM471.9 165.9h0.9v0.9h-0.9zM457.5 183.4h0.9v0.9h-0.9zM459.2 174.5h0.9v0.9h-0.9zM455.4 171.4h0.9v0.9h-0.9zM474.3 172.1h0.9v0.9h-0.9zM473.5 173.1h0.9v0.9h-0.9zM453.3 181.0h0.9v0.9h-0.9zM478.4 180.1h0.9v0.9h-0.9zM479.8 187.2h0.9v0.9h-0.9zM469.7 170.9h0.9v0.9h-0.9zM469.2 180.9h0.9v0.9h-0.9zM481.4 165.8h0.9v0.9h-0.9zM466.8 170.2h0.9v0.9h-0.9zM443.2 195.4h0.9v0.9h-0.9zM454.5 168.8h0.9v0.9h-0.9zM473.7 178.7h0.9v0.9h-0.9zM442.8 191.9h0.9v0.9h-0.9zM480.1 185.7h0.9v0.9h-0.9zM457.7 187.6h0.9v0.9h-0.9zM459.1 170.9h0.9v0.9h-0.9zM455.2 168.6h0.9v0.9h-0.9zM462.7 170.5h0.9v0.9h-0.9zM459.9 176.1h0.9v0.9h-0.9zM456.1 176.1h0.9v0.9h-0.9zM474.6 168.5h0.9v0.9h-0.9zM484.0 183.5h0.9v0.9h-0.9zM460.3 169.7h0.9v0.9h-0.9zM467.1 165.3h0.9v0.9h-0.9zM452.2 178.9h0.9v0.9h-0.9zM449.7 164.5h0.9v0.9h-0.9zM456.1 171.3h0.9v0.9h-0.9zM457.8 177.2h0.9v0.9h-0.9zM464.9 173.1h0.9v0.9h-0.9zM453.6 161.9h0.9v0.9h-0.9zM475.2 180.0h0.9v0.9h-0.9zM451.7 178.4h0.9v0.9h-0.9zM473.5 164.5h0.9v0.9h-0.9zM468.1 168.3h0.9v0.9h-0.9zM439.5 186.0h0.9v0.9h-0.9zM480.2 176.0h0.9v0.9h-0.9zM470.1 189.7h0.9v0.9h-0.9zM457.5 180.8h0.9v0.9h-0.9zM467.1 170.2h0.9v0.9h-0.9zM463.0 176.7h0.9v0.9h-0.9zM449.5 169.8h0.9v0.9h-0.9zM464.0 179.7h0.9v0.9h-0.9zM468.7 167.2h0.9v0.9h-0.9zM461.9 168.0h0.9v0.9h-0.9zM448.9 179.8h0.9v0.9h-0.9zM468.5 175.2h0.9v0.9h-0.9zM464.7 174.6h0.9v0.9h-0.9zM466.1 170.4h0.9v0.9h-0.9zM481.2 166.1h0.9v0.9h-0.9zM475.4 180.7h0.9v0.9h-0.9zM455.1 165.1h0.9v0.9h-0.9zM446.1 166.2h0.9v0.9h-0.9zM468.1 164.1h0.9v0.9h-0.9zM452.7 171.6h0.9v0.9h-0.9zM453.6 162.7h0.9v0.9h-0.9zM467.2 160.2h0.9v0.9h-0.9zM460.3 161.5h0.9v0.9h-0.9zM464.7 167.5h0.9v0.9h-0.9zM463.6 168.7h0.9v0.9h-0.9zM461.6 182.2h0.9v0.9h-0.9zM470.7 179.7h0.9v0.9h-0.9zM455.4 168.4h0.9v0.9h-0.9zM464.3 175.1h0.9v0.9h-0.9zM470.1 169.9h0.9v0.9h-0.9zM457.8 166.8h0.9v0.9h-0.9zM449.2 180.4h0.9v0.9h-0.9zM475.2 177.7h0.9v0.9h-0.9z" fill="#000"/>
<path d="M427.5 165.6l2.7 0.0l5.0 0.8l11.0 3.0l2.0 1.6l1.0 3.0l-0.1 2.0l-1.2 2.5l-1.6 1.5l-4.1 2.6l-3.0 1.7l-2.5 1.0l-7.0 1.1l-5.0 -0.2l-5.0 -0.9l-2.0 -0.7l-5.0 -2.4l-1.9 -1.3l-2.2 -2.0l-1.1 -2.5l0.2 -2.0l1.0 -1.7l3.1 -2.3l3.9 -2.3l5.5 -2.1l6.3 -0.6M423.7 167.1l5.6 -0.3l7.0 1.2l4.0 1.4l2.6 1.3l1.6 1.0l1.1 1.5l0.6 2.0l-0.1 1.5l-0.8 1.5l-1.4 1.5l-3.6 2.7l-2.5 1.4l-2.0 0.7l-3.5 0.6l-6.5 0.2l-6.0 -1.1l-6.2 -3.0l-1.7 -1.5l-1.4 -2.0l-0.3 -1.5l0.4 -1.5l2.7 -3.0l4.5 -2.8l3.5 -1.3l2.4 -0.4M425.7 167.6l4.0 -0.1l5.0 0.8l2.5 0.7l3.0 1.2l2.3 1.4l1.4 1.5l0.6 1.5l0.2 1.5l-0.5 1.5l-1.2 1.5l-2.7 2.2l-4.5 2.4l-5.5 0.9l-5.0 -0.1l-5.5 -1.1l-5.5 -2.8l-1.5 -1.5l-1.1 -2.0l-0.0 -1.5l0.7 -1.5l3.5 -3.3l2.5 -1.4l3.0 -1.1l4.5 -0.6M425.7 168.1l4.0 -0.1l6.5 1.2l5.1 2.4l1.5 1.5l0.7 1.5l0.2 1.5l-0.5 1.5l-3.0 3.0l-4.3 2.5l-5.2 0.9l-5.5 -0.1l-5.0 -1.0l-5.6 -2.8l-1.5 -1.5l-0.8 -1.5l-0.0 -1.5l0.7 -1.5l3.3 -3.0l4.9 -2.3l4.5 -0.7M425.1 168.6l4.1 -0.2l6.0 1.0l5.1 2.2l1.3 1.0l1.0 1.5l0.3 1.5l-0.3 1.5l-2.4 2.9l-4.5 2.7l-5.0 0.9l-5.0 -0.0l-5.0 -1.0l-5.5 -2.8l-1.3 -1.2l-0.8 -1.5l-0.1 -1.0l0.5 -1.5l3.1 -3.0l4.7 -2.3l3.9 -0.7M424.1 169.1l4.6 -0.4l5.9 0.9l5.1 2.2l1.9 1.8l0.5 1.5l-0.1 1.5l-1.6 2.5l-4.5 3.0l-4.3 0.9l-6.0 0.1l-4.5 -0.9l-5.3 -2.6l-2.0 -2.0l-0.3 -1.0l0.2 -1.5l2.2 -2.5l4.3 -2.5l3.8 -1.0" fill="none" stroke="#000" stroke-width="0.85"/>
<path d="M424.1 169.1l4.6 -0.4l5.9 0.9l5.1 2.2l1.9 1.8l0.5 1.5l-0.1 1.5l-1.6 2.5l-4.5 3.0l-4.3 0.9l-6.0 0.1l-4.5 -0.9l-5.3 -2.6l-2.0 -2.0l-0.3 -1.0l0.2 -1.5l2.2 -2.5l4.3 -2.5l3.8 -1.0Z" fill="#000" fill-rule="evenodd"/>
<ellipse cx="429.3" cy="173.3" rx="0.66" ry="0.48" fill="#fff"/><ellipse cx="431.3" cy="179.6" rx="0.77" ry="0.65" fill="#fff"/><ellipse cx="429.8" cy="174.5" rx="0.67" ry="0.53" fill="#fff"/>
</g>
<rect x="403.00" y="132.80" width="101.10" height="100.80" fill="none" stroke="#000" stroke-width="1.35"/>
<rect x="442.60" y="159.40" width="55.00" height="28.50" fill="none" stroke="#000" stroke-width="1.35"/>
<line x1="15.30" y1="31.30" x2="15.30" y2="202.60" stroke="#000" stroke-width="1.3"/>
<path d="M15.30 26.30 L19.10 35.10 L15.30 33.10 L11.50 35.10Z" fill="#000"/>
<line x1="54.00" y1="245.00" x2="227.20" y2="245.00" stroke="#000" stroke-width="1.3"/>
<path d="M232.20 245.00 L223.40 241.50 L225.40 245.00 L223.40 248.50Z" fill="#000"/>
<line x1="286.50" y1="31.30" x2="286.50" y2="206.00" stroke="#000" stroke-width="1.3"/>
<path d="M286.50 26.30 L290.30 35.10 L286.50 33.10 L282.70 35.10Z" fill="#000"/>
<line x1="325.50" y1="245.00" x2="498.80" y2="245.00" stroke="#000" stroke-width="1.3"/>
<path d="M503.80 245.00 L495.00 241.50 L497.00 245.00 L495.00 248.50Z" fill="#000"/>
<line x1="65.00" y1="300.55" x2="65.00" y2="421.50" stroke="#000" stroke-width="1.4"/>
<line x1="64.30" y1="420.80" x2="243.30" y2="420.80" stroke="#000" stroke-width="1.4"/>
<line x1="58.70" y1="420.80" x2="65.00" y2="420.80" stroke="#000" stroke-width="1.3"/>
<line x1="58.70" y1="396.89" x2="65.00" y2="396.89" stroke="#000" stroke-width="1.3"/>
<line x1="58.70" y1="372.98" x2="65.00" y2="372.98" stroke="#000" stroke-width="1.3"/>
<line x1="58.70" y1="349.07" x2="65.00" y2="349.07" stroke="#000" stroke-width="1.3"/>
<line x1="58.70" y1="325.16" x2="65.00" y2="325.16" stroke="#000" stroke-width="1.3"/>
<line x1="58.70" y1="301.25" x2="65.00" y2="301.25" stroke="#000" stroke-width="1.3"/>
<line x1="109.40" y1="420.80" x2="109.40" y2="427.00" stroke="#000" stroke-width="1.3"/>
<line x1="199.20" y1="420.80" x2="199.20" y2="427.00" stroke="#000" stroke-width="1.3"/>
<line x1="90.20" y1="290.60" x2="220.00" y2="290.60" stroke="#000" stroke-width="1.3"/>
<circle cx="79.4" cy="333.9" r="3.0" fill="#000"/>
<circle cx="86.7" cy="339.8" r="3.0" fill="#000"/>
<circle cx="93.7" cy="336.1" r="3.0" fill="#000"/>
<circle cx="100.9" cy="333.0" r="3.0" fill="#000"/>
<circle cx="86.7" cy="355.6" r="3.0" fill="#000"/>
<circle cx="93.7" cy="356.4" r="3.0" fill="#000"/>
<circle cx="93.7" cy="359.7" r="3.0" fill="#000"/>
<circle cx="86.4" cy="364.4" r="3.0" fill="#000"/>
<circle cx="83.0" cy="378.9" r="3.0" fill="#000"/>
<circle cx="90.0" cy="379.4" r="3.0" fill="#000"/>
<circle cx="97.2" cy="376.3" r="3.0" fill="#000"/>
<circle cx="86.7" cy="390.6" r="3.0" fill="#000"/>
<circle cx="93.7" cy="386.7" r="3.0" fill="#000"/>
<circle cx="176.0" cy="309.7" r="3.0" fill="#000"/>
<circle cx="183.1" cy="313.1" r="3.0" fill="#000"/>
<circle cx="179.6" cy="320.7" r="3.0" fill="#000"/>
<circle cx="176.0" cy="334.0" r="3.0" fill="#000"/>
<circle cx="183.1" cy="334.7" r="3.0" fill="#000"/>
<circle cx="190.3" cy="341.1" r="3.0" fill="#000"/>
<circle cx="168.9" cy="346.0" r="3.0" fill="#000"/>
<circle cx="176.0" cy="346.0" r="3.0" fill="#000"/>
<circle cx="183.1" cy="346.0" r="3.0" fill="#000"/>
<circle cx="179.6" cy="363.3" r="3.0" fill="#000"/>
<circle cx="172.4" cy="377.6" r="3.0" fill="#000"/>
<circle cx="179.6" cy="382.6" r="3.0" fill="#000"/>
<circle cx="186.7" cy="378.6" r="3.0" fill="#000"/>
<circle cx="129.1" cy="368.0" r="2.2" fill="#fff" stroke="#000" stroke-width="1.35"/>
<circle cx="118.6" cy="387.2" r="2.2" fill="#fff" stroke="#000" stroke-width="1.35"/>
<circle cx="125.8" cy="390.8" r="2.2" fill="#fff" stroke="#000" stroke-width="1.35"/>
<circle cx="132.8" cy="391.1" r="2.2" fill="#fff" stroke="#000" stroke-width="1.35"/>
<circle cx="140.0" cy="388.7" r="2.2" fill="#fff" stroke="#000" stroke-width="1.35"/>
<circle cx="122.0" cy="396.3" r="2.2" fill="#fff" stroke="#000" stroke-width="1.35"/>
<circle cx="129.1" cy="400.6" r="2.2" fill="#fff" stroke="#000" stroke-width="1.35"/>
<circle cx="136.3" cy="398.9" r="2.2" fill="#fff" stroke="#000" stroke-width="1.35"/>
<circle cx="118.6" cy="404.4" r="2.2" fill="#fff" stroke="#000" stroke-width="1.35"/>
<circle cx="125.8" cy="407.8" r="2.2" fill="#fff" stroke="#000" stroke-width="1.35"/>
<circle cx="132.8" cy="408.0" r="2.2" fill="#fff" stroke="#000" stroke-width="1.35"/>
<circle cx="140.0" cy="406.7" r="2.2" fill="#fff" stroke="#000" stroke-width="1.35"/>
<circle cx="129.1" cy="420.8" r="2.2" fill="#fff" stroke="#000" stroke-width="1.35"/>
<circle cx="218.6" cy="328.6" r="2.2" fill="#fff" stroke="#000" stroke-width="1.35"/>
<circle cx="218.6" cy="357.4" r="2.2" fill="#fff" stroke="#000" stroke-width="1.35"/>
<circle cx="211.4" cy="367.1" r="2.2" fill="#fff" stroke="#000" stroke-width="1.35"/>
<circle cx="225.7" cy="365.1" r="2.2" fill="#fff" stroke="#000" stroke-width="1.35"/>
<circle cx="218.6" cy="369.0" r="2.2" fill="#fff" stroke="#000" stroke-width="1.35"/>
<circle cx="222.1" cy="371.0" r="2.2" fill="#fff" stroke="#000" stroke-width="1.35"/>
<circle cx="215.0" cy="376.4" r="2.2" fill="#fff" stroke="#000" stroke-width="1.35"/>
<circle cx="225.7" cy="384.6" r="2.2" fill="#fff" stroke="#000" stroke-width="1.35"/>
<circle cx="211.4" cy="389.0" r="2.2" fill="#fff" stroke="#000" stroke-width="1.35"/>
<circle cx="218.6" cy="389.6" r="2.2" fill="#fff" stroke="#000" stroke-width="1.35"/>
<circle cx="215.0" cy="399.3" r="2.2" fill="#fff" stroke="#000" stroke-width="1.35"/>
<circle cx="222.1" cy="397.9" r="2.2" fill="#fff" stroke="#000" stroke-width="1.35"/>
<line x1="332.00" y1="300.55" x2="332.00" y2="420.80" stroke="#000" stroke-width="1.4"/>
<line x1="331.30" y1="420.10" x2="510.40" y2="420.10" stroke="#000" stroke-width="1.4"/>
<line x1="325.70" y1="420.10" x2="332.00" y2="420.10" stroke="#000" stroke-width="1.3"/>
<line x1="325.70" y1="390.39" x2="332.00" y2="390.39" stroke="#000" stroke-width="1.3"/>
<line x1="325.70" y1="360.68" x2="332.00" y2="360.68" stroke="#000" stroke-width="1.3"/>
<line x1="325.70" y1="330.96" x2="332.00" y2="330.96" stroke="#000" stroke-width="1.3"/>
<line x1="325.70" y1="301.25" x2="332.00" y2="301.25" stroke="#000" stroke-width="1.3"/>
<line x1="376.30" y1="420.10" x2="376.30" y2="426.30" stroke="#000" stroke-width="1.3"/>
<line x1="465.60" y1="420.10" x2="465.60" y2="426.30" stroke="#000" stroke-width="1.3"/>
<line x1="357.00" y1="290.60" x2="485.20" y2="290.60" stroke="#000" stroke-width="1.3"/>
<circle cx="356.9" cy="370.8" r="3.0" fill="#000"/>
<circle cx="356.9" cy="378.9" r="3.0" fill="#000"/>
<circle cx="349.7" cy="382.3" r="3.0" fill="#000"/>
<circle cx="364.2" cy="384.6" r="3.0" fill="#000"/>
<circle cx="356.9" cy="386.6" r="3.0" fill="#000"/>
<circle cx="371.2" cy="392.8" r="3.0" fill="#000"/>
<circle cx="342.6" cy="394.9" r="3.0" fill="#000"/>
<circle cx="349.7" cy="396.9" r="3.0" fill="#000"/>
<circle cx="356.9" cy="397.4" r="3.0" fill="#000"/>
<circle cx="364.2" cy="395.4" r="3.0" fill="#000"/>
<circle cx="349.7" cy="400.0" r="3.0" fill="#000"/>
<circle cx="364.2" cy="400.8" r="3.0" fill="#000"/>
<circle cx="356.9" cy="404.9" r="3.0" fill="#000"/>
<circle cx="446.2" cy="312.0" r="3.0" fill="#000"/>
<circle cx="439.0" cy="319.6" r="3.0" fill="#000"/>
<circle cx="446.2" cy="321.0" r="3.0" fill="#000"/>
<circle cx="453.4" cy="319.6" r="3.0" fill="#000"/>
<circle cx="442.7" cy="349.1" r="3.0" fill="#000"/>
<circle cx="449.9" cy="349.5" r="3.0" fill="#000"/>
<circle cx="446.2" cy="384.9" r="3.0" fill="#000"/>
<circle cx="453.4" cy="388.7" r="3.0" fill="#000"/>
<circle cx="439.0" cy="394.8" r="3.0" fill="#000"/>
<circle cx="446.2" cy="395.3" r="3.0" fill="#000"/>
<circle cx="439.0" cy="399.4" r="3.0" fill="#000"/>
<circle cx="453.4" cy="402.1" r="3.0" fill="#000"/>
<circle cx="446.2" cy="405.2" r="3.0" fill="#000"/>
<circle cx="396.2" cy="366.5" r="2.2" fill="#fff" stroke="#000" stroke-width="1.35"/>
<circle cx="395.9" cy="396.4" r="2.2" fill="#fff" stroke="#000" stroke-width="1.35"/>
<circle cx="388.8" cy="403.1" r="2.2" fill="#fff" stroke="#000" stroke-width="1.35"/>
<circle cx="385.0" cy="405.6" r="2.2" fill="#fff" stroke="#000" stroke-width="1.35"/>
<circle cx="395.9" cy="404.6" r="2.2" fill="#fff" stroke="#000" stroke-width="1.35"/>
<circle cx="403.1" cy="403.7" r="2.2" fill="#fff" stroke="#000" stroke-width="1.35"/>
<circle cx="392.5" cy="409.5" r="2.2" fill="#fff" stroke="#000" stroke-width="1.35"/>
<circle cx="406.7" cy="407.7" r="2.2" fill="#fff" stroke="#000" stroke-width="1.35"/>
<circle cx="399.6" cy="411.9" r="2.2" fill="#fff" stroke="#000" stroke-width="1.35"/>
<circle cx="385.0" cy="414.6" r="2.2" fill="#fff" stroke="#000" stroke-width="1.35"/>
<circle cx="406.7" cy="413.8" r="2.2" fill="#fff" stroke="#000" stroke-width="1.35"/>
<circle cx="399.6" cy="417.7" r="2.2" fill="#fff" stroke="#000" stroke-width="1.35"/>
<circle cx="392.5" cy="420.4" r="2.2" fill="#fff" stroke="#000" stroke-width="1.35"/>
<circle cx="485.4" cy="308.7" r="2.2" fill="#fff" stroke="#000" stroke-width="1.35"/>
<circle cx="485.4" cy="374.0" r="2.2" fill="#fff" stroke="#000" stroke-width="1.35"/>
<circle cx="485.4" cy="393.1" r="2.2" fill="#fff" stroke="#000" stroke-width="1.35"/>
<circle cx="478.3" cy="398.6" r="2.2" fill="#fff" stroke="#000" stroke-width="1.35"/>
<circle cx="492.6" cy="400.7" r="2.2" fill="#fff" stroke="#000" stroke-width="1.35"/>
<circle cx="485.4" cy="402.9" r="2.2" fill="#fff" stroke="#000" stroke-width="1.35"/>
<circle cx="481.9" cy="410.0" r="2.2" fill="#fff" stroke="#000" stroke-width="1.35"/>
<circle cx="489.3" cy="410.3" r="2.2" fill="#fff" stroke="#000" stroke-width="1.35"/>
<circle cx="474.7" cy="414.3" r="2.2" fill="#fff" stroke="#000" stroke-width="1.35"/>
<circle cx="489.3" cy="414.7" r="2.2" fill="#fff" stroke="#000" stroke-width="1.35"/>
<circle cx="496.1" cy="414.0" r="2.2" fill="#fff" stroke="#000" stroke-width="1.35"/>
<circle cx="481.9" cy="420.3" r="2.2" fill="#fff" stroke="#000" stroke-width="1.35"/>
<line x1="65.20" y1="490.70" x2="65.20" y2="611.20" stroke="#000" stroke-width="1.4"/>
<line x1="64.50" y1="610.50" x2="243.40" y2="610.50" stroke="#000" stroke-width="1.4"/>
<line x1="58.90" y1="610.50" x2="65.20" y2="610.50" stroke="#000" stroke-width="1.3"/>
<line x1="58.90" y1="580.73" x2="65.20" y2="580.73" stroke="#000" stroke-width="1.3"/>
<line x1="58.90" y1="550.95" x2="65.20" y2="550.95" stroke="#000" stroke-width="1.3"/>
<line x1="58.90" y1="521.17" x2="65.20" y2="521.17" stroke="#000" stroke-width="1.3"/>
<line x1="58.90" y1="491.40" x2="65.20" y2="491.40" stroke="#000" stroke-width="1.3"/>
<line x1="110.00" y1="610.50" x2="110.00" y2="616.70" stroke="#000" stroke-width="1.3"/>
<line x1="199.20" y1="610.50" x2="199.20" y2="616.70" stroke="#000" stroke-width="1.3"/>
<line x1="91.70" y1="482.50" x2="219.10" y2="482.50" stroke="#000" stroke-width="1.3"/>
<circle cx="90.0" cy="538.5" r="3.0" fill="#000"/>
<circle cx="75.8" cy="550.8" r="3.0" fill="#000"/>
<circle cx="79.5" cy="548.5" r="3.0" fill="#000"/>
<circle cx="83.1" cy="553.1" r="3.0" fill="#000"/>
<circle cx="86.6" cy="549.2" r="3.0" fill="#000"/>
<circle cx="90.3" cy="553.1" r="3.0" fill="#000"/>
<circle cx="93.8" cy="548.8" r="3.0" fill="#000"/>
<circle cx="97.7" cy="554.6" r="3.0" fill="#000"/>
<circle cx="101.1" cy="547.7" r="3.0" fill="#000"/>
<circle cx="104.6" cy="550.0" r="3.0" fill="#000"/>
<circle cx="90.0" cy="560.8" r="3.0" fill="#000"/>
<circle cx="86.6" cy="552.0" r="3.0" fill="#000"/>
<circle cx="94.0" cy="552.0" r="3.0" fill="#000"/>
<circle cx="179.7" cy="503.1" r="3.0" fill="#000"/>
<circle cx="179.7" cy="513.1" r="3.0" fill="#000"/>
<circle cx="179.7" cy="531.5" r="3.0" fill="#000"/>
<circle cx="169.2" cy="542.3" r="3.0" fill="#000"/>
<circle cx="176.2" cy="545.1" r="3.0" fill="#000"/>
<circle cx="183.4" cy="544.2" r="3.0" fill="#000"/>
<circle cx="190.5" cy="540.0" r="3.0" fill="#000"/>
<circle cx="169.2" cy="552.3" r="3.0" fill="#000"/>
<circle cx="176.2" cy="553.4" r="3.0" fill="#000"/>
<circle cx="183.4" cy="555.8" r="3.0" fill="#000"/>
<circle cx="183.4" cy="559.5" r="3.0" fill="#000"/>
<circle cx="190.5" cy="553.4" r="3.0" fill="#000"/>
<circle cx="176.2" cy="563.8" r="3.0" fill="#000"/>
<circle cx="118.8" cy="561.8" r="2.2" fill="#fff" stroke="#000" stroke-width="1.35"/>
<circle cx="140.3" cy="562.3" r="2.2" fill="#fff" stroke="#000" stroke-width="1.35"/>
<circle cx="126.2" cy="565.1" r="2.2" fill="#fff" stroke="#000" stroke-width="1.35"/>
<circle cx="133.1" cy="567.4" r="2.2" fill="#fff" stroke="#000" stroke-width="1.35"/>
<circle cx="115.4" cy="571.5" r="2.2" fill="#fff" stroke="#000" stroke-width="1.35"/>
<circle cx="118.9" cy="569.2" r="2.2" fill="#fff" stroke="#000" stroke-width="1.35"/>
<circle cx="122.3" cy="572.3" r="2.2" fill="#fff" stroke="#000" stroke-width="1.35"/>
<circle cx="126.2" cy="570.8" r="2.2" fill="#fff" stroke="#000" stroke-width="1.35"/>
<circle cx="133.1" cy="571.2" r="2.2" fill="#fff" stroke="#000" stroke-width="1.35"/>
<circle cx="140.3" cy="570.3" r="2.2" fill="#fff" stroke="#000" stroke-width="1.35"/>
<circle cx="143.8" cy="572.3" r="2.2" fill="#fff" stroke="#000" stroke-width="1.35"/>
<circle cx="129.2" cy="575.8" r="2.2" fill="#fff" stroke="#000" stroke-width="1.35"/>
<circle cx="136.5" cy="574.6" r="2.2" fill="#fff" stroke="#000" stroke-width="1.35"/>
<circle cx="218.9" cy="548.0" r="2.2" fill="#fff" stroke="#000" stroke-width="1.35"/>
<circle cx="222.3" cy="554.9" r="2.2" fill="#fff" stroke="#000" stroke-width="1.35"/>
<circle cx="208.2" cy="561.8" r="2.2" fill="#fff" stroke="#000" stroke-width="1.35"/>
<circle cx="215.4" cy="561.1" r="2.2" fill="#fff" stroke="#000" stroke-width="1.35"/>
<circle cx="215.4" cy="564.9" r="2.2" fill="#fff" stroke="#000" stroke-width="1.35"/>
<circle cx="229.5" cy="564.6" r="2.2" fill="#fff" stroke="#000" stroke-width="1.35"/>
<circle cx="222.3" cy="569.2" r="2.2" fill="#fff" stroke="#000" stroke-width="1.35"/>
<circle cx="204.6" cy="572.6" r="2.2" fill="#fff" stroke="#000" stroke-width="1.35"/>
<circle cx="211.8" cy="573.8" r="2.2" fill="#fff" stroke="#000" stroke-width="1.35"/>
<circle cx="218.9" cy="576.6" r="2.2" fill="#fff" stroke="#000" stroke-width="1.35"/>
<circle cx="225.8" cy="573.8" r="2.2" fill="#fff" stroke="#000" stroke-width="1.35"/>
<circle cx="233.1" cy="573.5" r="2.2" fill="#fff" stroke="#000" stroke-width="1.35"/>
<line x1="333.10" y1="490.00" x2="333.10" y2="610.00" stroke="#000" stroke-width="1.4"/>
<line x1="332.40" y1="609.30" x2="511.10" y2="609.30" stroke="#000" stroke-width="1.4"/>
<line x1="326.80" y1="609.30" x2="333.10" y2="609.30" stroke="#000" stroke-width="1.3"/>
<line x1="326.80" y1="585.58" x2="333.10" y2="585.58" stroke="#000" stroke-width="1.3"/>
<line x1="326.80" y1="561.86" x2="333.10" y2="561.86" stroke="#000" stroke-width="1.3"/>
<line x1="326.80" y1="538.14" x2="333.10" y2="538.14" stroke="#000" stroke-width="1.3"/>
<line x1="326.80" y1="514.42" x2="333.10" y2="514.42" stroke="#000" stroke-width="1.3"/>
<line x1="326.80" y1="490.70" x2="333.10" y2="490.70" stroke="#000" stroke-width="1.3"/>
<line x1="377.80" y1="609.30" x2="377.80" y2="615.50" stroke="#000" stroke-width="1.3"/>
<line x1="466.70" y1="609.30" x2="466.70" y2="615.50" stroke="#000" stroke-width="1.3"/>
<line x1="360.00" y1="482.70" x2="487.00" y2="482.70" stroke="#000" stroke-width="1.3"/>
<circle cx="354.2" cy="550.0" r="3.0" fill="#000"/>
<circle cx="361.6" cy="551.1" r="3.0" fill="#000"/>
<circle cx="347.3" cy="554.6" r="3.0" fill="#000"/>
<circle cx="368.8" cy="554.6" r="3.0" fill="#000"/>
<circle cx="354.2" cy="560.8" r="3.0" fill="#000"/>
<circle cx="361.6" cy="559.7" r="3.0" fill="#000"/>
<circle cx="343.8" cy="563.8" r="3.0" fill="#000"/>
<circle cx="372.4" cy="563.8" r="3.0" fill="#000"/>
<circle cx="350.8" cy="567.7" r="3.0" fill="#000"/>
<circle cx="357.8" cy="568.5" r="3.0" fill="#000"/>
<circle cx="361.9" cy="570.0" r="3.0" fill="#000"/>
<circle cx="365.3" cy="566.2" r="3.0" fill="#000"/>
<circle cx="354.2" cy="576.2" r="3.0" fill="#000"/>
<circle cx="444.2" cy="507.0" r="3.0" fill="#000"/>
<circle cx="451.1" cy="505.0" r="3.0" fill="#000"/>
<circle cx="454.7" cy="526.4" r="3.0" fill="#000"/>
<circle cx="440.0" cy="530.6" r="3.0" fill="#000"/>
<circle cx="446.9" cy="533.6" r="3.0" fill="#000"/>
<circle cx="451.1" cy="537.8" r="3.0" fill="#000"/>
<circle cx="444.2" cy="543.3" r="3.0" fill="#000"/>
<circle cx="436.7" cy="552.8" r="3.0" fill="#000"/>
<circle cx="444.2" cy="552.8" r="3.0" fill="#000"/>
<circle cx="458.1" cy="552.8" r="3.0" fill="#000"/>
<circle cx="451.1" cy="558.3" r="3.0" fill="#000"/>
<circle cx="451.1" cy="561.1" r="3.0" fill="#000"/>
<circle cx="444.2" cy="567.5" r="3.0" fill="#000"/>
<circle cx="393.5" cy="570.0" r="2.2" fill="#fff" stroke="#000" stroke-width="1.35"/>
<circle cx="400.7" cy="568.5" r="2.2" fill="#fff" stroke="#000" stroke-width="1.35"/>
<circle cx="408.1" cy="570.8" r="2.2" fill="#fff" stroke="#000" stroke-width="1.35"/>
<circle cx="386.5" cy="572.3" r="2.2" fill="#fff" stroke="#000" stroke-width="1.35"/>
<circle cx="393.5" cy="574.2" r="2.2" fill="#fff" stroke="#000" stroke-width="1.35"/>
<circle cx="400.7" cy="573.5" r="2.2" fill="#fff" stroke="#000" stroke-width="1.35"/>
<circle cx="393.5" cy="576.9" r="2.2" fill="#fff" stroke="#000" stroke-width="1.35"/>
<circle cx="400.7" cy="578.2" r="2.2" fill="#fff" stroke="#000" stroke-width="1.35"/>
<circle cx="386.5" cy="580.8" r="2.2" fill="#fff" stroke="#000" stroke-width="1.35"/>
<circle cx="393.5" cy="581.8" r="2.2" fill="#fff" stroke="#000" stroke-width="1.35"/>
<circle cx="400.7" cy="581.8" r="2.2" fill="#fff" stroke="#000" stroke-width="1.35"/>
<circle cx="408.1" cy="581.5" r="2.2" fill="#fff" stroke="#000" stroke-width="1.35"/>
<circle cx="397.0" cy="590.8" r="2.2" fill="#fff" stroke="#000" stroke-width="1.35"/>
<circle cx="483.3" cy="553.6" r="2.2" fill="#fff" stroke="#000" stroke-width="1.35"/>
<circle cx="490.3" cy="554.2" r="2.2" fill="#fff" stroke="#000" stroke-width="1.35"/>
<circle cx="490.3" cy="558.6" r="2.2" fill="#fff" stroke="#000" stroke-width="1.35"/>
<circle cx="476.4" cy="566.7" r="2.2" fill="#fff" stroke="#000" stroke-width="1.35"/>
<circle cx="483.3" cy="565.6" r="2.2" fill="#fff" stroke="#000" stroke-width="1.35"/>
<circle cx="483.3" cy="568.9" r="2.2" fill="#fff" stroke="#000" stroke-width="1.35"/>
<circle cx="497.2" cy="567.5" r="2.2" fill="#fff" stroke="#000" stroke-width="1.35"/>
<circle cx="490.3" cy="573.1" r="2.2" fill="#fff" stroke="#000" stroke-width="1.35"/>
<circle cx="497.2" cy="577.2" r="2.2" fill="#fff" stroke="#000" stroke-width="1.35"/>
<circle cx="476.4" cy="581.4" r="2.2" fill="#fff" stroke="#000" stroke-width="1.35"/>
<circle cx="483.3" cy="582.2" r="2.2" fill="#fff" stroke="#000" stroke-width="1.35"/>
<circle cx="490.3" cy="581.4" r="2.2" fill="#fff" stroke="#000" stroke-width="1.35"/>
<text transform="translate(0.45,12.65) scale(0.9468,1)" x="-0.45" font-size="17.97" font-weight="bold" font-style="normal" >A</text>
<text transform="translate(1.15,282.35) scale(0.9921,1)" x="-1.15" font-size="17.68" font-weight="bold" font-style="normal" >B</text>
<text transform="translate(267.15,12.87) scale(0.9599,1)" x="-0.74" font-size="18.45" font-weight="bold" font-style="normal" >C</text>
<text transform="translate(268.05,282.35) scale(0.9840,1)" x="-1.15" font-size="17.68" font-weight="bold" font-style="normal" >D</text>
<text transform="translate(1.15,474.25) scale(0.9652,1)" x="-1.17" font-size="17.97" font-weight="bold" font-style="normal" >E</text>
<text transform="translate(267.55,474.25) scale(1.1347,1)" x="-1.17" font-size="17.97" font-weight="bold" font-style="normal" >F</text>
<text transform="translate(48.25,22.20) scale(0.9804,1.0000)" x="-0.88" font-size="13.6" font-weight="normal" font-style="normal" >no peptide</text>
<text transform="translate(141.35,22.40) scale(0.9734,1.0000)" x="-0.68" font-size="13.6" font-weight="normal" font-style="normal" >+gp33 peptide</text>
<text transform="translate(317.35,22.20) scale(0.9739,1.0000)" x="-0.88" font-size="13.6" font-weight="normal" font-style="normal" >no peptide</text>
<text transform="translate(413.35,22.40) scale(0.9734,1.0000)" x="-0.68" font-size="13.6" font-weight="normal" font-style="normal" >+gp61 peptide</text>
<text transform="translate(84.05,45.24) scale(1.0405,1)" x="-0.68" font-size="11.27" font-weight="bold" font-style="normal" >19</text>
<text transform="translate(190.25,45.14) scale(1.0191,1)" x="-0.27" font-size="10.99" font-weight="bold" font-style="normal" >37</text>
<text transform="translate(80.25,151.74) scale(1.0135,1)" x="-0.33" font-size="11.13" font-weight="bold" font-style="normal" >8.23</text>
<text transform="translate(186.55,151.74) scale(1.0244,1)" x="-0.67" font-size="11.13" font-weight="bold" font-style="normal" >19.5</text>
<text transform="translate(353.65,45.44) scale(0.9961,1)" x="-0.34" font-size="11.27" font-weight="bold" font-style="normal" >8.43</text>
<text transform="translate(459.75,45.44) scale(1.0554,1)" x="-0.68" font-size="11.27" font-weight="bold" font-style="normal" >15.6</text>
<text transform="translate(353.65,151.74) scale(0.9981,1)" x="-0.17" font-size="11.13" font-weight="bold" font-style="normal" >4.58</text>
<text transform="translate(460.25,151.74) scale(1.0756,1)" x="-0.33" font-size="11.13" font-weight="bold" font-style="normal" >5.16</text>
<text transform="translate(248.30,111.25) rotate(-90) scale(0.9285,1.0000)" x="-0.40" font-size="13.4" font-weight="normal" font-style="italic" >Prf1</text>
<text transform="translate(242.90,88.30) rotate(-90) scale(0.8265,1.0000)" x="-0.34" font-size="7.5" font-weight="normal" font-style="normal" >-/-</text>
<text transform="translate(248.30,81.15) rotate(-90) scale(0.9998,1.0000)" x="-0.67" font-size="13.4" font-weight="normal" font-style="normal" >Control</text>
<text transform="translate(248.40,215.45) rotate(-90) scale(0.9198,1.0000)" x="-0.40" font-size="13.4" font-weight="normal" font-style="italic" >Prf1</text>
<text transform="translate(243.00,193.60) rotate(-90) scale(0.8265,1.0000)" x="-0.34" font-size="7.5" font-weight="normal" font-style="normal" >-/-</text>
<text transform="translate(248.40,185.95) rotate(-90) scale(1.0344,1.0000)" x="-0.54" font-size="13.4" font-weight="normal" font-style="normal" >α-ST2</text>
<text transform="translate(519.60,112.75) rotate(-90) scale(0.9155,1.0000)" x="-0.40" font-size="13.4" font-weight="normal" font-style="italic" >Prf1</text>
<text transform="translate(514.20,91.00) rotate(-90) scale(0.8265,1.0000)" x="-0.34" font-size="7.5" font-weight="normal" font-style="normal" >-/-</text>
<text transform="translate(519.60,83.55) rotate(-90) scale(0.9998,1.0000)" x="-0.67" font-size="13.4" font-weight="normal" font-style="normal" >Control</text>
<text transform="translate(519.60,216.25) rotate(-90) scale(0.8894,1.0000)" x="-0.40" font-size="13.4" font-weight="normal" font-style="italic" >Prf1</text>
<text transform="translate(514.20,194.80) rotate(-90) scale(0.8265,1.0000)" x="-0.34" font-size="7.5" font-weight="normal" font-style="normal" >-/-</text>
<text transform="translate(519.60,186.05) rotate(-90) scale(1.0456,1.0000)" x="-0.54" font-size="13.4" font-weight="normal" font-style="normal" >α-ST2</text>
<text transform="translate(18.80,234.25) rotate(-90) scale(1.1549,1.0000)" x="-0.68" font-size="13.6" font-weight="normal" font-style="normal" >CD8</text>
<text transform="translate(290.30,234.15) rotate(-90) scale(0.9612,1.0000)" x="-0.68" font-size="13.6" font-weight="normal" font-style="normal" >CD4</text>
<text transform="translate(24.25,250.00) scale(0.9305,1.0000)" x="-1.22" font-size="13.6" font-weight="normal" font-style="normal" >IFNγ</text>
<text transform="translate(295.85,249.90) scale(0.9123,1.0000)" x="-1.22" font-size="13.6" font-weight="normal" font-style="normal" >IFNγ</text>
<text transform="translate(18.80,414.95) rotate(-90) scale(0.9726,1.0000)" x="-1.21"><tspan font-size="13.4" font-weight="normal" font-style="normal" dy="-0.00">IFNγ</tspan><tspan font-size="7.0" font-weight="normal" font-style="normal" dy="-4.60">+</tspan><tspan font-size="13.4" font-weight="normal" font-style="normal" dy="4.60"> gp33-specific</tspan></text>
<text transform="translate(33.60,407.05) rotate(-90) scale(0.9835,1.0000)" x="-0.67"><tspan font-size="13.4" font-weight="normal" font-style="normal" dy="-0.00">CD8</tspan><tspan font-size="7.0" font-weight="normal" font-style="normal" dy="-4.60">+</tspan><tspan font-size="13.4" font-weight="normal" font-style="normal" dy="4.60"> T cells (%)</tspan></text>
<text transform="translate(289.20,413.35) rotate(-90) scale(0.9585,1.0000)" x="-1.21"><tspan font-size="13.4" font-weight="normal" font-style="normal" dy="-0.00">IFNγ</tspan><tspan font-size="7.0" font-weight="normal" font-style="normal" dy="-4.60">+</tspan><tspan font-size="13.4" font-weight="normal" font-style="normal" dy="4.60"> gp61-specific</tspan></text>
<text transform="translate(304.40,406.05) rotate(-90) scale(0.9730,1.0000)" x="-0.67"><tspan font-size="13.4" font-weight="normal" font-style="normal" dy="-0.00">CD4</tspan><tspan font-size="7.0" font-weight="normal" font-style="normal" dy="-4.60">+</tspan><tspan font-size="13.4" font-weight="normal" font-style="normal" dy="4.60"> T cells (%)</tspan></text>
<text transform="translate(18.70,595.45) rotate(-90) scale(0.9771,1.0000)" x="-0.67"><tspan font-size="13.4" font-weight="normal" font-style="normal" dy="-0.00">CD8</tspan><tspan font-size="7.0" font-weight="normal" font-style="normal" dy="-4.60">+</tspan><tspan font-size="13.4" font-weight="normal" font-style="normal" dy="4.60"> T cell IFNγ</tspan></text>
<text transform="translate(32.50,596.35) rotate(-90) scale(0.9756,1.0000)" x="-1.07"><tspan font-size="13.4" font-weight="normal" font-style="normal" dy="-0.00">MFI (fold change)</tspan></text>
<text transform="translate(286.10,595.45) rotate(-90) scale(0.9638,1.0000)" x="-0.67"><tspan font-size="13.4" font-weight="normal" font-style="normal" dy="-0.00">CD4</tspan><tspan font-size="7.0" font-weight="normal" font-style="normal" dy="-4.60">+</tspan><tspan font-size="13.4" font-weight="normal" font-style="normal" dy="4.60"> T cell IFNγ</tspan></text>
<text transform="translate(300.20,596.35) rotate(-90) scale(0.9756,1.0000)" x="-1.07"><tspan font-size="13.4" font-weight="normal" font-style="normal" dy="-0.00">MFI (fold change)</tspan></text>
<text transform="translate(99.35,440.50) scale(0.9853,1.0000)" x="-0.07" font-size="13.4" font-weight="normal" font-style="normal" >WT</text>
<text transform="translate(367.25,441.30) scale(0.8780,1.0000)" x="-0.07" font-size="13.4" font-weight="normal" font-style="normal" >WT</text>
<text transform="translate(99.35,629.30) scale(0.9755,1.0000)" x="-0.07" font-size="13.4" font-weight="normal" font-style="normal" >WT</text>
<text transform="translate(368.45,629.30) scale(0.8926,1.0000)" x="-0.07" font-size="13.4" font-weight="normal" font-style="normal" >WT</text>
<text transform="translate(185.65,440.60) scale(0.8956,1.0000)" x="-0.40"><tspan font-size="13.4" font-weight="normal" font-style="italic" dy="-0.00">Prf1</tspan><tspan font-size="8.0" font-weight="normal" font-style="normal" dy="-4.80">-/-</tspan></text>
<text transform="translate(453.25,441.30) scale(0.8606,1.0000)" x="-0.40"><tspan font-size="13.4" font-weight="normal" font-style="italic" dy="-0.00">Prf1</tspan><tspan font-size="8.0" font-weight="normal" font-style="normal" dy="-4.80">-/-</tspan></text>
<text transform="translate(186.05,629.30) scale(0.8669,1.0000)" x="-0.40"><tspan font-size="13.4" font-weight="normal" font-style="italic" dy="-0.00">Prf1</tspan><tspan font-size="8.0" font-weight="normal" font-style="normal" dy="-4.80">-/-</tspan></text>
<text transform="translate(453.45,629.30) scale(0.8765,1.0000)" x="-0.40"><tspan font-size="13.4" font-weight="normal" font-style="italic" dy="-0.00">Prf1</tspan><tspan font-size="8.0" font-weight="normal" font-style="normal" dy="-4.80">-/-</tspan></text>
<text transform="translate(134.25,284.50) scale(0.9543,1.0000)" x="-0.68" font-size="12.4" font-weight="normal" font-style="normal" >§§§</text>
<text transform="translate(156.25,284.50) scale(0.8869,1.0000)" x="-0.25" font-size="12.4" font-weight="normal" font-style="italic" >###</text>
<text transform="translate(402.05,284.20) scale(0.9854,1.0000)" x="-0.68" font-size="12.4" font-weight="normal" font-style="normal" >§§§</text>
<text transform="translate(425.15,284.20) scale(0.9971,1.0000)" x="-0.25" font-size="12.4" font-weight="normal" font-style="italic" >##</text>
<text transform="translate(141.25,476.00) scale(0.9335,1.0000)" x="-0.68" font-size="12.4" font-weight="normal" font-style="normal" >§§§</text>
<text transform="translate(163.55,476.00) scale(0.7843,1.0000)" x="-0.25" font-size="12.4" font-weight="normal" font-style="italic" >#</text>
<text transform="translate(411.85,476.60) scale(0.9231,1.0000)" x="-0.68" font-size="12.4" font-weight="normal" font-style="normal" >§§§</text>
<text transform="translate(433.85,476.60) scale(0.9112,1.0000)" x="-0.25" font-size="12.4" font-weight="normal" font-style="italic" >###</text>
<text transform="translate(398.55,481.78) scale(1.0560,1)" x="-0.25" font-size="16.57" font-weight="normal" font-style="normal" >*</text>
<text transform="translate(52.43,426.20) scale(0.8473,1.0000)" x="-0.50" font-size="12.6" font-weight="normal" font-style="normal" >0</text>
<text transform="translate(52.48,402.29) scale(0.8465,1.0000)" x="-0.50" font-size="12.6" font-weight="normal" font-style="normal" >5</text>
<text transform="translate(46.33,378.38) scale(0.8903,1.0000)" x="-0.94" font-size="12.6" font-weight="normal" font-style="normal" >10</text>
<text transform="translate(46.39,354.47) scale(0.8901,1.0000)" x="-0.94" font-size="12.6" font-weight="normal" font-style="normal" >15</text>
<text transform="translate(46.04,330.56) scale(0.8913,1.0000)" x="-0.63" font-size="12.6" font-weight="normal" font-style="normal" >20</text>
<text transform="translate(46.10,306.65) scale(0.8911,1.0000)" x="-0.63" font-size="12.6" font-weight="normal" font-style="normal" >25</text>
<text transform="translate(319.63,425.50) scale(0.8473,1.0000)" x="-0.50" font-size="12.6" font-weight="normal" font-style="normal" >0</text>
<text transform="translate(319.68,395.79) scale(0.8465,1.0000)" x="-0.50" font-size="12.6" font-weight="normal" font-style="normal" >3</text>
<text transform="translate(319.80,366.08) scale(0.8447,1.0000)" x="-0.63" font-size="12.6" font-weight="normal" font-style="normal" >6</text>
<text transform="translate(319.80,336.36) scale(0.8447,1.0000)" x="-0.57" font-size="12.6" font-weight="normal" font-style="normal" >9</text>
<text transform="translate(313.71,306.65) scale(0.8897,1.0000)" x="-0.94" font-size="12.6" font-weight="normal" font-style="normal" >12</text>
<text transform="translate(43.14,615.90) scale(0.8998,1.0000)" x="-0.50" font-size="12.6" font-weight="normal" font-style="normal" >0.0</text>
<text transform="translate(43.20,586.12) scale(0.8997,1.0000)" x="-0.50" font-size="12.6" font-weight="normal" font-style="normal" >0.5</text>
<text transform="translate(43.55,556.35) scale(0.8990,1.0000)" x="-0.94" font-size="12.6" font-weight="normal" font-style="normal" >1.0</text>
<text transform="translate(43.61,526.57) scale(0.8989,1.0000)" x="-0.94" font-size="12.6" font-weight="normal" font-style="normal" >1.5</text>
<text transform="translate(43.26,496.80) scale(0.8996,1.0000)" x="-0.63" font-size="12.6" font-weight="normal" font-style="normal" >2.0</text>
<text transform="translate(310.84,614.70) scale(0.8998,1.0000)" x="-0.50" font-size="12.6" font-weight="normal" font-style="normal" >0.0</text>
<text transform="translate(310.90,590.98) scale(0.8997,1.0000)" x="-0.50" font-size="12.6" font-weight="normal" font-style="normal" >0.5</text>
<text transform="translate(311.25,567.26) scale(0.8990,1.0000)" x="-0.94" font-size="12.6" font-weight="normal" font-style="normal" >1.0</text>
<text transform="translate(311.31,543.54) scale(0.8989,1.0000)" x="-0.94" font-size="12.6" font-weight="normal" font-style="normal" >1.5</text>
<text transform="translate(310.96,519.82) scale(0.8996,1.0000)" x="-0.63" font-size="12.6" font-weight="normal" font-style="normal" >2.0</text>
<text transform="translate(311.02,496.10) scale(0.8995,1.0000)" x="-0.63" font-size="12.6" font-weight="normal" font-style="normal" >2.5</text>
</svg></body></html>
